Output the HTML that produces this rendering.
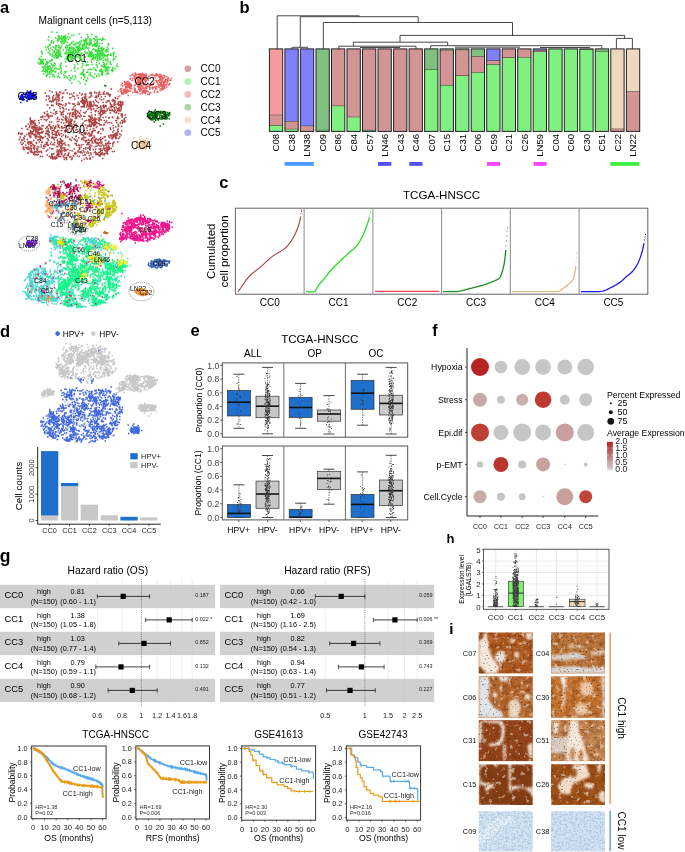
<!DOCTYPE html><html><head><meta charset="utf-8"><style>html,body{margin:0;padding:0;background:#fff;}svg{display:block;filter:blur(0.3px);}text{font-family:"Liberation Sans", sans-serif;}</style></head><body>
<svg width="685" height="852" viewBox="0 0 685 852" font-family='"Liberation Sans", sans-serif'>
<rect width="685" height="852" fill="#fff"/>
<path transform="scale(.5)" fill="none" stroke="#b04646" stroke-width="3" d="M221 178h3m-95 2h3m-2 0h3m-35 2h3m106 1h3m-107 1h3m5 0h3m4 0h3m67 0h3m7 0h3m-81 1h3m58 0h3m-95 1h3m34 0h3m4 0h3m10 0h3m9 0h3m17 0h3m0 0h3m4 0h3m1 0h3m1 0h3m6 0h3m4 0h3m-103 1h3m9 0h3m53 0h3m22 0h3m5 0h3m-1 0h3m-102 1h3m19 0h3m1 0h3m18 0h3m4 0h3m32 0h3m0 0h3m2 0h3m-48 1h3m26 0h3m0 0h3m13 0h3m0 0h3m-111 1h3m0 0h3m0 0h3m42 0h3m16 0h3m11 0h3m19 0h3m-2 0h3m-115 1h3m6 0h3m35 0h3m-2 0h3m-65 1h3m1 0h3m16 0h3m26 0h3m23 0h3m9 0h3m6 0h3m-102 1h3m21 0h3m28 0h3m45 0h3m11 0h3m6 0h3m-117 1h3m4 0h3m0 0h3m7 0h3m40 0h3m0 0h3m6 0h3m9 0h3m7 0h3m-106 1h3m15 0h3m21 0h3m34 0h3m9 0h3m0 0h3m34 0h3m-109 1h3m12 0h3m14 0h3m5 0h3m-62 1h3m2 0h3m-2 0h3m4 0h3m48 0h3m-1 0h3m57 0h3m1 0h3m-141 1h3m5 0h3m41 0h3m47 0h3m5 0h3m-100 1h3m2 0h3m-2 0h3m45 0h3m6 0h3m50 0h3m-137 1h3m10 0h3m0 0h3m-2 0h3m1 0h3m1 0h3m47 0h3m2 0h3m16 0h3m9 0h3m-82 1h3m36 0h3m-2 0h3m-1 0h3m-2 0h3m-2 0h3m45 0h3m5 0h3m2 0h3m-132 1h3m14 0h3m47 0h3m0 0h3m0 0h3m39 0h3m0 0h3m4 0h3m0 0h3m-132 1h3m0 0h3m1 0h3m52 0h3m17 0h3m2 0h3m4 0h3m18 0h3m22 0h3m-2 0h3m-140 1h3m7 0h3m48 0h3m0 0h3m-1 0h3m-2 0h3m-2 0h3m1 0h3m1 0h3m48 0h3m3 0h3m1 0h3m0 0h3m-1 0h3m-92 1h3m4 0h3m0 0h3m-1 0h3m-1 0h3m23 0h3m7 0h3m3 0h3m26 0h3m-1 0h3m-134 1h3m22 0h3m30 0h3m-2 0h3m5 0h3m-1 0h3m4 0h3m29 0h3m5 0h3m-2 0h3m4 0h3m-123 1h3m0 0h3m9 0h3m5 0h3m16 0h3m4 0h3m0 0h3m-2 0h3m3 0h3m2 0h3m-1 0h3m35 0h3m18 0h3m1 0h3m-130 1h3m-2 0h3m23 0h3m0 0h3m24 0h3m1 0h3m-1 0h3m-2 0h3m43 0h3m4 0h3m-2 0h3m-126 1h3m6 0h3m7 0h3m20 0h3m0 0h3m6 0h3m5 0h3m1 0h3m-2 0h3m38 0h3m7 0h3m4 0h3m4 0h3m-154 1h3m-2 0h3m5 0h3m19 0h3m40 0h3m2 0h3m4 0h3m-2 0h3m2 0h3m0 0h3m15 0h3m13 0h3m2 0h3m5 0h3m-2 0h3m1 0h3m-2 0h3m-1 0h3m-2 0h3m-145 1h3m0 0h3m8 0h3m30 0h3m22 0h3m2 0h3m-1 0h3m6 0h3m-2 0h3m16 0h3m25 0h3m-112 1h3m34 0h3m-2 0h3m6 0h3m3 0h3m6 0h3m-1 0h3m4 0h3m1 0h3m4 0h3m7 0h3m-106 1h3m40 0h3m0 0h3m0 0h3m10 0h3m1 0h3m20 0h3m-1 0h3m-1 0h3m9 0h3m-1 0h3m12 0h3m-2 0h3m-98 1h3m13 0h3m2 0h3m2 0h3m3 0h3m38 0h3m9 0h3m-111 1h3m51 0h3m16 0h3m0 0h3m4 0h3m12 0h3m3 0h3m7 0h3m1 0h3m-146 1h3m24 0h3m50 0h3m20 0h3m3 0h3m-91 1h3m58 0h3m10 0h3m20 0h3m14 0h3m0 0h3m-113 1h3m2 0h3m11 0h3m27 0h3m3 0h3m-2 0h3m1 0h3m13 0h3m8 0h3m12 0h3m2 0h3m-1 0h3m3 0h3m-100 1h3m2 0h3m22 0h3m46 0h3m12 0h3m-134 1h3m26 0h3m4 0h3m35 0h3m15 0h3m-1 0h3m14 0h3m-71 1h3m7 0h3m28 0h3m8 0h3m1 0h3m-1 0h3m2 0h3m2 0h3m0 0h3m-1 0h3m3 0h3m2 0h3m0 0h3m-114 1h3m19 0h3m2 0h3m33 0h3m8 0h3m2 0h3m-2 0h3m16 0h3m-2 0h3m8 0h3m0 0h3m-150 1h3m16 0h3m4 0h3m3 0h3m26 0h3m14 0h3m15 0h3m3 0h3m5 0h3m-1 0h3m-1 0h3m-1 0h3m-2 0h3m19 0h3m-125 1h3m36 0h3m2 0h3m70 0h3m-143 1h3m10 0h3m18 0h3m0 0h3m18 0h3m6 0h3m9 0h3m12 0h3m15 0h3m2 0h3m-2 0h3m24 0h3m-96 1h3m1 0h3m12 0h3m8 0h3m36 0h3m8 0h3m8 0h3m-145 1h3m14 0h3m4 0h3m19 0h3m9 0h3m1 0h3m4 0h3m36 0h3m0 0h3m3 0h3m28 0h3m-145 1h3m12 0h3m9 0h3m14 0h3m5 0h3m2 0h3m87 0h3m-1 0h3m-154 1h3m27 0h3m0 0h3m16 0h3m1 0h3m-2 0h3m51 0h3m37 0h3m-125 1h3m14 0h3m2 0h3m13 0h3m20 0h3m4 0h3m7 0h3m-2 0h3m46 0h3m-159 1h3m0 0h3m142 0h3m-160 1h3m6 0h3m-1 0h3m2 0h3m0 0h3m24 0h3m16 0h3m1 0h3m-2 0h3m-2 0h3m3 0h3m12 0h3m-1 0h3m18 0h3m41 0h3m-157 1h3m5 0h3m43 0h3m-2 0h3m-2 0h3m18 0h3m-1 0h3m29 0h3m-123 1h3m0 0h3m-2 0h3m38 0h3m3 0h3m3 0h3m10 0h3m5 0h3m19 0h3m-1 0h3m25 0h3m10 0h3m8 0h3m6 0h3m-162 1h3m27 0h3m34 0h3m-2 0h3m24 0h3m23 0h3m9 0h3m4 0h3m23 0h3m-194 1h3m34 0h3m30 0h3m0 0h3m14 0h3m30 0h3m-2 0h3m2 0h3m4 0h3m0 0h3m15 0h3m-68 1h3m79 0h3m0 0h3m8 0h3m-137 1h3m16 0h3m1 0h3m1 0h3m20 0h3m14 0h3m-2 0h3m1 0h3m2 0h3m54 0h3m-191 1h3m19 0h3m3 0h3m-2 0h3m2 0h3m21 0h3m2 0h3m4 0h3m8 0h3m33 0h3m0 0h3m5 0h3m-2 0h3m1 0h3m3 0h3m-77 1h3m16 0h3m34 0h3m6 0h3m4 0h3m2 0h3m43 0h3m-188 1h3m3 0h3m5 0h3m12 0h3m36 0h3m-2 0h3m37 0h3m1 0h3m6 0h3m-2 0h3m-1 0h3m17 0h3m20 0h3m-1 0h3m7 0h3m-2 0h3m-186 1h3m0 0h3m-2 0h3m66 0h3m0 0h3m1 0h3m25 0h3m6 0h3m-1 0h3m15 0h3m12 0h3m33 0h3m-189 1h3m1 0h3m44 0h3m0 0h3m18 0h3m1 0h3m4 0h3m30 0h3m5 0h3m-2 0h3m51 0h3m2 0h3m-193 1h3m36 0h3m1 0h3m30 0h3m2 0h3m4 0h3m27 0h3m0 0h3m5 0h3m56 0h3m-187 1h3m-1 0h3m53 0h3m7 0h3m2 0h3m-1 0h3m-2 0h3m40 0h3m1 0h3m0 0h3m-1 0h3m15 0h3m-2 0h3m5 0h3m11 0h3m4 0h3m-182 1h3m5 0h3m6 0h3m46 0h3m6 0h3m0 0h3m24 0h3m16 0h3m2 0h3m-2 0h3m-1 0h3m-2 0h3m18 0h3m5 0h3m14 0h3m1 0h3m-181 1h3m72 0h3m-2 0h3m38 0h3m10 0h3m-1 0h3m-145 1h3m2 0h3m5 0h3m-2 0h3m65 0h3m1 0h3m7 0h3m9 0h3m12 0h3m1 0h3m-2 0h3m-2 0h3m1 0h3m-129 1h3m32 0h3m-2 0h3m13 0h3m20 0h3m-2 0h3m-2 0h3m3 0h3m-1 0h3m32 0h3m-2 0h3m0 0h3m1 0h3m14 0h3m25 0h3m-124 1h3m19 0h3m10 0h3m17 0h3m26 0h3m0 0h3m2 0h3m-151 1h3m8 0h3m0 0h3m10 0h3m8 0h3m17 0h3m9 0h3m-1 0h3m1 0h3m27 0h3m8 0h3m0 0h3m7 0h3m34 0h3m-177 1h3m12 0h3m13 0h3m20 0h3m2 0h3m19 0h3m-2 0h3m6 0h3m7 0h3m5 0h3m10 0h3m0 0h3m2 0h3m2 0h3m47 0h3m-189 1h3m5 0h3m3 0h3m1 0h3m22 0h3m3 0h3m-2 0h3m19 0h3m12 0h3m38 0h3m0 0h3m9 0h3m39 0h3m4 0h3m-183 1h3m0 0h3m9 0h3m35 0h3m112 0h3m-176 1h3m3 0h3m0 0h3m-1 0h3m-1 0h3m0 0h3m2 0h3m11 0h3m5 0h3m-2 0h3m4 0h3m-1 0h3m4 0h3m8 0h3m12 0h3m-2 0h3m-1 0h3m2 0h3m37 0h3m-132 1h3m3 0h3m9 0h3m20 0h3m1 0h3m-2 0h3m-2 0h3m-2 0h3m9 0h3m0 0h3m44 0h3m44 0h3m3 0h3m-186 1h3m19 0h3m3 0h3m-2 0h3m3 0h3m10 0h3m2 0h3m10 0h3m26 0h3m45 0h3m-2 0h3m15 0h3m-154 1h3m15 0h3m1 0h3m1 0h3m1 0h3m14 0h3m38 0h3m-1 0h3m54 0h3m32 0h3m-184 1h3m9 0h3m4 0h3m-2 0h3m1 0h3m0 0h3m50 0h3m16 0h3m2 0h3m18 0h3m38 0h3m-154 1h3m-2 0h3m4 0h3m26 0h3m41 0h3m52 0h3m26 0h3m-178 1h3m4 0h3m25 0h3m-2 0h3m5 0h3m8 0h3m-1 0h3m2 0h3m-2 0h3m4 0h3m35 0h3m3 0h3m9 0h3m-1 0h3m-1 0h3m34 0h3m-155 1h3m14 0h3m13 0h3m4 0h3m11 0h3m10 0h3m98 0h3m-183 1h3m-1 0h3m-2 0h3m2 0h3m0 0h3m7 0h3m-1 0h3m6 0h3m10 0h3m3 0h3m18 0h3m21 0h3m23 0h3m9 0h3m36 0h3m-178 1h3m0 0h3m31 0h3m10 0h3m16 0h3m50 0h3m39 0h3m-191 1h3m23 0h3m5 0h3m1 0h3m-1 0h3m-2 0h3m0 0h3m-2 0h3m13 0h3m3 0h3m6 0h3m31 0h3m19 0h3m5 0h3m4 0h3m8 0h3m37 0h3m-181 1h3m-2 0h3m-1 0h3m-1 0h3m-1 0h3m11 0h3m-2 0h3m-1 0h3m0 0h3m6 0h3m21 0h3m39 0h3m10 0h3m21 0h3m33 0h3m-1 0h3m-196 1h3m0 0h3m12 0h3m-1 0h3m-1 0h3m9 0h3m13 0h3m10 0h3m15 0h3m76 0h3m27 0h3m-197 1h3m2 0h3m12 0h3m2 0h3m-2 0h3m-2 0h3m-2 0h3m-1 0h3m4 0h3m17 0h3m-1 0h3m11 0h3m-1 0h3m47 0h3m2 0h3m0 0h3m1 0h3m1 0h3m1 0h3m-2 0h3m43 0h3m0 0h3m4 0h3m-200 1h3m8 0h3m11 0h3m-1 0h3m-2 0h3m5 0h3m24 0h3m0 0h3m6 0h3m60 0h3m45 0h3m1 0h3m-2 0h3m-168 1h3m27 0h3m18 0h3m4 0h3m35 0h3m53 0h3m1 0h3m-2 0h3m4 0h3m7 0h3m-187 1h3m11 0h3m21 0h3m12 0h3m0 0h3m14 0h3m49 0h3m36 0h3m-2 0h3m3 0h3m0 0h3m-1 0h3m-188 1h3m7 0h3m-1 0h3m16 0h3m69 0h3m12 0h3m8 0h3m0 0h3m4 0h3m26 0h3m1 0h3m2 0h3m0 0h3m-183 1h3m9 0h3m6 0h3m-1 0h3m0 0h3m4 0h3m5 0h3m11 0h3m16 0h3m25 0h3m56 0h3m-173 1h3m17 0h3m7 0h3m-2 0h3m3 0h3m0 0h3m15 0h3m30 0h3m1 0h3m50 0h3m17 0h3m20 0h3m5 0h3m-202 1h3m4 0h3m11 0h3m20 0h3m-1 0h3m17 0h3m0 0h3m0 0h3m16 0h3m10 0h3m21 0h3m0 0h3m15 0h3m9 0h3m14 0h3m3 0h3m0 0h3m-159 1h3m7 0h3m19 0h3m-1 0h3m49 0h3m4 0h3m-2 0h3m17 0h3m34 0h3m8 0h3m-151 1h3m6 0h3m10 0h3m10 0h3m60 0h3m-2 0h3m18 0h3m23 0h3m-2 0h3m2 0h3m-192 1h3m28 0h3m-2 0h3m56 0h3m6 0h3m14 0h3m24 0h3m3 0h3m23 0h3m-189 1h3m13 0h3m39 0h3m22 0h3m16 0h3m20 0h3m11 0h3m11 0h3m6 0h3m-1 0h3m-162 1h3m-1 0h3m27 0h3m-1 0h3m28 0h3m3 0h3m33 0h3m1 0h3m10 0h3m6 0h3m-2 0h3m3 0h3m2 0h3m4 0h3m-2 0h3m-155 1h3m20 0h3m11 0h3m12 0h3m23 0h3m17 0h3m28 0h3m4 0h3m18 0h3m6 0h3m-2 0h3m-99 1h3m5 0h3m-1 0h3m42 0h3m-1 0h3m15 0h3m8 0h3m-155 1h3m4 0h3m59 0h3m0 0h3m0 0h3m26 0h3m28 0h3m2 0h3m25 0h3m-163 1h3m0 0h3m0 0h3m12 0h3m3 0h3m15 0h3m13 0h3m-1 0h3m48 0h3m54 0h3m4 0h3m-197 1h3m13 0h3m12 0h3m8 0h3m6 0h3m-1 0h3m12 0h3m7 0h3m-1 0h3m-2 0h3m53 0h3m9 0h3m-1 0h3m-1 0h3m2 0h3m2 0h3m9 0h3m7 0h3m-183 1h3m6 0h3m57 0h3m11 0h3m43 0h3m6 0h3m-2 0h3m9 0h3m2 0h3m-145 1h3m0 0h3m7 0h3m39 0h3m1 0h3m-2 0h3m-2 0h3m-2 0h3m-2 0h3m1 0h3m20 0h3m-1 0h3m37 0h3m0 0h3m4 0h3m6 0h3m-1 0h3m-1 0h3m-1 0h3m0 0h3m3 0h3m-136 1h3m4 0h3m3 0h3m15 0h3m-2 0h3m49 0h3m17 0h3m25 0h3m-185 1h3m-2 0h3m10 0h3m5 0h3m22 0h3m-2 0h3m-1 0h3m-1 0h3m6 0h3m10 0h3m32 0h3m11 0h3m4 0h3m0 0h3m33 0h3m-164 1h3m28 0h3m23 0h3m7 0h3m9 0h3m4 0h3m17 0h3m2 0h3m15 0h3m14 0h3m5 0h3m5 0h3m-155 1h3m2 0h3m0 0h3m15 0h3m5 0h3m-2 0h3m25 0h3m9 0h3m-2 0h3m13 0h3m2 0h3m49 0h3m4 0h3m-158 1h3m55 0h3m-2 0h3m59 0h3m7 0h3m-2 0h3m3 0h3m-1 0h3m2 0h3m15 0h3m-160 1h3m16 0h3m0 0h3m20 0h3m-1 0h3m4 0h3m54 0h3m8 0h3m-146 1h3m6 0h3m15 0h3m0 0h3m2 0h3m77 0h3m48 0h3m1 0h3m-174 1h3m2 0h3m0 0h3m101 0h3m55 0h3m-166 1h3m2 0h3m-2 0h3m-2 0h3m-2 0h3m2 0h3m-2 0h3m-1 0h3m27 0h3m19 0h3m0 0h3m0 0h3m-1 0h3m39 0h3m1 0h3m0 0h3m-1 0h3m24 0h3m1 0h3m-2 0h3m1 0h3m0 0h3m-176 1h3m-2 0h3m3 0h3m-2 0h3m5 0h3m21 0h3m-2 0h3m15 0h3m21 0h3m27 0h3m5 0h3m31 0h3m4 0h3m4 0h3m4 0h3m-178 1h3m6 0h3m-1 0h3m12 0h3m-1 0h3m25 0h3m16 0h3m23 0h3m20 0h3m17 0h3m4 0h3m5 0h3m-1 0h3m6 0h3m-172 1h3m5 0h3m9 0h3m58 0h3m3 0h3m20 0h3m18 0h3m4 0h3m25 0h3m-2 0h3m-1 0h3m-2 0h3m-159 1h3m30 0h3m16 0h3m1 0h3m7 0h3m0 0h3m46 0h3m18 0h3m9 0h3m-154 1h3m9 0h3m43 0h3m1 0h3m-2 0h3m4 0h3m5 0h3m23 0h3m33 0h3m-1 0h3m2 0h3m-1 0h3m1 0h3m-158 1h3m0 0h3m26 0h3m22 0h3m-2 0h3m-2 0h3m7 0h3m12 0h3m8 0h3m56 0h3m-157 1h3m6 0h3m-2 0h3m4 0h3m1 0h3m-2 0h3m31 0h3m1 0h3m0 0h3m36 0h3m10 0h3m12 0h3m7 0h3m9 0h3m9 0h3m1 0h3m-170 1h3m9 0h3m3 0h3m31 0h3m6 0h3m31 0h3m0 0h3m6 0h3m-2 0h3m18 0h3m-129 1h3m-1 0h3m6 0h3m5 0h3m35 0h3m26 0h3m8 0h3m24 0h3m-2 0h3m5 0h3m-1 0h3m2 0h3m6 0h3m-2 0h3m-162 1h3m-2 0h3m10 0h3m45 0h3m17 0h3m24 0h3m6 0h3m1 0h3m1 0h3m8 0h3m18 0h3m-109 1h3m5 0h3m5 0h3m4 0h3m16 0h3m0 0h3m38 0h3m-2 0h3m4 0h3m0 0h3m-2 0h3m1 0h3m-1 0h3m-147 1h3m33 0h3m0 0h3m13 0h3m25 0h3m48 0h3m11 0h3m-146 1h3m1 0h3m39 0h3m2 0h3m10 0h3m30 0h3m10 0h3m6 0h3m-2 0h3m0 0h3m-2 0h3m3 0h3m1 0h3m-1 0h3m-142 1h3m2 0h3m17 0h3m16 0h3m0 0h3m9 0h3m-2 0h3m38 0h3m25 0h3m-2 0h3m6 0h3m-108 1h3m28 0h3m-1 0h3m27 0h3m9 0h3m16 0h3m-96 1h3m9 0h3m27 0h3m-2 0h3m4 0h3m43 0h3m-123 1h3m1 0h3m11 0h3m16 0h3m-1 0h3m-1 0h3m2 0h3m11 0h3m-2 0h3m14 0h3m-60 1h3m4 0h3m-1 0h3m0 0h3m23 0h3m43 0h3m-87 1h3m-1 0h3m0 0h3m1 0h3m-1 0h3m13 0h3m2 0h3m-35 1h3m0 0h3m-2 0h3m-2 0h3m-2 0h3m-1 0h3m-2 0h3m0 0h3m15 0h3m10 0h3m25 0h3m5 0h3m-77 1h3m1 0h3m-1 0h3m17 0h3m44 0h3m23 0h3m-103 1h3m2 0h3m61 0h3m2 0h3m-2 0h3m-55 1h3m2 0h3m7 0h3m22 0h3m-8 2h3"/>
<path transform="scale(.5)" fill="none" stroke="#3ae03a" stroke-width="3" d="M102 64h3m7 1h3m21 3h3m18 0h3m13 1h3m6 0h3m-39 1h3m-20 1h3m10 0h3m-30 1h3m-1 0h3m1 0h3m2 1h3m46 0h3m11 0h3m0 0h3m-99 1h3m24 0h3m3 0h3m2 0h3m54 0h3m-78 1h3m5 0h3m-1 0h3m9 0h3m20 0h3m10 0h3m-67 1h3m4 0h3m-2 0h3m3 0h3m0 0h3m74 0h3m-89 1h3m0 0h3m0 0h3m2 0h3m-1 0h3m51 0h3m-74 1h3m1 0h3m1 0h3m2 0h3m40 0h3m-1 0h3m2 0h3m-2 0h3m6 0h3m3 0h3m3 0h3m-67 1h3m32 0h3m22 0h3m-2 0h3m5 0h3m0 0h3m-115 1h3m17 0h3m-2 0h3m4 0h3m1 0h3m-1 0h3m33 0h3m-2 0h3m3 0h3m6 0h3m6 0h3m10 0h3m-104 1h3m8 0h3m14 0h3m33 0h3m10 0h3m20 0h3m-82 1h3m-1 0h3m-2 0h3m1 0h3m28 0h3m2 0h3m0 0h3m-1 0h3m19 0h3m-82 1h3m3 0h3m2 0h3m-2 0h3m0 0h3m13 0h3m40 0h3m-90 1h3m2 0h3m11 0h3m34 0h3m1 0h3m4 0h3m-2 0h3m-2 0h3m-2 0h3m4 0h3m-1 0h3m-50 1h3m6 0h3m34 0h3m-2 0h3m9 0h3m-94 1h3m1 0h3m14 0h3m2 0h3m12 0h3m7 0h3m17 0h3m-2 0h3m1 0h3m0 0h3m-2 0h3m10 0h3m-47 1h3m2 0h3m1 0h3m5 0h3m18 0h3m-1 0h3m-2 0h3m4 0h3m2 0h3m9 0h3m-94 1h3m12 0h3m29 0h3m6 0h3m-85 1h3m44 0h3m0 0h3m12 0h3m-2 0h3m5 0h3m-1 0h3m0 0h3m0 0h3m4 0h3m-1 0h3m23 0h3m-86 1h3m3 0h3m6 0h3m-2 0h3m7 0h3m2 0h3m-1 0h3m-1 0h3m5 0h3m-2 0h3m5 0h3m0 0h3m2 0h3m21 0h3m-120 1h3m8 0h3m3 0h3m39 0h3m4 0h3m25 0h3m-85 1h3m-2 0h3m1 0h3m3 0h3m10 0h3m-2 0h3m13 0h3m9 0h3m2 0h3m12 0h3m1 0h3m-1 0h3m2 0h3m-1 0h3m-105 1h3m32 0h3m20 0h3m0 0h3m32 0h3m-104 1h3m12 0h3m3 0h3m28 0h3m18 0h3m5 0h3m39 0h3m-122 1h3m12 0h3m4 0h3m-1 0h3m-2 0h3m-2 0h3m10 0h3m2 0h3m11 0h3m0 0h3m0 0h3m11 0h3m28 0h3m-106 1h3m6 0h3m18 0h3m6 0h3m2 0h3m0 0h3m3 0h3m9 0h3m-1 0h3m0 0h3m3 0h3m16 0h3m-2 0h3m2 0h3m-64 1h3m2 0h3m11 0h3m1 0h3m0 0h3m5 0h3m22 0h3m4 0h3m15 0h3m-131 1h3m10 0h3m7 0h3m16 0h3m0 0h3m10 0h3m-1 0h3m-1 0h3m2 0h3m0 0h3m17 0h3m6 0h3m4 0h3m10 0h3m-127 1h3m17 0h3m21 0h3m7 0h3m1 0h3m2 0h3m5 0h3m19 0h3m1 0h3m13 0h3m5 0h3m-112 1h3m9 0h3m7 0h3m4 0h3m1 0h3m7 0h3m-1 0h3m-2 0h3m4 0h3m32 0h3m-2 0h3m-2 0h3m-1 0h3m7 0h3m-94 1h3m0 0h3m29 0h3m1 0h3m-1 0h3m1 0h3m14 0h3m12 0h3m3 0h3m2 0h3m-2 0h3m3 0h3m-2 0h3m-115 1h3m6 0h3m3 0h3m0 0h3m12 0h3m5 0h3m-2 0h3m47 0h3m-1 0h3m1 0h3m-1 0h3m-1 0h3m8 0h3m0 0h3m-136 1h3m53 0h3m-1 0h3m1 0h3m-2 0h3m-2 0h3m2 0h3m-2 0h3m2 0h3m22 0h3m5 0h3m-2 0h3m0 0h3m7 0h3m8 0h3m-134 1h3m27 0h3m3 0h3m15 0h3m6 0h3m6 0h3m10 0h3m8 0h3m-1 0h3m14 0h3m10 0h3m-119 1h3m7 0h3m0 0h3m1 0h3m-1 0h3m-2 0h3m16 0h3m-1 0h3m0 0h3m0 0h3m-2 0h3m-2 0h3m0 0h3m0 0h3m-1 0h3m-1 0h3m21 0h3m-2 0h3m12 0h3m1 0h3m2 0h3m-92 1h3m0 0h3m10 0h3m-2 0h3m-2 0h3m7 0h3m0 0h3m-2 0h3m-2 0h3m-2 0h3m11 0h3m5 0h3m0 0h3m2 0h3m-2 0h3m-2 0h3m-2 0h3m-1 0h3m14 0h3m-1 0h3m0 0h3m17 0h3m-1 0h3m-132 1h3m9 0h3m-1 0h3m13 0h3m5 0h3m4 0h3m2 0h3m20 0h3m3 0h3m-2 0h3m0 0h3m9 0h3m1 0h3m0 0h3m-1 0h3m-122 1h3m24 0h3m-1 0h3m1 0h3m1 0h3m9 0h3m5 0h3m2 0h3m6 0h3m2 0h3m0 0h3m29 0h3m7 0h3m13 0h3m-119 1h3m3 0h3m-1 0h3m1 0h3m16 0h3m-2 0h3m1 0h3m4 0h3m27 0h3m-1 0h3m-1 0h3m1 0h3m1 0h3m0 0h3m-1 0h3m-1 0h3m1 0h3m1 0h3m-1 0h3m-1 0h3m4 0h3m7 0h3m-129 1h3m-2 0h3m7 0h3m6 0h3m53 0h3m-2 0h3m-1 0h3m-2 0h3m3 0h3m4 0h3m-2 0h3m-2 0h3m3 0h3m5 0h3m2 0h3m3 0h3m-112 1h3m-2 0h3m-1 0h3m24 0h3m3 0h3m1 0h3m3 0h3m19 0h3m-2 0h3m2 0h3m-1 0h3m10 0h3m-1 0h3m-2 0h3m5 0h3m0 0h3m5 0h3m-119 1h3m1 0h3m-2 0h3m-2 0h3m-2 0h3m-2 0h3m-2 0h3m-2 0h3m0 0h3m13 0h3m-1 0h3m-1 0h3m11 0h3m4 0h3m-1 0h3m16 0h3m12 0h3m-2 0h3m4 0h3m-2 0h3m1 0h3m1 0h3m11 0h3m-148 1h3m19 0h3m6 0h3m6 0h3m21 0h3m3 0h3m21 0h3m1 0h3m0 0h3m5 0h3m6 0h3m11 0h3m14 0h3m-122 1h3m17 0h3m5 0h3m0 0h3m1 0h3m5 0h3m2 0h3m7 0h3m6 0h3m5 0h3m3 0h3m-2 0h3m-85 1h3m-2 0h3m-1 0h3m18 0h3m5 0h3m12 0h3m23 0h3m3 0h3m4 0h3m-1 0h3m4 0h3m-102 1h3m1 0h3m1 0h3m16 0h3m-1 0h3m21 0h3m24 0h3m36 0h3m-152 1h3m31 0h3m27 0h3m0 0h3m-1 0h3m9 0h3m28 0h3m2 0h3m6 0h3m-77 1h3m0 0h3m1 0h3m1 0h3m40 0h3m12 0h3m9 0h3m1 0h3m11 0h3m-154 1h3m0 0h3m2 0h3m1 0h3m10 0h3m27 0h3m25 0h3m-1 0h3m20 0h3m13 0h3m-120 1h3m16 0h3m75 0h3m9 0h3m-2 0h3m12 0h3m13 0h3m-147 1h3m57 0h3m7 0h3m42 0h3m6 0h3m4 0h3m-135 1h3m-2 0h3m-2 0h3m-1 0h3m11 0h3m0 0h3m31 0h3m0 0h3m21 0h3m-86 1h3m10 0h3m35 0h3m82 0h3m-138 1h3m-1 0h3m-1 0h3m65 0h3m14 0h3m2 0h3m5 0h3m34 0h3m-148 1h3m8 0h3m6 0h3m-1 0h3m93 0h3m10 0h3m-129 1h3m-1 0h3m-1 0h3m6 0h3m12 0h3m11 0h3m-42 1h3m79 0h3m30 0h3m7 0h3m2 0h3m4 0h3m-145 1h3m0 0h3m2 0h3m3 0h3m-2 0h3m-2 0h3m5 0h3m5 0h3m42 0h3m76 0h3m-146 1h3m27 0h3m49 0h3m8 0h3m21 0h3m1 0h3m7 0h3m-122 1h3m0 0h3m11 0h3m26 0h3m23 0h3m-2 0h3m13 0h3m-1 0h3m10 0h3m-89 1h3m41 0h3m4 0h3m34 0h3m-123 1h3m-2 0h3m2 0h3m1 0h3m6 0h3m91 0h3m-1 0h3m26 0h3m-140 1h3m33 0h3m74 0h3m-1 0h3m21 0h3m-154 1h3m0 0h3m3 0h3m9 0h3m12 0h3m26 0h3m42 0h3m9 0h3m-1 0h3m5 0h3m-126 1h3m0 0h3m1 0h3m60 0h3m42 0h3m-2 0h3m-2 0h3m-1 0h3m-1 0h3m2 0h3m3 0h3m-139 1h3m3 0h3m12 0h3m-2 0h3m6 0h3m64 0h3m22 0h3m-127 1h3m-2 0h3m2 0h3m6 0h3m16 0h3m23 0h3m4 0h3m53 0h3m0 0h3m-2 0h3m12 0h3m-143 1h3m6 0h3m-1 0h3m4 0h3m3 0h3m-1 0h3m-1 0h3m59 0h3m19 0h3m8 0h3m9 0h3m-142 1h3m8 0h3m67 0h3m6 0h3m1 0h3m0 0h3m4 0h3m19 0h3m-2 0h3m-122 1h3m5 0h3m95 0h3m0 0h3m2 0h3m1 0h3m8 0h3m0 0h3m-138 1h3m10 0h3m35 0h3m46 0h3m-2 0h3m19 0h3m0 0h3m-136 1h3m4 0h3m-2 0h3m10 0h3m-1 0h3m12 0h3m24 0h3m14 0h3m-82 1h3m-2 0h3m3 0h3m2 0h3m-2 0h3m8 0h3m15 0h3m1 0h3m63 0h3m-2 0h3m0 0h3m5 0h3m10 0h3m-136 1h3m4 0h3m-1 0h3m-1 0h3m-2 0h3m4 0h3m8 0h3m51 0h3m27 0h3m-43 1h3m5 0h3m27 0h3m-2 0h3m8 0h3m-123 1h3m32 0h3m30 0h3m15 0h3m-67 1h3m2 0h3m78 0h3m8 0h3m-130 1h3m8 0h3m-1 0h3m-2 0h3m56 0h3m4 0h3m19 0h3m5 0h3m3 0h3m11 0h3m-115 1h3m55 0h3m0 0h3m9 0h3m23 0h3m5 0h3m-122 1h3m-2 0h3m10 0h3m17 0h3m39 0h3m8 0h3m-91 1h3m43 0h3m40 0h3m9 0h3m8 0h3m-114 1h3m20 0h3m11 0h3m12 0h3m2 0h3m14 0h3m28 0h3m-96 1h3m76 0h3m6 0h3m-97 1h3m7 0h3m3 0h3m15 0h3m-17 1h3m6 0h3m20 0h3m15 0h3m15 0h3m-2 0h3m-51 1h3m0 0h3m16 0h3m-30 1h3m5 0h3m29 0h3m-30 2h3m16 0h3m-31 1h3m-2 1h3m28 0h3m-2 0h3m-2 1h3m-19 1h3m-17 3h3m14 1h3m7 1h3"/>
<path transform="scale(.5)" fill="none" stroke="#ec5e5e" stroke-width="3" d="M269 146h3m12 1h3m-23 1h3m3 0h3m3 0h3m0 0h3m0 0h3m6 0h3m17 0h3m-42 1h3m-2 0h3m-2 0h3m-2 0h3m-2 0h3m0 0h3m3 0h3m-1 0h3m13 0h3m8 0h3m1 0h3m-59 1h3m4 0h3m-2 0h3m10 0h3m0 0h3m2 0h3m6 0h3m-2 0h3m6 0h3m7 0h3m-42 1h3m3 0h3m-2 0h3m14 0h3m-1 0h3m3 0h3m5 0h3m2 0h3m-2 0h3m-71 1h3m4 0h3m8 0h3m0 0h3m-2 0h3m7 0h3m3 0h3m11 0h3m2 0h3m1 0h3m-2 0h3m-2 0h3m-57 1h3m5 0h3m1 0h3m3 0h3m0 0h3m36 0h3m1 0h3m-68 1h3m1 0h3m-2 0h3m-1 0h3m-2 0h3m-2 0h3m-2 0h3m-2 0h3m1 0h3m-1 0h3m9 0h3m17 0h3m-2 0h3m1 0h3m-2 0h3m3 0h3m-58 1h3m-2 0h3m-1 0h3m-2 0h3m0 0h3m1 0h3m-2 0h3m30 0h3m0 0h3m-1 0h3m-53 1h3m-2 0h3m-1 0h3m-2 0h3m1 0h3m21 0h3m1 0h3m14 0h3m6 0h3m-79 1h3m1 0h3m1 0h3m1 0h3m6 0h3m-2 0h3m-1 0h3m-1 0h3m1 0h3m-1 0h3m30 0h3m-2 0h3m13 0h3m-85 1h3m14 0h3m-2 0h3m-1 0h3m-2 0h3m-2 0h3m0 0h3m-2 0h3m1 0h3m2 0h3m22 0h3m1 0h3m8 0h3m-59 1h3m7 0h3m27 0h3m1 0h3m5 0h3m-1 0h3m-66 1h3m2 0h3m4 0h3m11 0h3m21 0h3m-1 0h3m13 0h3m-77 1h3m8 0h3m1 0h3m1 0h3m-2 0h3m2 0h3m-1 0h3m-2 0h3m15 0h3m-1 0h3m1 0h3m10 0h3m2 0h3m4 0h3m-74 1h3m2 0h3m-1 0h3m2 0h3m31 0h3m4 0h3m4 0h3m2 0h3m-90 1h3m-2 0h3m3 0h3m13 0h3m3 0h3m39 0h3m2 0h3m-2 0h3m2 0h3m-84 1h3m1 0h3m24 0h3m-1 0h3m6 0h3m19 0h3m3 0h3m4 0h3m-2 0h3m-2 0h3m-1 0h3m-2 0h3m1 0h3m-81 1h3m16 0h3m28 0h3m10 0h3m-1 0h3m-74 1h3m4 0h3m-2 0h3m11 0h3m1 0h3m0 0h3m1 0h3m-2 0h3m-2 0h3m26 0h3m3 0h3m3 0h3m-2 0h3m3 0h3m-93 1h3m3 0h3m1 0h3m0 0h3m-2 0h3m12 0h3m-1 0h3m-1 0h3m2 0h3m4 0h3m15 0h3m12 0h3m2 0h3m9 0h3m-92 1h3m1 0h3m-2 0h3m0 0h3m16 0h3m7 0h3m14 0h3m-54 1h3m1 0h3m1 0h3m12 0h3m2 0h3m13 0h3m2 0h3m11 0h3m0 0h3m1 0h3m-2 0h3m0 0h3m2 0h3m3 0h3m-99 1h3m4 0h3m2 0h3m-2 0h3m-1 0h3m0 0h3m-2 0h3m-2 0h3m5 0h3m3 0h3m0 0h3m4 0h3m1 0h3m8 0h3m14 0h3m-1 0h3m0 0h3m4 0h3m-2 0h3m-2 0h3m1 0h3m-82 1h3m-2 0h3m-2 0h3m0 0h3m3 0h3m29 0h3m0 0h3m21 0h3m-2 0h3m-86 1h3m6 0h3m2 0h3m-2 0h3m20 0h3m7 0h3m24 0h3m0 0h3m-1 0h3m-77 1h3m0 0h3m-1 0h3m0 0h3m-1 0h3m-2 0h3m10 0h3m0 0h3m-1 0h3m12 0h3m-2 0h3m-1 0h3m11 0h3m0 0h3m9 0h3m-76 1h3m-1 0h3m1 0h3m-2 0h3m12 0h3m0 0h3m3 0h3m3 0h3m14 0h3m0 0h3m11 0h3m1 0h3m1 0h3m-82 1h3m-1 0h3m18 0h3m-1 0h3m2 0h3m5 0h3m4 0h3m3 0h3m10 0h3m3 0h3m-2 0h3m-2 0h3m-78 1h3m5 0h3m6 0h3m16 0h3m-1 0h3m9 0h3m7 0h3m-73 1h3m-1 0h3m15 0h3m-1 0h3m15 0h3m1 0h3m4 0h3m-2 0h3m15 0h3m6 0h3m1 0h3m2 0h3m-72 1h3m7 0h3m4 0h3m19 0h3m3 0h3m3 0h3m-1 0h3m7 0h3m0 0h3m-89 1h3m4 0h3m-1 0h3m2 0h3m-2 0h3m20 0h3m-2 0h3m0 0h3m-37 1h3m0 0h3m-1 0h3m13 0h3m17 0h3m32 0h3m-84 1h3m4 0h3m2 0h3m12 0h3m14 0h3m2 0h3m25 0h3m-76 1h3m-1 0h3m-1 0h3m2 0h3m1 0h3m16 0h3m-1 0h3m1 0h3m5 0h3m13 0h3m-76 1h3m2 0h3m-2 0h3m11 0h3m-2 0h3m10 0h3m-2 0h3m-1 0h3m11 0h3m-2 0h3m-1 0h3m3 0h3m16 0h3m-69 1h3m-2 0h3m-2 0h3m-2 0h3m-1 0h3m12 0h3m-1 0h3m0 0h3m13 0h3m21 0h3m-74 1h3m1 0h3m0 0h3m12 0h3m6 0h3m7 0h3m0 0h3m1 0h3m7 0h3m4 0h3m-68 1h3m-2 0h3m-2 0h3m2 0h3m-1 0h3m20 0h3m12 0h3m6 0h3m-18 1h3m3 0h3m-50 1h3m-1 0h3m-2 0h3m31 0h3m12 1h3m0 0h3m-45 2h3m-20 1h3m-6 1h3"/>
<path transform="scale(.5)" fill="none" stroke="#1010f0" stroke-width="3" d="M53 182h3m4 0h3m-7 2h3m-1 0h3m-1 1h3m-17 1h3m2 0h3m2 0h3m-2 0h3m0 0h3m-13 1h3m-1 0h3m8 0h3m-1 0h3m-22 1h3m3 0h3m3 0h3m10 0h3m-32 1h3m1 0h3m0 0h3m-1 0h3m-1 0h3m1 0h3m0 0h3m-2 0h3m-1 0h3m2 0h3m-28 1h3m8 0h3m12 0h3m-15 1h3m4 0h3m-2 0h3m-2 0h3m-29 1h3m17 0h3m-2 0h3m-2 0h3m1 0h3m-30 1h3m-1 0h3m-1 0h3m-2 0h3m1 0h3m2 0h3m-2 0h3m-2 0h3m-2 0h3m-2 0h3m-1 0h3m1 0h3m-25 1h3m-2 0h3m0 0h3m-1 0h3m6 0h3m1 0h3m-2 0h3m-1 0h3m-1 0h3m-2 0h3m-2 0h3m0 0h3m-32 1h3m0 0h3m4 0h3m0 0h3m0 0h3m10 0h3m-33 1h3m2 0h3m4 0h3m-2 0h3m2 0h3m2 0h3m3 0h3m-2 0h3m-35 1h3m-2 0h3m-1 0h3m-2 0h3m-2 0h3m11 0h3m2 0h3m-1 0h3m-29 1h3m15 0h3m2 0h3m2 0h3m-27 1h3m-2 0h3m-2 0h3m0 0h3m7 0h3m-16 1h3m-1 0h3m3 2h3m-2 0h3m-16 3h3"/>
<path transform="scale(.5)" fill="none" stroke="#0a780a" stroke-width="3" d="M309 220h3m-15 2h3m7 1h3m-2 0h3m4 0h3m1 0h3m-1 0h3m1 0h3m-27 1h3m4 0h3m1 0h3m13 0h3m-30 1h3m2 0h3m0 0h3m3 0h3m2 0h3m2 0h3m-1 0h3m3 0h3m2 0h3m-42 1h3m-2 0h3m0 0h3m1 0h3m-2 0h3m-2 0h3m6 0h3m1 0h3m2 0h3m5 0h3m-45 1h3m2 0h3m3 0h3m-2 0h3m0 0h3m-2 0h3m-1 0h3m-1 0h3m4 0h3m2 0h3m0 0h3m4 0h3m-2 0h3m-2 0h3m-41 1h3m-1 0h3m-2 0h3m-2 0h3m-2 0h3m1 0h3m4 0h3m8 0h3m1 0h3m-35 1h3m-1 0h3m-1 0h3m3 0h3m0 0h3m-2 0h3m-2 0h3m12 0h3m2 0h3m2 0h3m-46 1h3m3 0h3m-2 0h3m3 0h3m6 0h3m-2 0h3m7 0h3m-2 0h3m2 0h3m0 0h3m-46 1h3m-1 0h3m0 0h3m0 0h3m-1 0h3m-2 0h3m-2 0h3m-2 0h3m-1 0h3m-2 0h3m8 0h3m-2 0h3m4 0h3m-2 0h3m-2 0h3m-33 1h3m0 0h3m-2 0h3m-2 0h3m-1 0h3m2 0h3m1 0h3m4 0h3m-1 0h3m0 0h3m4 0h3m-46 1h3m-2 0h3m8 0h3m-2 0h3m4 0h3m6 0h3m-2 0h3m-2 0h3m0 0h3m0 0h3m-1 0h3m-40 1h3m-1 0h3m4 0h3m-1 0h3m1 0h3m-2 0h3m-2 0h3m8 0h3m-1 0h3m-2 0h3m1 0h3m-36 1h3m-1 0h3m7 0h3m12 0h3m0 0h3m-2 0h3m-2 0h3m-1 0h3m-1 0h3m-39 1h3m0 0h3m2 0h3m2 0h3m9 0h3m-2 0h3m-1 0h3m2 0h3m0 0h3m-36 1h3m2 0h3m-1 0h3m1 0h3m1 0h3m-1 0h3m4 0h3m3 0h3m-31 1h3m-2 0h3m-2 0h3m-2 0h3m-2 0h3m10 0h3m-2 0h3m-1 0h3m-1 0h3m1 0h3m-2 0h3m0 0h3m2 0h3m-41 1h3m2 0h3m2 0h3m2 0h3m-15 1h3m-1 0h3m8 0h3m-8 1h3m-6 3h3m15 4h3m-9 4h3"/>
<path transform="scale(.5)" fill="none" stroke="#e2bf92" stroke-width="3" d="M280 273h3m-17 3h3m23 1h3m-18 1h3m0 3h3m2 0h3m1 0h3m-19 1h3m5 0h3m-1 0h3m-2 0h3m-1 0h3m4 0h3m-14 1h3m3 0h3m-11 1h3m-1 0h3m0 0h3m-2 0h3m-2 0h3m-2 0h3m-1 0h3m-18 1h3m-2 0h3m2 0h3m0 0h3m-2 0h3m0 0h3m1 0h3m-2 0h3m-23 1h3m0 0h3m-2 0h3m0 0h3m-2 0h3m-2 0h3m0 0h3m0 0h3m-2 0h3m-2 0h3m-19 1h3m-2 0h3m6 0h3m1 0h3m-16 1h3m9 0h3m2 0h3m-1 0h3m-26 1h3m1 0h3m-1 0h3m3 0h3m-14 1h3m-2 0h3m-2 0h3m-2 0h3m-2 0h3m5 0h3m-2 0h3m-1 0h3m-1 0h3m-2 0h3m0 0h3m-2 0h3m4 0h3m-30 1h3m3 0h3m4 0h3m1 0h3m-2 0h3m-1 0h3m-21 1h3m-1 0h3m-1 0h3m2 0h3m0 0h3m-2 0h3m0 0h3m-23 1h3m-2 0h3m-1 0h3m-2 0h3m1 0h3m5 0h3m-1 0h3m-15 1h3m-2 0h3m0 0h3m0 0h3m1 0h3m-2 0h3m-2 0h3m-19 1h3m-1 0h3m5 0h3m3 0h3m-15 1h3m-2 0h3m-2 0h3m0 0h3m-2 0h3m2 0h3m-14 1h3m-2 0h3m4 0h3m0 0h3m-1 0h3m-29 1h3"/>
<path transform="scale(.5)" fill="none" stroke="#0a780a" stroke-width="3" d="M208 171h3m-1 1h3"/>
<path transform="scale(.5)" fill="none" stroke="#28dc28" stroke-width="2" d="M95 226h2m22 30h2m18 38h2m64 16h2"/>
<text x="0.0" y="12.6" font-size="16.5" font-weight="bold">a</text>
<text x="38.6" y="24.0" font-size="10.2">Malignant cells (n=5,113)</text>
<text x="76.8" y="62.4" font-size="10" text-anchor="middle">CC1</text>
<text x="144.5" y="84.9" font-size="10" text-anchor="middle">CC2</text>
<text x="27.5" y="100.1" font-size="10" text-anchor="middle">CC5</text>
<text x="74.9" y="133.4" font-size="10" text-anchor="middle">CC0</text>
<text x="156.8" y="119.2" font-size="10" text-anchor="middle">CC3</text>
<text x="141.0" y="148.5" font-size="10" text-anchor="middle">CC4</text>
<circle cx="187.8" cy="68.8" r="3.3" fill="#d4a0a0"/>
<text x="200.5" y="72.4" font-size="10">CC0</text>
<circle cx="187.8" cy="81.6" r="3.3" fill="#aaf5aa"/>
<text x="200.5" y="85.2" font-size="10">CC1</text>
<circle cx="187.8" cy="94.4" r="3.3" fill="#f6b8b8"/>
<text x="200.5" y="98.0" font-size="10">CC2</text>
<circle cx="187.8" cy="107.2" r="3.3" fill="#a8d4a8"/>
<text x="200.5" y="110.8" font-size="10">CC3</text>
<circle cx="187.8" cy="120.0" r="3.3" fill="#f2e2cc"/>
<text x="200.5" y="123.6" font-size="10">CC4</text>
<circle cx="187.8" cy="132.8" r="3.3" fill="#b0b0fc"/>
<text x="200.5" y="136.4" font-size="10">CC5</text>
<path transform="scale(.5)" fill="none" stroke="#fcb27e" stroke-width="3" d="M171 366h3m-7 2h3m-54 2h3m47 0h3m-55 3h3m49 0h3m2 0h3m14 0h3m-78 1h3m-19 1h3m-2 0h3m-2 0h3m-2 0h3m13 0h3m-20 1h3m7 0h3m0 0h3m-16 1h3m6 0h3m71 0h3m-74 1h3m-2 0h3m1 0h3m-22 1h3m2 0h3m-7 1h3m8 0h3m-21 1h3m16 0h3m-19 1h3m-1 0h3m-6 1h3m-2 0h3m-2 0h3m1 0h3m-11 1h3m-1 0h3m-1 0h3m-2 0h3m-6 1h3m-2 0h3m-1 0h3m-2 0h3m-2 0h3m-7 1h3m0 0h3m-2 0h3m-11 1h3m1 0h3m0 0h3m-2 0h3m13 0h3m-22 1h3m-2 0h3m-4 1h3m0 0h3m33 0h3m27 1h3m-62 4h3m48 0h3m-51 1h3m-14 1h3m0 1h3m-4 1h3m96 0h3m-100 1h3m36 2h3m-50 1h3m41 0h3m43 2h3m-1 0h3m-29 1h3m-65 1h3m78 0h3m-2 0h3m-91 1h3m-1 0h3m3 0h3m1 0h3m75 0h3m0 0h3m-92 1h3m-2 0h3m0 0h3m2 0h3m73 0h3m-2 0h3m1 0h3m-6 1h3m3 0h3m-98 1h3m-7 1h3m-1 0h3m-2 0h3m0 0h3m-2 0h3m-2 0h3m0 0h3m-1 0h3m-1 0h3m-16 1h3m-2 0h3m-2 0h3m-1 0h3m-2 0h3m-2 0h3m-1 0h3m-1 0h3m1 0h3m71 0h3m-91 1h3m5 0h3m0 0h3m-1 0h3m-2 0h3m-15 1h3m0 0h3m-1 0h3m-2 0h3m-1 0h3m-2 0h3m-2 0h3m-2 0h3m-2 0h3m82 0h3m-97 1h3m-1 0h3m1 0h3m-2 0h3m1 0h3m-16 1h3m0 0h3m-1 0h3m-2 0h3m-1 0h3m-2 0h3m-2 0h3m-2 0h3m-2 0h3m-14 1h3m0 0h3m1 0h3m-10 1h3m39 0h3m-46 1h3m0 0h3m4 0h3m23 0h3m8 0h3m-48 1h3m-1 0h3m-2 0h3m32 0h3m1 0h3m0 0h3m-50 1h3m4 0h3m-7 1h3m0 0h3m-12 1h3m1 0h3m-2 0h3m-2 0h3m2 0h3m20 0h3m7 0h3m-46 1h3m2 0h3m-2 0h3m-13 1h3m7 0h3m-2 0h3m1 0h3m21 0h3m5 0h3m-39 1h3m0 0h3m22 0h3m-27 1h3m27 0h3m3 1h3m80 0h3m-133 1h3m35 0h3m3 0h3m-5 2h3m-42 1h3m3 0h3m27 0h3m3 0h3m-40 3h3m7 1h3m42 0h3m3 7h3m4 0h3m-7 1h3m1 1h3m-10 1h3m-1 0h3m-6 1h3m5 1h3m-7 1h3m-13 1h3m7 0h3m-21 4h3"/>
<path transform="scale(.5)" fill="none" stroke="#b3125a" stroke-width="3" d="M150 360h3m27 1h3m-59 2h3m43 0h3m5 0h3m-61 1h3m4 0h3m44 0h3m-3 1h3m1 0h3m0 0h3m-44 1h3m33 0h3m-5 1h3m0 0h3m-46 1h3m-1 0h3m33 0h3m0 0h3m-2 0h3m-49 1h3m7 0h3m29 0h3m4 0h3m-78 1h3m-2 0h3m-2 0h3m24 0h3m-1 0h3m-2 0h3m-1 0h3m10 0h3m21 0h3m-73 1h3m-1 0h3m19 0h3m-2 0h3m2 0h3m-2 0h3m-2 0h3m-2 0h3m34 0h3m2 0h3m-78 1h3m23 0h3m-1 0h3m-2 0h3m-2 0h3m12 0h3m21 0h3m-75 1h3m-1 0h3m-2 0h3m-1 0h3m10 0h3m9 0h3m0 0h3m-2 0h3m-1 0h3m10 0h3m24 0h3m-81 1h3m1 0h3m0 0h3m-2 0h3m22 0h3m-1 0h3m0 0h3m-1 0h3m2 0h3m38 0h3m-85 1h3m-2 0h3m-1 0h3m-2 0h3m-1 0h3m21 0h3m10 0h3m4 0h3m-51 1h3m-1 0h3m-2 0h3m19 0h3m25 0h3m-54 1h3m-2 0h3m-2 0h3m-1 0h3m2 0h3m-2 0h3m19 0h3m8 0h3m-1 0h3m-52 1h3m-1 0h3m30 0h3m4 0h3m-43 1h3m-2 0h3m33 0h3m-1 0h3m-1 0h3m1 0h3m-1 0h3m-47 1h3m26 0h3m5 0h3m5 1h3m-39 1h3m25 0h3m-36 1h3m-1 0h3m22 0h3m-2 0h3m1 0h3m0 0h3m4 0h3m58 0h3m-110 1h3m3 0h3m-2 0h3m18 0h3m-35 1h3m16 0h3m5 0h3m3 0h3m-33 1h3m5 0h3m0 0h3m3 0h3m11 0h3m-33 1h3m-2 0h3m0 0h3m0 0h3m18 0h3m3 0h3m2 0h3m-32 1h3m-2 0h3m5 0h3m12 0h3m-31 1h3m10 0h3m6 0h3m-2 0h3m-35 1h3m6 0h3m0 0h3m-2 0h3m-2 0h3m36 0h3m-63 1h3m11 0h3m34 0h3m3 0h3m9 0h3m52 0h3m-119 1h3m8 0h3m11 0h3m8 0h3m14 0h3m-49 1h3m3 0h3m0 0h3m14 0h3m18 0h3m-50 1h3m0 0h3m2 0h3m-1 0h3m14 0h3m-1 0h3m8 0h3m-2 0h3m1 0h3m-71 1h3m48 0h3m2 0h3m1 0h3m1 0h3m-1 0h3m0 0h3m-28 1h3m-1 0h3m1 0h3m9 0h3m4 0h3m-26 1h3m2 0h3m11 0h3m3 0h3m35 0h3m-67 1h3m15 0h3m-26 1h3m24 0h3m-2 0h3m-2 0h3m-68 1h3m19 0h3m9 0h3m12 0h3m9 0h3m-32 1h3m-23 1h3m12 0h3m-2 0h3m12 0h3m2 0h3m-21 1h3m24 0h3m6 0h3m7 0h3m-55 1h3m2 0h3m-2 0h3m-2 0h3m-13 1h3m1 0h3m2 0h3m-1 0h3m-26 1h3m12 0h3m-1 0h3m0 0h3m0 0h3m29 0h3m12 0h3m3 0h3m-66 1h3m-1 0h3m2 0h3m-2 0h3m-2 0h3m26 0h3m21 0h3m-68 1h3m-1 0h3m-2 0h3m-1 0h3m-2 0h3m3 0h3m0 0h3m-1 0h3m43 0h3m23 0h3m-87 1h3m1 0h3m0 0h3m30 0h3m14 0h3m-66 1h3m-2 0h3m2 0h3m61 0h3m-72 1h3m3 0h3m47 0h3m0 0h3m2 1h3m-6 1h3m1 0h3m-7 1h3m-2 0h3m12 0h3m-18 1h3m4 0h3m-14 1h3m-1 2h3m28 0h3m-36 2h3m-71 6h3m41 0h3m-54 8h3m42 1h3m-35 1h3m60 4h3m-5 1h3m2 0h3m-1 0h3m0 0h3m-10 2h3m-2 0h3m2 0h3m-45 1h3m39 0h3m-4 1h3m-2 0h3m-13 2h3m5 2h3m-31 5h3"/>
<path transform="scale(.5)" fill="none" stroke="#c9c91c" stroke-width="3" d="M167 362h3m-2 0h3m-1 0h3m-6 1h3m-2 0h3m-1 0h3m-2 0h3m1 0h3m-15 1h3m7 0h3m-13 1h3m8 0h3m-14 1h3m1 0h3m0 0h3m-5 1h3m9 1h3m5 0h3m-77 1h3m59 0h3m11 1h3m-27 2h3m30 1h3m1 0h3m-39 1h3m6 0h3m4 0h3m9 0h3m2 1h3m1 1h3m0 0h3m-12 1h3m-106 1h3m98 2h3m2 0h3m0 0h3m-2 0h3m0 0h3m0 0h3m-43 1h3m6 0h3m14 0h3m1 0h3m2 0h3m-10 1h3m12 0h3m-21 1h3m15 0h3m-21 1h3m-4 1h3m-2 0h3m2 0h3m0 0h3m1 0h3m-22 1h3m6 0h3m3 0h3m-2 0h3m-87 1h3m45 0h3m6 0h3m-12 1h3m35 0h3m1 0h3m-91 1h3m70 0h3m-78 1h3m77 0h3m0 0h3m6 0h3m-93 1h3m-2 0h3m-2 0h3m1 0h3m40 0h3m13 0h3m10 0h3m3 0h3m-1 0h3m3 0h3m1 0h3m-100 1h3m-2 0h3m-1 0h3m41 0h3m-1 0h3m6 0h3m40 0h3m-106 1h3m-1 0h3m35 0h3m5 0h3m-2 0h3m-1 0h3m14 0h3m-71 1h3m-2 0h3m5 0h3m26 0h3m-1 0h3m6 0h3m1 0h3m1 0h3m25 0h3m-47 1h3m-2 0h3m-2 0h3m3 0h3m0 0h3m1 0h3m27 0h3m-89 1h3m0 0h3m35 0h3m-2 0h3m5 0h3m-2 0h3m-2 0h3m0 0h3m5 0h3m10 0h3m2 0h3m-1 0h3m2 0h3m-89 1h3m-1 0h3m33 0h3m-2 0h3m3 0h3m-2 0h3m-51 1h3m3 0h3m31 0h3m-2 0h3m-2 0h3m7 0h3m24 0h3m-42 1h3m-2 0h3m45 0h3m-25 1h3m-2 0h3m7 0h3m8 0h3m-29 1h3m12 0h3m-2 0h3m-1 0h3m21 0h3m-1 0h3m-69 1h3m18 0h3m8 0h3m4 0h3m-2 0h3m21 0h3m-66 1h3m16 0h3m1 0h3m14 0h3m3 0h3m13 0h3m-42 1h3m9 0h3m1 0h3m23 0h3m-87 1h3m41 0h3m6 0h3m2 0h3m21 0h3m0 0h3m-2 0h3m-105 1h3m52 0h3m-1 0h3m1 0h3m6 0h3m-2 0h3m-2 0h3m10 0h3m2 0h3m-78 1h3m36 0h3m-1 0h3m7 0h3m0 0h3m-2 0h3m9 0h3m11 0h3m-73 1h3m1 0h3m23 0h3m11 0h3m1 0h3m22 0h3m0 0h3m-90 1h3m0 0h3m35 0h3m-2 0h3m0 0h3m1 0h3m3 0h3m-1 0h3m10 0h3m1 0h3m8 0h3m-1 0h3m-39 1h3m0 0h3m-2 0h3m-2 0h3m25 0h3m-2 0h3m-2 0h3m-87 1h3m2 0h3m17 0h3m23 0h3m0 0h3m12 0h3m-2 0h3m2 0h3m1 0h3m-1 0h3m-1 0h3m-86 1h3m17 0h3m30 0h3m-1 0h3m9 0h3m-1 0h3m-2 0h3m4 0h3m3 0h3m-83 1h3m61 0h3m-2 0h3m0 0h3m-2 0h3m-2 0h3m2 0h3m-1 0h3m3 0h3m-2 0h3m-123 1h3m95 0h3m1 0h3m1 0h3m0 0h3m-1 0h3m-2 0h3m-82 1h3m-2 0h3m-2 0h3m62 0h3m0 0h3m-1 0h3m-2 0h3m12 0h3m-93 1h3m48 0h3m14 0h3m-1 0h3m-2 0h3m-2 0h3m-1 0h3m0 0h3m2 0h3m-2 0h3m-25 1h3m9 0h3m6 0h3m0 0h3m-1 0h3m-118 1h3m80 0h3m-2 0h3m8 0h3m1 0h3m2 0h3m4 0h3m0 0h3m-70 1h3m24 0h3m3 0h3m8 0h3m4 0h3m-1 0h3m12 0h3m-2 0h3m-33 1h3m14 0h3m-1 0h3m3 0h3m-1 0h3m-2 0h3m-107 1h3m26 0h3m45 0h3m1 0h3m5 0h3m8 0h3m0 0h3m-2 0h3m-2 0h3m-38 1h3m20 0h3m6 0h3m-2 0h3m-34 1h3m12 0h3m-2 0h3m7 0h3m1 0h3m-97 1h3m36 0h3m23 0h3m1 0h3m-2 0h3m11 0h3m5 0h3m-1 0h3m-61 1h3m29 0h3m-2 0h3m7 0h3m-1 0h3m-2 0h3m1 0h3m-1 0h3m2 0h3m-73 1h3m34 0h3m-1 0h3m6 0h3m6 0h3m-2 0h3m-1 0h3m-61 1h3m-2 0h3m19 0h3m21 0h3m3 0h3m0 0h3m-1 0h3m-64 1h3m-1 0h3m42 0h3m8 0h3m-2 0h3m-2 0h3m-2 0h3m-1 0h3m-70 1h3m2 0h3m53 0h3m0 0h3m-2 0h3m-2 0h3m-2 0h3m-2 0h3m-2 0h3m-66 1h3m38 0h3m10 0h3m1 0h3m-2 0h3m-1 0h3m-2 0h3m-67 1h3m-2 0h3m-2 0h3m-1 0h3m1 0h3m34 0h3m9 0h3m-2 0h3m5 0h3m-62 1h3m20 0h3m10 0h3m15 0h3m-2 0h3m-63 1h3m51 0h3m-100 1h3m70 0h3m20 0h3m0 0h3m-2 0h3m-1 0h3m-2 0h3m-31 1h3m-1 0h3m4 0h3m13 0h3m-52 1h3m15 0h3m1 0h3m4 0h3m-39 1h3m9 0h3m13 0h3m-2 0h3m-2 0h3m0 0h3m-43 1h3m-1 0h3m34 0h3m13 1h3m-74 1h3m14 0h3m0 0h3m22 0h3m2 0h3m-2 0h3m19 0h3m-60 1h3m27 0h3m-30 1h3m30 0h3m-2 0h3m1 0h3m5 0h3m-55 1h3m-1 0h3m-2 0h3m-2 0h3m17 0h3m9 0h3m5 0h3m-45 1h3m34 0h3m7 0h3m-53 1h3m-1 0h3m-1 0h3m1 0h3m31 0h3m-42 1h3m1 0h3m26 0h3m2 0h3m-2 0h3m-2 0h3m-43 1h3m-2 0h3m-1 0h3m29 0h3m-46 1h3m6 0h3m1 0h3m19 0h3m0 0h3m4 0h3m-43 1h3m19 0h3m12 0h3m0 0h3m-13 1h3m0 0h3m10 0h3m-39 1h3m-1 0h3m19 0h3m2 0h3m-42 1h3m19 0h3m13 0h3m-29 1h3m21 0h3m-2 0h3m-7 1h3m-10 2h3"/>
<path transform="scale(.5)" fill="none" stroke="#6c84a4" stroke-width="3" d="M127 367h3m17 5h3m64 21h3m-21 2h3m-86 1h3m35 0h3m16 3h3m-59 1h3m1 0h3m23 0h3m-3 1h3m-28 1h3m12 0h3m9 0h3m-2 0h3m-1 0h3m34 0h3m-77 1h3m31 0h3m0 0h3m-20 1h3m12 0h3m-2 0h3m-2 0h3m3 0h3m-29 1h3m-2 0h3m-14 1h3m-1 0h3m-2 0h3m12 0h3m8 0h3m-35 1h3m10 0h3m-2 0h3m-2 0h3m9 0h3m0 0h3m-2 0h3m-1 0h3m-36 1h3m11 0h3m-2 0h3m-1 0h3m-2 0h3m-1 0h3m7 0h3m4 0h3m-34 1h3m-1 0h3m4 0h3m8 0h3m3 0h3m1 0h3m-44 1h3m1 0h3m6 0h3m0 0h3m-2 0h3m-2 0h3m-2 0h3m0 0h3m11 0h3m-24 1h3m21 0h3m-35 1h3m9 0h3m2 0h3m-18 2h3m-1 0h3m9 0h3m77 4h3m-75 2h3m-34 1h3m65 1h3m-57 3h3m-2 2h3m-9 1h3m-2 0h3m-1 0h3m68 2h3m-77 2h3m7 0h3m-11 1h3m24 0h3m-32 1h3m-5 1h3m1 0h3m-1 1h3m-8 1h3m1 0h3m0 0h3m78 0h3m-93 1h3m-5 1h3m3 0h3m2 0h3m-14 2h3m3 0h3m4 0h3m17 0h3m-37 1h3m1 0h3m-2 0h3m23 7h3m1 0h3m-2 0h3m-2 0h3m-6 1h3m-2 0h3m-5 1h3m0 0h3m-5 1h3m-2 0h3m-2 0h3m-1 0h3m-12 1h3m3 0h3m-2 0h3m-4 2h3m-2 0h3m-2 0h3m-7 1h3m11 0h3"/>
<path transform="scale(.5)" fill="none" stroke="#ee1c8a" stroke-width="3" d="M168 365h3m14 2h3m-32 3h3m-42 10h3m22 1h3m-19 7h3m-20 1h3m83 16h3m-4 2h3m-55 3h3m31 1h3m-63 2h3m56 1h3m40 3h3m-63 1h3m56 0h3m-115 4h3m6 0h3m50 1h3m-54 2h3m76 9h3m-50 1h3m11 0h3m14 7h3m-55 3h3"/>
<path transform="scale(.5)" fill="none" stroke="#f08c28" stroke-width="3" d="M126 362h3m31 0h3m-60 10h3m35 3h3m31 2h3m-70 4h3m32 4h3m-41 1h3m105 7h3m-124 10h3m-1 3h3m106 2h3m-66 5h3m41 0h3m-90 4h3m40 0h3m-52 4h3m45 2h3m-42 4h3m-8 5h3m24 2h3m58 9h3"/>
<path transform="scale(.5)" fill="none" stroke="#30c8e0" stroke-width="3" d="M152 362h3m-33 7h3m16 4h3m47 2h3m-83 7h3m65 11h3m-89 3h3m91 5h3m18 1h3m-109 4h3m15 3h3m18 0h3m2 0h3m-32 1h3m-6 1h3m-7 1h3m-1 0h3m34 0h3m-49 1h3m6 0h3m-7 1h3m0 0h3m-1 0h3m-5 1h3m-2 0h3m-5 1h3m-2 0h3m-1 0h3m-5 1h3m-2 1h3m1 5h3m16 2h3m-37 3h3m31 0h3m9 4h3m-5 1h3m21 1h3m37 0h3m-32 4h3m-36 5h3m-18 2h3m11 1h3m17 0h3m-24 3h3m-4 4h3m18 5h3"/>
<path transform="scale(.5)" fill="none" stroke="#ee1c8a" stroke-width="3" d="M194 363h3m-2 0h3m0 1h3m-9 2h3m2 1h3m-6 1h3m0 0h3m-2 1h3m-2 0h3m-2 0h3m3 1h3m-13 1h3m3 0h3m-2 0h3m-2 0h3m-2 0h3m-15 1h3m-2 0h3m0 0h3m-11 1h3m-4 1h3m1 0h3m-5 1h3m1 1h3m0 1h3"/>
<path transform="scale(.5)" fill="none" stroke="#f0168c" stroke-width="3" d="M242 427h3m35 3h3m2 0h3m-3 1h3m-8 1h3m5 1h3m-15 2h3m0 0h3m-2 0h3m-28 1h3m14 0h3m-2 0h3m-2 0h3m3 0h3m-1 0h3m3 0h3m-21 1h3m-2 0h3m0 0h3m-1 0h3m4 0h3m-2 0h3m-1 0h3m0 0h3m2 0h3m-1 0h3m-2 0h3m-38 1h3m3 0h3m2 0h3m-2 0h3m-2 0h3m-1 0h3m0 0h3m6 0h3m7 0h3m-43 1h3m1 0h3m7 0h3m3 0h3m-2 0h3m-2 0h3m-2 0h3m-2 0h3m1 0h3m-1 0h3m-37 1h3m-2 0h3m-1 0h3m5 0h3m0 0h3m-1 0h3m2 0h3m-2 0h3m0 0h3m1 0h3m7 0h3m1 0h3m0 0h3m4 0h3m-56 1h3m4 0h3m4 0h3m1 0h3m6 0h3m-2 0h3m-2 0h3m-1 0h3m2 0h3m10 0h3m0 0h3m-58 1h3m-2 0h3m0 0h3m1 0h3m-2 0h3m2 0h3m0 0h3m0 0h3m3 0h3m7 0h3m-1 0h3m-1 0h3m5 0h3m6 0h3m0 0h3m18 0h3m-82 1h3m4 0h3m1 0h3m-1 0h3m10 0h3m4 0h3m2 0h3m-1 0h3m-2 0h3m-2 0h3m1 0h3m7 0h3m0 0h3m22 0h3m-87 1h3m0 0h3m-2 0h3m-2 0h3m9 0h3m-2 0h3m9 0h3m-1 0h3m5 0h3m0 0h3m12 0h3m-2 0h3m-68 1h3m-1 0h3m7 0h3m4 0h3m3 0h3m14 0h3m4 0h3m4 0h3m14 0h3m-2 0h3m-1 0h3m-1 0h3m9 0h3m1 0h3m-100 1h3m10 0h3m-1 0h3m0 0h3m-2 0h3m-1 0h3m-2 0h3m7 0h3m-1 0h3m-2 0h3m3 0h3m3 0h3m10 0h3m8 0h3m3 0h3m-1 0h3m-1 0h3m-2 0h3m-2 0h3m-81 1h3m-1 0h3m7 0h3m0 0h3m14 0h3m5 0h3m1 0h3m7 0h3m-1 0h3m-1 0h3m11 0h3m-2 0h3m-2 0h3m1 0h3m-2 0h3m1 0h3m-87 1h3m2 0h3m-2 0h3m0 0h3m3 0h3m-2 0h3m-1 0h3m20 0h3m12 0h3m19 0h3m0 0h3m-2 0h3m1 0h3m-88 1h3m0 0h3m6 0h3m-1 0h3m-2 0h3m-2 0h3m0 0h3m3 0h3m-1 0h3m1 0h3m0 0h3m-1 0h3m8 0h3m1 0h3m4 0h3m1 0h3m6 0h3m0 0h3m-1 0h3m-2 0h3m-2 0h3m-2 0h3m-1 0h3m1 0h3m-2 0h3m-87 1h3m8 0h3m-2 0h3m-1 0h3m2 0h3m0 0h3m5 0h3m12 0h3m3 0h3m1 0h3m2 0h3m5 0h3m3 0h3m-2 0h3m2 0h3m-1 0h3m-1 0h3m-2 0h3m-96 1h3m-2 0h3m22 0h3m0 0h3m-2 0h3m18 0h3m17 0h3m4 0h3m-2 0h3m-2 0h3m-1 0h3m-2 0h3m-2 0h3m-2 0h3m-2 0h3m-2 0h3m-1 0h3m-2 0h3m0 0h3m-84 1h3m1 0h3m2 0h3m-1 0h3m0 0h3m17 0h3m-1 0h3m11 0h3m3 0h3m-1 0h3m-2 0h3m12 0h3m-2 0h3m2 0h3m-2 0h3m-86 1h3m0 0h3m0 0h3m0 0h3m-1 0h3m-1 0h3m30 0h3m-1 0h3m2 0h3m-1 0h3m-2 0h3m2 0h3m7 0h3m0 0h3m-2 0h3m-1 0h3m-1 0h3m-1 0h3m-95 1h3m-2 0h3m-2 0h3m0 0h3m0 0h3m1 0h3m2 0h3m-1 0h3m-2 0h3m0 0h3m6 0h3m18 0h3m7 0h3m2 0h3m1 0h3m1 0h3m-1 0h3m-1 0h3m0 0h3m-1 0h3m-1 0h3m-1 0h3m8 0h3m-100 1h3m13 0h3m1 0h3m-1 0h3m-1 0h3m4 0h3m17 0h3m1 0h3m2 0h3m-2 0h3m-1 0h3m-1 0h3m-1 0h3m-1 0h3m-2 0h3m4 0h3m-1 0h3m-2 0h3m8 0h3m-87 1h3m-1 0h3m-2 0h3m-2 0h3m-1 0h3m-2 0h3m2 0h3m4 0h3m26 0h3m-1 0h3m-2 0h3m1 0h3m-1 0h3m11 0h3m3 0h3m-2 0h3m0 0h3m-2 0h3m-2 0h3m-1 0h3m-90 1h3m2 0h3m0 0h3m3 0h3m5 0h3m-1 0h3m1 0h3m0 0h3m3 0h3m14 0h3m-1 0h3m5 0h3m7 0h3m5 0h3m0 0h3m-1 0h3m-93 1h3m1 0h3m-2 0h3m-2 0h3m1 0h3m-2 0h3m-1 0h3m11 0h3m6 0h3m7 0h3m-2 0h3m0 0h3m18 0h3m10 0h3m-2 0h3m1 0h3m-98 1h3m10 0h3m0 0h3m28 0h3m17 0h3m4 0h3m5 0h3m8 0h3m-93 1h3m3 0h3m6 0h3m-1 0h3m14 0h3m14 0h3m1 0h3m7 0h3m9 0h3m-2 0h3m-1 0h3m-2 0h3m1 0h3m-87 1h3m0 0h3m-1 0h3m1 0h3m2 0h3m19 0h3m22 0h3m-2 0h3m-1 0h3m-2 0h3m-2 0h3m18 0h3m-84 1h3m2 0h3m-2 0h3m0 0h3m12 0h3m1 0h3m3 0h3m10 0h3m-2 0h3m3 0h3m0 0h3m-1 0h3m4 0h3m2 0h3m-2 0h3m-2 0h3m7 0h3m-94 1h3m2 0h3m1 0h3m5 0h3m6 0h3m17 0h3m3 0h3m-1 0h3m-1 0h3m-2 0h3m0 0h3m-1 0h3m2 0h3m-1 0h3m11 0h3m0 0h3m-74 1h3m6 0h3m9 0h3m2 0h3m0 0h3m6 0h3m3 0h3m-2 0h3m-1 0h3m1 0h3m-2 0h3m-2 0h3m-2 0h3m0 0h3m0 0h3m0 0h3m5 0h3m-93 1h3m9 0h3m2 0h3m5 0h3m12 0h3m21 0h3m1 0h3m0 0h3m1 0h3m-1 0h3m-1 0h3m6 0h3m-80 1h3m-2 0h3m7 0h3m7 0h3m9 0h3m-1 0h3m1 0h3m-1 0h3m3 0h3m10 0h3m2 0h3m5 0h3m-82 1h3m5 0h3m6 0h3m2 0h3m-2 0h3m-2 0h3m10 0h3m6 0h3m7 0h3m-2 0h3m-2 0h3m0 0h3m-2 0h3m-2 0h3m12 0h3m-88 1h3m-1 0h3m1 0h3m5 0h3m0 0h3m0 0h3m22 0h3m0 0h3m0 0h3m1 0h3m-1 0h3m-2 0h3m-1 0h3m-1 0h3m0 0h3m-1 0h3m-2 0h3m-65 1h3m0 0h3m14 0h3m0 0h3m12 0h3m2 0h3m12 0h3m-1 0h3m0 0h3m-2 0h3m-2 0h3m5 0h3m1 0h3m1 0h3m-84 1h3m-1 0h3m2 0h3m8 0h3m-1 0h3m5 0h3m0 0h3m-1 0h3m7 0h3m0 0h3m-1 0h3m2 0h3m-2 0h3m5 0h3m-1 0h3m-2 0h3m5 0h3m-80 1h3m9 0h3m4 0h3m11 0h3m5 0h3m0 0h3m20 0h3m-69 1h3m0 0h3m3 0h3m0 0h3m6 0h3m-2 0h3m1 0h3m-2 0h3m-2 0h3m-1 0h3m-2 0h3m3 0h3m1 0h3m-1 0h3m5 0h3m2 0h3m18 0h3m-79 1h3m7 0h3m5 0h3m-2 0h3m4 0h3m-2 0h3m-1 0h3m-1 0h3m3 0h3m8 0h3m-2 0h3m6 0h3m6 0h3m-2 0h3m-71 1h3m0 0h3m1 0h3m-2 0h3m-1 0h3m2 0h3m6 0h3m-1 0h3m-1 0h3m1 0h3m3 0h3m1 0h3m2 0h3m8 0h3m6 0h3m-2 0h3m2 0h3m-77 1h3m-2 0h3m0 0h3m-2 0h3m1 0h3m6 0h3m3 0h3m-1 0h3m7 0h3m22 0h3m10 0h3m-80 1h3m2 0h3m3 0h3m2 0h3m8 0h3m3 0h3m-2 0h3m-1 0h3m0 0h3m-2 0h3m8 0h3m-2 0h3m-1 0h3m-2 0h3m1 0h3m5 0h3m-69 1h3m6 0h3m8 0h3m0 0h3m-1 0h3m-2 0h3m1 0h3m-2 0h3m0 0h3m-2 0h3m3 0h3m2 0h3m12 0h3m-1 0h3m-65 1h3m0 0h3m-2 0h3m-2 0h3m3 0h3m10 0h3m-1 0h3m-1 0h3m-2 0h3m-1 0h3m1 0h3m1 0h3m-2 0h3m23 0h3m-1 0h3m-73 1h3m5 0h3m2 0h3m9 0h3m-2 0h3m2 0h3m0 0h3m-2 0h3m3 0h3m1 0h3m-2 0h3m7 0h3m0 0h3m-32 1h3m-1 0h3m5 0h3m1 0h3m13 0h3m-59 1h3m22 0h3m-2 0h3m2 0h3m3 0h3m-1 0h3m1 0h3m3 0h3m-18 1h3m4 0h3m0 0h3m5 0h3m-57 1h3m50 0h3m-27 3h3"/>
<path transform="scale(.5)" fill="none" stroke="#3a66b8" stroke-width="3" d="M317 518h3m-8 1h3m-1 0h3m1 0h3m-13 1h3m-1 0h3m7 0h3m2 0h3m0 0h3m-22 1h3m0 0h3m-2 0h3m-1 0h3m2 0h3m-2 0h3m2 0h3m0 0h3m-2 0h3m-32 1h3m-2 0h3m1 0h3m-2 0h3m-1 0h3m1 0h3m0 0h3m-1 0h3m-1 0h3m3 0h3m0 0h3m-2 0h3m0 0h3m-2 0h3m1 0h3m-34 1h3m1 0h3m-1 0h3m-2 0h3m-2 0h3m-2 0h3m-1 0h3m0 0h3m0 0h3m-1 0h3m0 0h3m-1 0h3m1 0h3m-37 1h3m1 0h3m-2 0h3m-2 0h3m1 0h3m10 0h3m8 0h3m-37 1h3m4 0h3m3 0h3m5 0h3m-2 0h3m-2 0h3m9 0h3m-43 1h3m3 0h3m1 0h3m6 0h3m-1 0h3m2 0h3m12 0h3m-40 1h3m2 0h3m-2 0h3m4 0h3m10 0h3m-1 0h3m-28 1h3m0 0h3m4 0h3m-1 0h3m0 0h3m0 0h3m-2 0h3m7 0h3m-2 0h3m-41 1h3m5 0h3m9 0h3m5 0h3m5 0h3m-38 1h3m2 0h3m1 0h3m0 0h3m0 0h3m0 0h3m6 0h3m1 0h3m0 0h3m-2 0h3m-1 0h3m-40 1h3m1 0h3m-2 0h3m2 0h3m1 0h3m5 0h3m-1 0h3m-2 0h3m8 0h3m-37 1h3m6 0h3m5 0h3m4 0h3m5 0h3m-1 0h3m-33 1h3m-1 0h3m-1 0h3m0 0h3m3 0h3m-1 0h3m1 0h3m-1 0h3m-25 1h3m-1 0h3m-2 0h3m7 0h3m5 0h3m-23 1h3m4 0h3m-2 0h3m6 0h3m-1 0h3m-12 1h3m-2 0h3"/>
<path transform="scale(.5)" fill="none" stroke="#c8641e" stroke-width="3" d="M208 463h3m-5 2h3m-2 0h3m0 0h3m-5 1h3m0 0h3m-2 0h3m-2 0h3m-2 0h3m-7 1h3m-1 0h3"/>
<path transform="scale(.5)" fill="none" stroke="#6a1cd0" stroke-width="3" d="M63 480h3m-4 1h3m5 0h3m-17 1h3m-1 0h3m5 0h3m-1 0h3m-2 0h3m-19 1h3m15 0h3m-19 1h3m-1 0h3m1 0h3m8 0h3m-21 1h3m-1 0h3m1 0h3m-1 0h3m0 0h3m4 0h3m-23 1h3m0 0h3m1 0h3m2 0h3m1 0h3m-2 0h3m-2 0h3m-2 0h3m-2 0h3m-19 1h3m11 0h3m-16 1h3m2 0h3m5 0h3m-19 1h3m-1 0h3m-2 0h3m-2 0h3m2 0h3m-14 1h3m0 0h3m-2 0h3m4 0h3m1 0h3m-2 0h3m-2 0h3m-22 1h3m-2 0h3m0 0h3m2 0h3m-2 0h3m-2 1h3m-1 0h3m0 0h3m-13 1h3m-1 1h3"/>
<path transform="scale(.5)" fill="none" stroke="#f08a20" stroke-width="3" d="M278 577h3m1 1h3m-1 0h3m-13 1h3m-2 0h3m0 0h3m0 0h3m-12 1h3m-1 0h3m-1 0h3m2 0h3m-2 0h3m-2 0h3m-1 0h3m-2 0h3m-1 0h3m-21 1h3m-2 0h3m-1 0h3m1 0h3m4 0h3m4 0h3m-22 1h3m2 0h3m-6 1h3m-2 0h3m12 0h3m-1 0h3m-26 1h3m-1 0h3m-2 0h3m16 0h3m-23 1h3m3 0h3m-2 0h3m-1 0h3m0 0h3m3 0h3m0 0h3m-1 0h3m-2 0h3m-15 1h3m-1 0h3m7 0h3m-25 1h3m-2 0h3m2 0h3m0 0h3m-1 0h3m0 0h3m-15 1h3m0 0h3m-2 0h3m6 0h3m-2 0h3m-1 0h3m-2 0h3m-18 1h3m2 0h3m0 0h3m-2 0h3m-1 0h3m-11 1h3m-1 0h3m2 0h3m-2 0h3m-1 0h3m-11 1h3m-1 0h3m-2 0h3"/>
<path transform="scale(.5)" fill="none" stroke="#4a7a6a" stroke-width="3" d="M152 453h3m4 0h3m-6 1h3m3 0h3m-20 1h3m15 0h3m-2 0h3m-1 0h3m-5 1h3m-22 1h3m-8 1h3m16 0h3m8 0h3m-26 1h3m-2 0h3m11 0h3m-21 1h3m6 0h3m1 0h3m-1 0h3m-9 1h3m0 0h3m1 0h3m6 0h3m-15 1h3m-2 0h3m5 0h3m-18 1h3m3 0h3m4 0h3m2 0h3m-29 1h3m13 0h3m-17 1h3m2 0h3m-2 0h3m7 0h3m-15 2h3"/>
<path transform="scale(.5)" fill="none" stroke="#4cd8d0" stroke-width="3" d="M100 470h3m5 3h3m-1 0h3m0 0h3m-9 1h3m-2 0h3m3 0h3m-19 1h3m0 0h3m-2 0h3m-1 0h3m-1 0h3m-2 0h3m1 0h3m-16 1h3m0 0h3m-2 0h3m-1 0h3m-1 0h3m-2 0h3m72 0h3m3 0h3m-92 1h3m-2 0h3m-2 0h3m1 0h3m11 0h3m49 0h3m2 0h3m12 0h3m-94 1h3m1 0h3m0 0h3m71 0h3m1 0h3m-88 1h3m-2 0h3m-2 0h3m-2 0h3m0 0h3m-2 0h3m-2 0h3m-1 0h3m63 0h3m-1 0h3m-1 0h3m4 0h3m-92 1h3m-1 0h3m-1 0h3m5 0h3m-2 0h3m9 0h3m44 0h3m6 0h3m-2 0h3m4 0h3m-88 1h3m0 0h3m-2 0h3m-2 0h3m1 0h3m65 0h3m1 0h3m-2 0h3m-89 1h3m1 0h3m-2 0h3m-1 0h3m1 0h3m64 0h3m1 0h3m-2 0h3m-1 0h3m-82 1h3m0 0h3m-1 0h3m0 0h3m-2 0h3m64 0h3m-1 0h3m-2 0h3m-2 0h3m-1 0h3m1 0h3m-94 1h3m1 0h3m1 0h3m-1 0h3m-2 0h3m65 0h3m1 0h3m-1 0h3m-2 0h3m9 0h3m-96 1h3m-2 0h3m-1 0h3m-1 0h3m-1 0h3m-1 0h3m63 0h3m1 0h3m0 0h3m-2 0h3m-2 0h3m-2 0h3m-1 0h3m15 0h3m-1 0h3m-110 1h3m-2 0h3m-2 0h3m-2 0h3m-2 0h3m0 0h3m-1 0h3m4 0h3m33 0h3m19 0h3m2 0h3m-2 0h3m-2 0h3m-2 0h3m-2 0h3m-1 0h3m2 0h3m12 0h3m1 0h3m1 0h3m-117 1h3m-1 0h3m2 0h3m1 0h3m56 0h3m-2 0h3m12 0h3m18 0h3m0 0h3m-113 1h3m-2 0h3m13 0h3m63 0h3m-2 0h3m-2 0h3m-1 0h3m16 0h3m0 0h3m-2 0h3m-1 0h3m-109 1h3m-1 0h3m4 0h3m1 0h3m-2 0h3m47 0h3m6 0h3m1 0h3m-2 0h3m17 0h3m2 0h3m-109 1h3m8 0h3m5 0h3m57 0h3m3 0h3m-1 0h3m1 0h3m-1 0h3m12 0h3m1 0h3m-104 1h3m3 0h3m53 0h3m3 0h3m-2 0h3m21 0h3m-2 0h3m-2 0h3m2 0h3m2 0h3m-113 1h3m2 0h3m0 0h3m1 0h3m56 0h3m-1 0h3m-1 0h3m3 0h3m-81 1h3m78 0h3m12 0h3m-2 0h3m-108 1h3m68 0h3m-1 0h3m1 0h3m0 0h3m-2 0h3m8 0h3m10 0h3m0 0h3m-109 1h3m1 0h3m3 0h3m68 0h3m0 0h3m22 0h3m-2 0h3m-37 1h3m2 0h3m21 0h3m-116 1h3m6 0h3m6 0h3m2 0h3m58 0h3m4 0h3m12 0h3m4 0h3m-28 1h3m4 0h3m-91 1h3m23 0h3m46 0h3m-1 0h3m0 0h3m22 0h3m-16 1h3m16 5h3m-32 1h3m0 0h3m30 0h3m6 0h3m-55 1h3m8 0h3m13 0h3m30 1h3m-37 2h3m-110 2h3m86 0h3m7 0h3m-84 1h3m82 0h3m-15 1h3m-9 1h3m2 0h3m-2 0h3m2 0h3m4 0h3m3 0h3m-33 1h3m1 0h3m3 0h3m1 0h3m0 0h3m0 0h3m-22 1h3m8 0h3m11 0h3m-27 1h3m15 0h3m4 0h3m-2 0h3m-22 1h3m1 0h3m-1 0h3m4 0h3m-2 0h3m1 0h3m-2 0h3m11 0h3m16 0h3m-146 1h3m92 0h3m4 0h3m3 0h3m-1 0h3m22 0h3m-48 1h3m-1 0h3m11 0h3m4 0h3m31 0h3m-64 1h3m5 0h3m1 0h3m0 0h3m1 0h3m2 0h3m-2 0h3m-106 1h3m15 0h3m60 0h3m-1 0h3m-1 0h3m10 0h3m37 0h3m-140 1h3m78 0h3m13 0h3m4 0h3m-72 1h3m45 0h3m-1 0h3m12 1h3m-25 1h3m19 0h3m-2 0h3m-123 1h3m96 0h3m19 0h3m-97 3h3m32 0h3m9 0h3m-17 1h3m-31 1h3m36 0h3m82 0h3m-101 1h3m-2 0h3m5 0h3m-9 1h3m-72 1h3m41 0h3m19 0h3m0 0h3m36 0h3m-2 0h3m-1 0h3m-125 1h3m0 0h3m-2 0h3m7 0h3m2 0h3m33 0h3m39 0h3m-99 1h3m0 0h3m6 0h3m-1 0h3m-1 0h3m-2 0h3m50 0h3m10 0h3m-68 1h3m30 0h3m7 0h3m8 0h3m4 0h3m0 0h3m29 0h3m4 0h3m-123 1h3m-2 0h3m12 0h3m8 0h3m6 0h3m8 0h3m22 0h3m38 0h3m10 0h3m-135 1h3m-2 0h3m-2 0h3m3 0h3m-1 0h3m8 0h3m-1 0h3m22 0h3m2 0h3m1 0h3m20 0h3m-1 0h3m0 0h3m6 0h3m23 0h3m-125 1h3m4 0h3m11 0h3m30 0h3m1 0h3m19 0h3m-1 0h3m-1 0h3m-91 1h3m19 0h3m1 0h3m-2 0h3m-2 0h3m-1 0h3m18 0h3m5 0h3m1 0h3m16 0h3m1 0h3m-1 0h3m-2 0h3m39 0h3m-2 0h3m-132 1h3m9 0h3m4 0h3m1 0h3m1 0h3m6 0h3m8 0h3m6 0h3m18 0h3m2 0h3m2 0h3m38 0h3m-114 1h3m3 0h3m0 0h3m21 0h3m2 0h3m24 0h3m2 0h3m-93 1h3m1 0h3m3 0h3m9 0h3m3 0h3m22 0h3m28 0h3m5 0h3m-2 0h3m-99 1h3m0 0h3m14 0h3m3 0h3m-1 0h3m3 0h3m21 0h3m-62 1h3m-1 0h3m32 0h3m5 0h3m2 0h3m14 0h3m19 0h3m1 0h3m-95 1h3m-1 0h3m-2 0h3m-2 0h3m2 0h3m-2 0h3m-1 0h3m2 0h3m7 0h3m13 0h3m-1 0h3m15 0h3m21 0h3m-86 1h3m6 0h3m12 0h3m5 0h3m-39 1h3m20 0h3m6 0h3m51 0h3m55 0h3m-145 1h3m4 0h3m1 0h3m3 0h3m19 0h3m15 0h3m-64 1h3m-1 0h3m-1 0h3m33 0h3m2 0h3m4 0h3m-26 1h3m6 0h3m9 0h3m-55 1h3m1 0h3m6 0h3m10 0h3m2 0h3m5 0h3m3 0h3m-1 0h3m-1 0h3m8 0h3m-59 1h3m1 0h3m18 0h3m-2 0h3m10 0h3m1 0h3m0 0h3m90 0h3m31 0h3m-2 0h3m-175 1h3m5 0h3m0 0h3m29 0h3m122 0h3m-2 0h3m-2 0h3m-2 0h3m-2 0h3m-171 1h3m-2 0h3m2 0h3m3 0h3m2 0h3m-1 0h3m1 0h3m19 0h3m9 0h3m1 0h3m9 0h3m56 0h3m32 0h3m-2 0h3m-2 0h3m-185 1h3m51 0h3m27 0h3m91 0h3m-1 0h3m-2 0h3m-1 0h3m-177 1h3m7 0h3m10 0h3m9 0h3m5 0h3m28 0h3m-1 0h3m90 0h3m0 0h3m-186 1h3m7 0h3m-2 0h3m1 0h3m32 0h3m25 0h3m4 0h3m-2 0h3m0 0h3m-2 0h3m-1 0h3m52 0h3m-1 0h3m29 0h3m-172 1h3m26 0h3m4 0h3m-2 0h3m5 0h3m7 0h3m0 0h3m14 0h3m1 0h3m49 0h3m0 0h3m2 0h3m28 0h3m-171 1h3m-1 0h3m19 0h3m-1 0h3m1 0h3m1 0h3m9 0h3m26 0h3m53 0h3m-1 0h3m0 0h3m-142 1h3m-2 0h3m-1 0h3m3 0h3m9 0h3m8 0h3m0 0h3m5 0h3m-2 0h3m0 0h3m27 0h3m-1 0h3m-81 1h3m-2 0h3m-2 0h3m16 0h3m9 0h3m1 0h3m0 0h3m-1 0h3m-2 0h3m31 0h3m-80 1h3m-2 0h3m0 0h3m2 0h3m1 0h3m0 0h3m12 0h3m3 0h3m-2 0h3m34 0h3m-80 1h3m-1 0h3m1 0h3m36 0h3m12 0h3m43 0h3m-114 1h3m4 0h3m0 0h3m25 0h3m-1 0h3m2 0h3m-14 1h3m6 0h3m-1 0h3m-40 1h3m-2 0h3m0 0h3m5 0h3m31 0h3m6 0h3m75 0h3m-140 1h3m0 0h3m-2 0h3m-1 0h3m3 0h3m9 0h3m7 0h3m-41 1h3m5 0h3m-2 0h3m0 0h3m16 0h3m-1 0h3m5 0h3m-45 1h3m1 0h3m4 0h3m5 0h3m-2 0h3m5 0h3m2 0h3m62 0h3m-101 1h3m8 0h3m-1 0h3m-2 0h3m6 0h3m14 0h3m1 0h3m-1 0h3m31 0h3m-58 1h3m3 0h3m-37 1h3m9 0h3m-2 0h3m1 0h3m2 0h3m11 0h3m12 0h3m-42 1h3m-1 0h3m4 0h3m4 0h3m2 0h3m-1 0h3m-2 0h3m3 0h3m-1 0h3m13 0h3m6 0h3m20 0h3m-89 1h3m4 0h3m13 0h3m-2 0h3m0 0h3m9 0h3m43 0h3m-80 1h3m1 0h3m1 0h3m2 0h3m3 0h3m-2 0h3m1 0h3m-28 1h3m9 0h3m-2 0h3m2 0h3m-2 0h3m-2 0h3m-2 0h3m-2 0h3m6 0h3m49 0h3m-94 1h3m-2 0h3m1 0h3m16 0h3m-1 0h3m-1 0h3m0 0h3m3 0h3m60 0h3m-99 1h3m6 0h3m-1 0h3m8 0h3m-1 0h3m-1 0h3m-2 0h3m14 0h3m-47 1h3m9 0h3m3 0h3m-1 0h3m-2 0h3m-2 0h3m0 0h3m-1 0h3m52 0h3m-94 1h3m1 0h3m12 0h3m5 0h3m-1 0h3m-2 0h3m-2 0h3m-1 0h3m-2 0h3m-2 0h3m-2 0h3m-2 0h3m10 0h3m1 0h3m28 0h3m7 0h3m-98 1h3m1 0h3m3 0h3m0 0h3m12 0h3m-2 0h3m4 0h3m-1 0h3m-2 0h3m0 0h3m16 0h3m7 0h3m4 0h3m11 0h3m-95 1h3m4 0h3m21 0h3m4 0h3m2 0h3m2 0h3m22 0h3m-2 0h3m3 0h3m4 0h3m-89 1h3m8 0h3m6 0h3m5 0h3m0 0h3m-1 0h3m-2 0h3m2 0h3m-2 0h3m8 0h3m29 0h3m9 0h3m-97 1h3m2 0h3m19 0h3m-2 0h3m-1 0h3m-2 0h3m4 0h3m7 0h3m17 0h3m-2 0h3m2 0h3m-76 1h3m26 0h3m36 0h3m8 0h3m8 0h3m-90 1h3m24 0h3m-1 0h3m2 0h3m2 0h3m2 0h3m2 0h3m13 0h3m0 0h3m-74 1h3m-1 0h3m1 0h3m-2 0h3m4 0h3m3 0h3m1 0h3m2 0h3m9 0h3m5 0h3m9 0h3m6 0h3m-69 1h3m18 0h3m-1 0h3m2 0h3m0 0h3m-1 0h3m-2 0h3m0 0h3m1 0h3m0 0h3m-2 0h3m18 0h3m12 0h3m-86 1h3m5 0h3m1 0h3m3 0h3m7 0h3m-2 0h3m0 0h3m-2 0h3m4 0h3m5 0h3m1 0h3m11 0h3m45 0h3m-117 1h3m1 0h3m17 0h3m0 0h3m4 0h3m3 0h3m8 0h3m8 0h3m-64 1h3m-1 0h3m15 0h3m16 0h3m4 0h3m-1 0h3m-1 0h3m-2 0h3m-2 0h3m1 0h3m-58 1h3m16 0h3m1 0h3m-2 0h3m0 0h3m-2 0h3m-2 0h3m0 0h3m0 0h3m0 0h3m0 0h3m0 0h3m1 0h3m-2 0h3m-1 0h3m1 0h3m-1 0h3m26 0h3m42 0h3m-134 1h3m-2 0h3m9 0h3m6 0h3m10 0h3m-1 0h3m1 0h3m-2 0h3m0 0h3m-2 0h3m0 0h3m1 0h3m2 0h3m29 0h3m0 0h3m15 0h3m6 0h3m10 0h3m-142 1h3m-1 0h3m7 0h3m9 0h3m9 0h3m-2 0h3m12 0h3m0 0h3m-2 0h3m104 0h3m-156 1h3m2 0h3m2 0h3m2 0h3m-2 0h3m2 0h3m0 0h3m3 0h3m8 0h3m0 0h3m0 0h3m1 0h3m-1 0h3m26 0h3m-2 0h3m23 0h3m9 0h3m-107 1h3m1 0h3m4 0h3m0 0h3m11 0h3m-2 0h3m-1 0h3m-2 0h3m-1 0h3m21 0h3m1 0h3m4 0h3m27 0h3m6 0h3m-115 1h3m6 0h3m5 0h3m6 0h3m4 0h3m3 0h3m6 0h3m14 0h3m-64 1h3m22 0h3m-1 0h3m-1 0h3m-2 0h3m42 0h3m31 0h3m9 0h3m-122 1h3m-2 0h3m9 0h3m15 0h3m26 0h3m3 0h3m36 0h3m-73 1h3m71 0h3m-109 1h3m0 0h3m-1 0h3m46 0h3m9 0h3m34 0h3m6 0h3m-106 1h3m9 0h3m35 0h3m2 1h3m-42 1h3m31 0h3m6 0h3m36 0h3m-55 1h3m-2 0h3m-47 1h3m43 0h3m-2 0h3m-2 0h3m14 0h3m-30 1h3m0 0h3m1 0h3m-2 0h3m-6 1h3m19 0h3m0 0h3m-30 1h3m-1 0h3m1 0h3m-1 0h3m14 0h3m0 0h3m1 0h3m-9 1h3m-1 0h3m-1 0h3m2 0h3m-17 1h3m1 0h3"/>
<path transform="scale(.5)" fill="none" stroke="#18f58c" stroke-width="3" d="M201 472h3m-96 1h3m14 2h3m-9 1h3m43 0h3m-1 0h3m4 0h3m-71 1h3m14 0h3m4 0h3m6 1h3m-2 0h3m-1 0h3m61 0h3m-103 1h3m26 0h3m1 0h3m0 0h3m22 0h3m-1 0h3m-48 1h3m1 0h3m6 0h3m0 0h3m3 0h3m13 0h3m0 0h3m2 0h3m25 0h3m1 0h3m-2 0h3m-90 1h3m21 0h3m2 0h3m42 0h3m-86 1h3m3 0h3m5 0h3m4 0h3m-2 0h3m4 0h3m0 0h3m17 0h3m22 0h3m4 0h3m9 0h3m-83 1h3m6 0h3m1 0h3m-2 0h3m0 0h3m-2 0h3m14 0h3m8 0h3m1 0h3m28 0h3m0 0h3m-2 0h3m-82 1h3m1 0h3m32 0h3m29 0h3m-91 1h3m11 0h3m-2 0h3m3 0h3m9 0h3m-23 1h3m2 0h3m2 0h3m-1 0h3m2 0h3m54 0h3m6 0h3m0 0h3m-91 1h3m19 0h3m49 0h3m9 0h3m3 0h3m-92 1h3m-2 0h3m-1 0h3m38 0h3m23 0h3m2 0h3m0 0h3m-76 1h3m-1 0h3m23 0h3m39 0h3m9 0h3m-106 1h3m13 0h3m-1 0h3m8 0h3m6 0h3m3 0h3m6 0h3m5 0h3m-41 1h3m28 0h3m6 0h3m31 0h3m-74 1h3m-1 0h3m2 0h3m28 0h3m27 0h3m-75 1h3m5 0h3m1 0h3m5 0h3m22 0h3m0 0h3m14 0h3m-76 1h3m19 0h3m19 0h3m0 0h3m-1 0h3m-2 0h3m0 0h3m16 0h3m6 0h3m-79 1h3m-2 0h3m-2 0h3m5 0h3m-1 0h3m2 0h3m21 0h3m3 0h3m-2 0h3m2 0h3m-66 1h3m8 0h3m-1 0h3m1 0h3m-2 0h3m-2 0h3m-1 0h3m-1 0h3m25 0h3m-1 0h3m-2 0h3m-2 0h3m3 0h3m-55 1h3m1 0h3m-2 0h3m1 0h3m-2 0h3m-2 0h3m-2 0h3m-2 0h3m10 0h3m17 0h3m-2 0h3m-1 0h3m-54 1h3m2 0h3m-2 0h3m1 0h3m2 0h3m-1 0h3m21 0h3m-1 0h3m0 0h3m-1 0h3m1 0h3m41 0h3m-98 1h3m0 0h3m-1 0h3m11 0h3m1 0h3m16 0h3m0 0h3m-1 0h3m-2 0h3m-2 0h3m22 0h3m17 0h3m5 0h3m-94 1h3m38 0h3m-56 1h3m7 0h3m16 0h3m16 0h3m-2 0h3m47 0h3m-98 1h3m6 0h3m-2 0h3m-1 0h3m0 0h3m14 0h3m3 0h3m1 0h3m-1 0h3m-59 1h3m4 0h3m10 0h3m2 0h3m-2 0h3m2 0h3m-21 1h3m5 0h3m32 0h3m-2 0h3m-77 1h3m34 0h3m-1 0h3m6 0h3m3 0h3m10 0h3m5 0h3m60 0h3m-123 1h3m10 0h3m-2 0h3m8 0h3m10 0h3m3 0h3m6 0h3m0 0h3m-52 1h3m0 0h3m29 0h3m-26 1h3m-1 0h3m1 0h3m17 0h3m0 0h3m-35 1h3m-2 0h3m-38 1h3m28 0h3m-2 0h3m1 0h3m1 0h3m8 0h3m44 0h3m-68 1h3m-2 0h3m1 0h3m-2 0h3m-1 0h3m0 0h3m3 0h3m22 0h3m10 0h3m-57 1h3m-1 0h3m-2 0h3m1 0h3m12 0h3m11 0h3m0 0h3m0 0h3m-58 1h3m14 0h3m-2 0h3m1 0h3m0 0h3m-1 0h3m18 0h3m-53 1h3m4 0h3m3 0h3m1 0h3m0 0h3m30 0h3m-61 1h3m23 0h3m-2 0h3m-2 0h3m-1 0h3m-2 0h3m4 0h3m32 0h3m19 0h3m-95 1h3m3 0h3m1 0h3m-1 0h3m5 0h3m3 0h3m-2 0h3m-1 0h3m15 0h3m-43 1h3m22 0h3m13 0h3m22 0h3m13 0h3m44 0h3m-121 1h3m3 0h3m-1 0h3m-1 0h3m1 0h3m-2 0h3m27 0h3m11 0h3m-59 1h3m-2 0h3m-2 0h3m2 0h3m-2 0h3m-2 0h3m3 0h3m21 0h3m5 0h3m-47 1h3m0 0h3m-2 0h3m3 0h3m6 0h3m2 0h3m19 0h3m3 0h3m-70 1h3m10 0h3m-1 0h3m-2 0h3m-1 0h3m-1 0h3m0 0h3m1 0h3m7 0h3m44 0h3m-2 0h3m9 0h3m7 0h3m-139 1h3m22 0h3m8 0h3m1 0h3m-1 0h3m0 0h3m5 0h3m7 0h3m3 0h3m2 0h3m11 0h3m0 0h3m3 0h3m11 0h3m3 0h3m9 0h3m8 0h3m-101 1h3m-2 0h3m21 0h3m-2 0h3m-1 0h3m17 0h3m22 0h3m-91 1h3m0 0h3m5 0h3m-2 0h3m-2 0h3m23 0h3m-1 0h3m1 0h3m-1 0h3m-2 0h3m6 0h3m2 0h3m23 0h3m37 0h3m-149 1h3m15 0h3m-1 0h3m3 0h3m-1 0h3m50 0h3m13 0h3m17 0h3m8 0h3m-148 1h3m22 0h3m6 0h3m0 0h3m5 0h3m-1 0h3m-2 0h3m3 0h3m27 0h3m36 0h3m3 0h3m2 0h3m4 0h3m11 0h3m-115 1h3m2 0h3m-1 0h3m25 0h3m10 0h3m0 0h3m5 0h3m23 0h3m-2 0h3m-1 0h3m2 0h3m3 0h3m4 0h3m-1 0h3m-132 1h3m21 0h3m5 0h3m2 0h3m7 0h3m1 0h3m22 0h3m18 0h3m3 0h3m-2 0h3m17 0h3m9 0h3m-133 1h3m18 0h3m-1 0h3m2 0h3m12 0h3m-1 0h3m7 0h3m19 0h3m1 0h3m12 0h3m18 0h3m-1 0h3m-2 0h3m0 0h3m3 0h3m-2 0h3m-119 1h3m8 0h3m14 0h3m6 0h3m0 0h3m-2 0h3m-2 0h3m2 0h3m27 0h3m0 0h3m-2 0h3m-1 0h3m-1 0h3m-1 0h3m-1 0h3m-1 0h3m3 0h3m6 0h3m1 0h3m-1 0h3m-83 1h3m0 0h3m41 0h3m0 0h3m8 0h3m6 0h3m-2 0h3m4 0h3m-1 0h3m-1 0h3m-1 0h3m-2 0h3m1 0h3m3 0h3m-106 1h3m26 0h3m26 0h3m1 0h3m-2 0h3m-2 0h3m-2 0h3m-2 0h3m-2 0h3m0 0h3m0 0h3m5 0h3m-2 0h3m-2 0h3m1 0h3m-1 0h3m1 0h3m-119 1h3m0 0h3m4 0h3m15 0h3m2 0h3m0 0h3m-2 0h3m6 0h3m2 0h3m3 0h3m17 0h3m-1 0h3m3 0h3m2 0h3m-2 0h3m10 0h3m-1 0h3m3 0h3m4 0h3m-108 1h3m13 0h3m1 0h3m0 0h3m-1 0h3m2 0h3m2 0h3m24 0h3m2 0h3m2 0h3m-2 0h3m-2 0h3m-1 0h3m0 0h3m-2 0h3m2 0h3m-2 0h3m2 0h3m0 0h3m-1 0h3m-1 0h3m1 0h3m-2 0h3m-139 1h3m18 0h3m8 0h3m12 0h3m5 0h3m21 0h3m22 0h3m-2 0h3m0 0h3m-1 0h3m-1 0h3m-1 0h3m3 0h3m6 0h3m0 0h3m-121 1h3m-1 0h3m12 0h3m9 0h3m-2 0h3m4 0h3m-2 0h3m-1 0h3m6 0h3m-2 0h3m4 0h3m5 0h3m20 0h3m5 0h3m0 0h3m4 0h3m-2 0h3m1 0h3m-2 0h3m-1 0h3m-172 1h3m61 0h3m-2 0h3m1 0h3m0 0h3m0 0h3m-2 0h3m11 0h3m5 0h3m3 0h3m2 0h3m5 0h3m-1 0h3m15 0h3m-2 0h3m-1 0h3m2 0h3m-1 0h3m12 0h3m0 0h3m-1 0h3m-1 0h3m-113 1h3m2 0h3m-2 0h3m7 0h3m8 0h3m13 0h3m-1 0h3m0 0h3m6 0h3m5 0h3m13 0h3m-1 0h3m3 0h3m-2 0h3m1 0h3m-2 0h3m-2 0h3m3 0h3m-1 0h3m-2 0h3m-2 0h3m-2 0h3m-1 0h3m-175 1h3m57 0h3m13 0h3m2 0h3m-2 0h3m8 0h3m17 0h3m-2 0h3m4 0h3m11 0h3m7 0h3m-2 0h3m-2 0h3m-1 0h3m4 0h3m8 0h3m-2 0h3m0 0h3m-2 0h3m-103 1h3m4 0h3m-1 0h3m3 0h3m3 0h3m4 0h3m1 0h3m1 0h3m-2 0h3m8 0h3m1 0h3m8 0h3m7 0h3m11 0h3m-1 0h3m4 0h3m-2 0h3m-1 0h3m1 0h3m-111 1h3m13 0h3m0 0h3m-2 0h3m4 0h3m4 0h3m-2 0h3m1 0h3m9 0h3m0 0h3m-2 0h3m32 0h3m4 0h3m1 0h3m0 0h3m0 0h3m-1 0h3m2 0h3m-129 1h3m18 0h3m-1 0h3m14 0h3m0 0h3m-1 0h3m-1 0h3m10 0h3m4 0h3m2 0h3m10 0h3m-2 0h3m-2 0h3m5 0h3m0 0h3m0 0h3m-1 0h3m-1 0h3m4 0h3m0 0h3m-2 0h3m0 0h3m-104 1h3m1 0h3m-2 0h3m-1 0h3m2 0h3m-1 0h3m-1 0h3m2 0h3m9 0h3m10 0h3m-2 0h3m-2 0h3m-1 0h3m9 0h3m19 0h3m6 0h3m6 0h3m-128 1h3m16 0h3m4 0h3m4 0h3m-2 0h3m-2 0h3m-2 0h3m-1 0h3m-2 0h3m-2 0h3m0 0h3m-2 0h3m7 0h3m11 0h3m13 0h3m6 0h3m-1 0h3m2 0h3m2 0h3m4 0h3m5 0h3m-106 1h3m7 0h3m-2 0h3m16 0h3m3 0h3m0 0h3m17 0h3m8 0h3m3 0h3m-1 0h3m14 0h3m-2 0h3m-1 0h3m7 0h3m-111 1h3m10 0h3m1 0h3m-1 0h3m2 0h3m25 0h3m9 0h3m6 0h3m4 0h3m-2 0h3m7 0h3m-2 0h3m3 0h3m-95 1h3m-2 0h3m-1 0h3m4 0h3m1 0h3m1 0h3m0 0h3m3 0h3m-2 0h3m-1 0h3m7 0h3m2 0h3m16 0h3m1 0h3m-2 0h3m-2 0h3m-1 0h3m1 0h3m-2 0h3m6 0h3m-159 1h3m57 0h3m2 0h3m3 0h3m7 0h3m1 0h3m-2 0h3m-2 0h3m-2 0h3m0 0h3m-1 0h3m17 0h3m12 0h3m5 0h3m0 0h3m2 0h3m-83 1h3m4 0h3m3 0h3m3 0h3m-1 0h3m0 0h3m25 0h3m4 0h3m7 0h3m6 0h3m1 0h3m-1 0h3m2 0h3m-2 0h3m-103 1h3m10 0h3m7 0h3m-1 0h3m-1 0h3m-1 0h3m-1 0h3m-2 0h3m4 0h3m6 0h3m3 0h3m5 0h3m13 0h3m6 0h3m-2 0h3m7 0h3m-153 1h3m65 0h3m9 0h3m1 0h3m1 0h3m-2 0h3m25 0h3m8 0h3m22 0h3m-137 1h3m41 0h3m-2 0h3m-1 0h3m1 0h3m-2 0h3m-1 0h3m-2 0h3m-1 0h3m3 0h3m-2 0h3m1 0h3m2 0h3m4 0h3m20 0h3m0 0h3m24 0h3m12 0h3m-165 1h3m57 0h3m4 0h3m-2 0h3m2 0h3m1 0h3m-1 0h3m-2 0h3m0 0h3m-2 0h3m3 0h3m19 0h3m0 0h3m-2 0h3m-2 0h3m14 0h3m18 0h3m-116 1h3m15 0h3m1 0h3m2 0h3m-2 0h3m-1 0h3m2 0h3m-1 0h3m-2 0h3m17 0h3m3 0h3m16 0h3m4 0h3m3 0h3m-2 0h3m-1 0h3m-1 0h3m9 0h3m11 0h3m-155 1h3m16 0h3m16 0h3m2 0h3m8 0h3m2 0h3m-2 0h3m9 0h3m28 0h3m10 0h3m0 0h3m0 0h3m-111 1h3m36 0h3m2 0h3m0 0h3m-1 0h3m-1 0h3m53 0h3m-1 0h3m-108 1h3m23 0h3m0 0h3m9 0h3m30 0h3m8 0h3m14 0h3m1 0h3m-106 1h3m-1 0h3m-2 0h3m13 0h3m-1 0h3m1 0h3m-2 0h3m-1 0h3m-2 0h3m0 0h3m-2 0h3m-1 0h3m-2 0h3m-2 0h3m-2 0h3m4 0h3m34 0h3m4 0h3m2 0h3m-1 0h3m2 0h3m0 0h3m0 0h3m-99 1h3m3 0h3m1 0h3m-2 0h3m-1 0h3m2 0h3m2 0h3m-1 0h3m7 0h3m0 0h3m0 0h3m12 0h3m2 0h3m17 0h3m-1 0h3m2 0h3m3 0h3m-100 1h3m1 0h3m2 0h3m7 0h3m44 0h3m21 0h3m0 0h3m3 0h3m4 0h3m-109 1h3m-2 0h3m6 0h3m1 0h3m0 0h3m0 0h3m1 0h3m4 0h3m-1 0h3m23 0h3m-2 0h3m-1 0h3m-2 0h3m-1 0h3m7 0h3m13 0h3m18 0h3m-112 1h3m-1 0h3m4 0h3m5 0h3m3 0h3m-1 0h3m16 0h3m9 0h3m-59 1h3m7 0h3m-2 0h3m-2 0h3m-2 0h3m3 0h3m0 0h3m-2 0h3m3 0h3m-2 0h3m1 0h3m18 0h3m1 0h3m24 0h3m-2 0h3m1 0h3m-2 0h3m-101 1h3m-1 0h3m-1 0h3m-1 0h3m5 0h3m-2 0h3m-1 0h3m-2 0h3m6 0h3m-1 0h3m62 0h3m6 0h3m6 0h3m-1 0h3m-108 1h3m-2 0h3m-2 0h3m2 0h3m7 0h3m-2 0h3m0 0h3m-1 0h3m5 0h3m-1 0h3m0 0h3m16 0h3m-1 0h3m19 0h3m6 0h3m-107 1h3m6 0h3m4 0h3m-2 0h3m4 0h3m12 0h3m-2 0h3m-2 0h3m18 0h3m3 0h3m0 0h3m-2 0h3m-2 0h3m-1 0h3m0 0h3m-75 1h3m1 0h3m-2 0h3m-2 0h3m-2 0h3m-2 0h3m6 0h3m-1 0h3m31 0h3m3 0h3m2 0h3m1 0h3m-1 0h3m-1 0h3m11 0h3m5 0h3m-2 0h3m4 0h3m-108 1h3m4 0h3m-2 0h3m-2 0h3m-1 0h3m-2 0h3m-2 0h3m-1 0h3m-2 0h3m-1 0h3m17 0h3m27 0h3m-2 0h3m1 0h3m9 0h3m10 0h3m0 0h3m0 0h3m-1 0h3m-1 0h3m3 0h3m-106 1h3m0 0h3m-2 0h3m-2 0h3m1 0h3m2 0h3m6 0h3m6 0h3m22 0h3m5 0h3m22 0h3m0 0h3m3 0h3m-114 1h3m3 0h3m2 0h3m1 0h3m-2 0h3m-2 0h3m-2 0h3m12 0h3m0 0h3m28 0h3m28 0h3m-2 0h3m13 0h3m-116 1h3m2 0h3m0 0h3m-2 0h3m-1 0h3m-2 0h3m14 0h3m32 0h3m-2 0h3m16 0h3m11 0h3m-2 0h3m4 0h3m-2 0h3m-2 0h3m0 0h3m-117 1h3m1 0h3m-2 0h3m0 0h3m-2 0h3m-2 0h3m-2 0h3m-2 0h3m0 0h3m-2 0h3m0 0h3m-1 0h3m3 0h3m-1 0h3m-2 0h3m8 0h3m48 0h3m-1 0h3m3 0h3m0 0h3m2 0h3m9 0h3m-1 0h3m-120 1h3m-2 0h3m-2 0h3m-2 0h3m-2 0h3m0 0h3m-2 0h3m-2 0h3m-2 0h3m46 0h3m1 0h3m2 0h3m1 0h3m12 0h3m5 0h3m6 0h3m4 0h3m-119 1h3m-1 0h3m-2 0h3m-1 0h3m-2 0h3m-1 0h3m-1 0h3m2 0h3m-2 0h3m-1 0h3m5 0h3m4 0h3m3 0h3m28 0h3m3 0h3m13 0h3m5 0h3m5 0h3m-2 0h3m-2 0h3m-106 1h3m1 0h3m-2 0h3m-2 0h3m-2 0h3m-1 0h3m15 0h3m25 0h3m-1 0h3m3 0h3m25 0h3m0 0h3m1 0h3m-2 0h3m0 0h3m-2 0h3m-111 1h3m-1 0h3m-1 0h3m-1 0h3m0 0h3m3 0h3m34 0h3m9 0h3m8 0h3m3 0h3m4 0h3m1 0h3m6 0h3m9 0h3m-119 1h3m-1 0h3m-2 0h3m-2 0h3m56 0h3m0 0h3m1 0h3m-1 0h3m6 0h3m5 0h3m11 0h3m7 0h3m-106 1h3m26 0h3m0 0h3m7 0h3m-2 0h3m-2 0h3m5 0h3m-2 0h3m5 0h3m1 0h3m-1 0h3m9 0h3m11 0h3m7 0h3m-108 1h3m2 0h3m1 0h3m-2 0h3m0 0h3m5 0h3m22 0h3m2 0h3m1 0h3m1 0h3m20 0h3m2 0h3m9 0h3m-2 0h3m-114 1h3m-1 0h3m-2 0h3m0 0h3m-2 0h3m0 0h3m2 0h3m2 0h3m6 0h3m25 0h3m2 0h3m3 0h3m-2 0h3m4 0h3m12 0h3m17 0h3m-1 0h3m-116 1h3m-2 0h3m16 0h3m28 0h3m-1 0h3m19 0h3m7 0h3m4 0h3m23 0h3m-121 1h3m8 0h3m5 0h3m35 0h3m4 0h3m12 0h3m-2 0h3m2 0h3m9 0h3m4 0h3m8 0h3m-184 1h3m64 0h3m5 0h3m37 0h3m0 0h3m-1 0h3m1 0h3m6 0h3m10 0h3m7 0h3m-1 0h3m20 0h3m-113 1h3m1 0h3m15 0h3m0 0h3m23 0h3m2 0h3m5 0h3m5 0h3m0 0h3m2 0h3m0 0h3m-2 0h3m-1 0h3m-2 0h3m-87 1h3m2 0h3m1 0h3m-1 0h3m31 0h3m0 0h3m-2 0h3m1 0h3m-1 0h3m28 0h3m7 0h3m-98 1h3m5 0h3m-2 0h3m-2 0h3m9 0h3m-2 0h3m18 0h3m-2 0h3m-1 0h3m-1 0h3m3 0h3m3 0h3m-2 0h3m-1 0h3m3 0h3m0 0h3m3 0h3m0 0h3m-1 0h3m26 0h3m-1 0h3m-127 1h3m11 0h3m-2 0h3m-1 0h3m12 0h3m21 0h3m0 0h3m-2 0h3m15 0h3m4 0h3m29 0h3m-109 1h3m4 0h3m-2 0h3m-2 0h3m-1 0h3m2 0h3m21 0h3m0 0h3m0 0h3m0 0h3m0 0h3m1 0h3m9 0h3m36 0h3m-105 1h3m32 0h3m-1 0h3m-2 0h3m3 0h3m-2 0h3m-2 0h3m17 0h3m-2 0h3m0 0h3m-2 0h3m-2 0h3m1 0h3m1 0h3m-2 0h3m-1 0h3m-1 0h3m15 0h3m-158 1h3m46 0h3m1 0h3m5 0h3m8 0h3m15 0h3m3 0h3m-2 0h3m-2 0h3m1 0h3m16 0h3m-1 0h3m8 0h3m-2 0h3m-2 0h3m10 0h3m-97 1h3m-1 0h3m-2 0h3m3 0h3m2 0h3m8 0h3m2 0h3m7 0h3m2 0h3m1 0h3m30 0h3m-70 1h3m14 0h3m6 0h3m8 0h3m2 0h3m5 0h3m0 0h3m7 0h3m0 0h3m-100 1h3m15 0h3m25 0h3m1 0h3m7 0h3m9 0h3m5 0h3m10 0h3m-1 0h3m10 0h3m0 0h3m-98 1h3m4 0h3m27 0h3m14 0h3m-2 0h3m23 0h3m2 0h3m-87 1h3m1 0h3m-2 0h3m28 0h3m0 0h3m6 0h3m20 0h3m1 0h3m0 0h3m0 0h3m-2 0h3m-75 1h3m39 0h3m3 0h3m30 0h3m-109 1h3m8 0h3m2 0h3m3 0h3m4 0h3m13 0h3m1 0h3m16 0h3m0 0h3m0 0h3m19 0h3m-88 1h3m-2 0h3m11 0h3m4 0h3m4 0h3m-2 0h3m14 0h3m33 0h3m-71 1h3m37 0h3m-1 0h3m-2 0h3m0 0h3m19 0h3m-78 1h3m3 0h3m43 0h3m0 0h3m1 0h3m-1 0h3m1 0h3m5 0h3m-82 1h3m0 0h3m1 0h3m4 0h3m14 0h3m20 0h3m1 0h3m-1 0h3m4 0h3m-75 1h3m-1 0h3m4 0h3m8 0h3m17 0h3m6 0h3m7 0h3m0 0h3m-2 0h3m10 0h3m1 0h3m-73 1h3m45 0h3m0 0h3m0 0h3m1 0h3m4 0h3m-74 1h3m-2 0h3m0 0h3m-2 0h3m-2 0h3m44 0h3m0 0h3m-2 0h3m7 0h3m0 0h3m-1 0h3m-1 0h3m-80 1h3m0 0h3m-2 0h3m0 0h3m-1 0h3m13 0h3m32 0h3m2 0h3m-1 0h3m-1 0h3m1 0h3m4 0h3m0 0h3m-90 1h3m2 0h3m-1 0h3m52 0h3m0 0h3m0 0h3m-2 0h3m6 0h3m0 0h3m-80 1h3m0 0h3m3 0h3m5 0h3m4 0h3m-1 0h3m2 0h3m17 0h3m5 0h3m5 0h3m-2 0h3m-87 1h3m34 0h3m3 0h3m28 0h3m-1 0h3m1 0h3m-2 0h3m1 0h3m-1 0h3m-2 0h3m-76 1h3m1 0h3m-2 0h3m-2 0h3m-1 0h3m15 0h3m-1 0h3m-1 0h3m31 0h3m0 0h3m-2 0h3m-71 1h3m-2 0h3m-1 0h3m3 0h3m0 0h3m5 0h3m4 0h3m-2 0h3m-1 0h3m30 0h3m1 0h3m-63 1h3m-2 0h3m0 0h3m1 0h3m0 0h3m6 0h3m0 0h3m22 0h3m3 0h3m1 0h3m-53 1h3m10 0h3m27 0h3m-53 1h3m15 0h3m-2 0h3m1 0h3m-7 2h3"/>
<path transform="scale(.5)" fill="none" stroke="#f4f014" stroke-width="3" d="M122 477h3m-4 1h3m-3 2h3m-6 1h3m-2 0h3m-2 0h3m-5 1h3m0 0h3m-10 1h3m-1 0h3m0 0h3m-1 0h3m-6 1h3m-1 0h3m2 0h3m-13 1h3m2 0h3m-1 0h3m-10 1h3m-1 0h3m-1 0h3m1 0h3m-23 1h3m14 0h3m-2 0h3m0 0h3m84 0h3m-97 1h3m90 0h3m-90 1h3m86 0h3m2 0h3m-2 0h3m8 0h3m-52 1h3m1 1h3m19 0h3m1 0h3m7 1h3m1 0h3m-2 0h3m-17 1h3m-1 0h3m11 0h3m-1 0h3m-2 0h3m-15 1h3m5 0h3m-1 0h3m-2 0h3m-25 1h3m5 0h3m10 0h3m-2 0h3m-22 1h3m-1 0h3m13 0h3m0 0h3m-25 1h3m0 0h3m0 0h3m7 0h3m2 0h3m-1 0h3m-22 1h3m10 1h3m-49 1h3m3 0h3m32 1h3m-38 5h3m32 0h3m-30 2h3m-6 1h3m-12 1h3m5 0h3m-7 1h3m56 0h3m-65 1h3m-2 1h3m-10 1h3m0 0h3m-1 0h3m57 0h3m-66 1h3m0 0h3m1 0h3m-2 0h3m-2 0h3m3 0h3m0 0h3m-15 1h3m-2 0h3m-1 0h3m2 0h3m2 0h3m-26 1h3m3 0h3m3 0h3m13 0h3m-7 1h3m39 1h3m-60 1h3m-1 0h3m3 0h3m11 0h3m27 0h3m-42 1h3m48 0h3m-64 1h3m10 0h3m-2 0h3m27 0h3m-54 1h3m3 0h3m53 0h3m-1 0h3m-61 1h3m5 0h3m2 0h3m1 0h3m31 0h3m-1 0h3m0 0h3m-1 0h3m0 0h3m-1 0h3m-70 1h3m15 0h3m39 0h3m-3 1h3m3 0h3m2 0h3m-20 1h3m1 0h3m-42 1h3m36 0h3m6 0h3m-14 1h3m0 1h3m-46 1h3m-10 1h3m42 0h3m-46 1h3m-26 3h3m-14 7h3m8 3h3m-8 1h3m-6 2h3m-1 0h3m-2 1h3m2 0h3m-8 1h3m2 0h3m-11 2h3m6 0h3m-14 2h3m3 0h3m-9 1h3m11 6h3"/>
<path transform="scale(.5)" fill="none" stroke="#ee1c8a" stroke-width="3" d="M195 478h3m-72 1h3m-30 3h3m45 0h3m-22 2h3m-1 5h3m56 3h3m-45 14h3m26 18h3m-89 2h3m78 1h3m-54 2h3m-44 3h3m118 0h3m-124 2h3m149 1h3m-167 4h3m48 3h3m7 5h3m-56 1h3m10 0h3m-1 0h3m-19 1h3m-5 6h3m30 1h3m-39 1h3m116 9h3m-131 6h3m30 1h3m11 2h3m-32 2h3m-10 3h3m15 0h3m-7 2h3m-2 1h3m-31 1h3m76 0h3m-52 2h3m22 1h3m22 4h3m43 0h3m-104 1h3m9 0h3m43 0h3m-13 2h3m69 0h3m-91 1h3m-43 1h3m84 0h3m-16 1h3m-15 2h3m-64 2h3m54 4h3m-16 2h3m67 0h3m-42 2h3m-13 1h3"/>
<path transform="scale(.5)" fill="none" stroke="#f08c28" stroke-width="3" d="M125 484h3m-9 7h3m2 1h3m64 16h3m5 7h3m-19 3h3m10 6h3m-92 20h3m-56 33h3m21 0h3m-19 5h3m28 10h3m-15 2h3m12 0h3m-3 1h3m2 0h3m0 0h3m-12 1h3m-4 2h3m-4 1h3m-1 1h3m-11 1h3m6 2h3"/>
<ellipse cx="29" cy="243.5" rx="10.5" ry="7.5" fill="none" stroke="#333" stroke-width="0.6" stroke-dasharray="1,1"/>
<ellipse cx="141.5" cy="291.5" rx="12.5" ry="9.3" fill="none" stroke="#333" stroke-width="0.6" stroke-dasharray="1,1"/>
<ellipse cx="78" cy="229" rx="10" ry="6.2" fill="none" stroke="#333" stroke-width="0.6" stroke-dasharray="1,1"/>
<ellipse cx="97.8" cy="255.4" rx="11.8" ry="7.9" fill="none" stroke="#333" stroke-width="0.6" stroke-dasharray="1,1"/>
<text x="55.0" y="205.8" font-size="6.8" text-anchor="middle" fill="#111">C21</text>
<text x="75.0" y="200.6" font-size="6.8" text-anchor="middle" fill="#111">C04</text>
<text x="86.0" y="204.3" font-size="6.8" text-anchor="middle" fill="#111">C51</text>
<text x="71.0" y="209.9" font-size="6.8" text-anchor="middle" fill="#111">C30</text>
<text x="85.5" y="211.7" font-size="6.8" text-anchor="middle" fill="#111">C07</text>
<text x="98.0" y="214.2" font-size="6.8" text-anchor="middle" fill="#111">C60</text>
<text x="67.0" y="216.5" font-size="6.8" text-anchor="middle" fill="#111">C06</text>
<text x="79.5" y="220.4" font-size="6.8" text-anchor="middle" fill="#111">C31</text>
<text x="94.0" y="221.0" font-size="6.8" text-anchor="middle" fill="#111">C26</text>
<text x="57.0" y="227.2" font-size="6.8" text-anchor="middle" fill="#111">C15</text>
<text x="75.5" y="227.9" font-size="6.8" text-anchor="middle" fill="#111">LN59</text>
<text x="80.0" y="231.6" font-size="6.8" text-anchor="middle" fill="#111">C59</text>
<text x="32.0" y="240.5" font-size="6.8" text-anchor="middle" fill="#111">C38</text>
<text x="27.0" y="247.5" font-size="6.8" text-anchor="middle" fill="#111">LN38</text>
<text x="145.0" y="232.0" font-size="6.8" text-anchor="middle" fill="#111">C08</text>
<text x="78.5" y="251.5" font-size="6.8" text-anchor="middle" fill="#111">C56</text>
<text x="94.0" y="256.0" font-size="6.8" text-anchor="middle" fill="#111">C46</text>
<text x="102.0" y="261.5" font-size="6.8" text-anchor="middle" fill="#111">LN46</text>
<text x="159.0" y="266.0" font-size="6.8" text-anchor="middle" fill="#111">C09</text>
<text x="40.3" y="283.0" font-size="6.8" text-anchor="middle" fill="#111">C84</text>
<text x="47.0" y="292.5" font-size="6.8" text-anchor="middle" fill="#111">C57</text>
<text x="81.5" y="283.0" font-size="6.8" text-anchor="middle" fill="#111">C43</text>
<text x="138.0" y="291.0" font-size="6.8" text-anchor="middle" fill="#111">LN22</text>
<text x="146.0" y="295.0" font-size="6.8" text-anchor="middle" fill="#111">C22</text>
<text x="239.4" y="12.6" font-size="16.5" font-weight="bold">b</text>
<rect x="269.4" y="48.9" width="13.3" height="66.4" fill="#f59a9a"/>
<line x1="269.4" y1="115.3" x2="282.7" y2="115.3" stroke="#222" stroke-width="0.9"/>
<rect x="269.4" y="115.3" width="13.3" height="10.5" fill="#d39494"/>
<line x1="269.4" y1="125.8" x2="282.7" y2="125.8" stroke="#222" stroke-width="0.9"/>
<rect x="269.4" y="125.8" width="13.3" height="5.6" fill="#80f080"/>
<rect x="269.4" y="48.9" width="13.3" height="82.5" fill="none" stroke="#222" stroke-width="1"/>
<text x="279.4" y="133.8" font-size="9.6" text-anchor="end" transform="rotate(-90 279.4 133.8)">C08</text>
<rect x="284.9" y="48.9" width="13.3" height="72.6" fill="#8080ff"/>
<line x1="284.9" y1="121.5" x2="298.2" y2="121.5" stroke="#222" stroke-width="0.9"/>
<rect x="284.9" y="121.5" width="13.3" height="7.9" fill="#d39494"/>
<line x1="284.9" y1="129.4" x2="298.2" y2="129.4" stroke="#222" stroke-width="0.9"/>
<rect x="284.9" y="129.4" width="13.3" height="2.0" fill="#80f080"/>
<rect x="284.9" y="48.9" width="13.3" height="82.5" fill="none" stroke="#222" stroke-width="1"/>
<text x="295.0" y="133.8" font-size="9.6" text-anchor="end" transform="rotate(-90 295.0 133.8)">C38</text>
<rect x="300.4" y="48.9" width="13.3" height="77.3" fill="#8080ff"/>
<line x1="300.4" y1="126.2" x2="313.7" y2="126.2" stroke="#222" stroke-width="0.9"/>
<rect x="300.4" y="126.2" width="13.3" height="5.2" fill="#d39494"/>
<rect x="300.4" y="48.9" width="13.3" height="82.5" fill="none" stroke="#222" stroke-width="1"/>
<text x="310.5" y="133.8" font-size="9.6" text-anchor="end" transform="rotate(-90 310.5 133.8)">LN38</text>
<rect x="316.0" y="48.9" width="13.3" height="81.5" fill="#80c080"/>
<line x1="316.0" y1="130.4" x2="329.3" y2="130.4" stroke="#222" stroke-width="0.9"/>
<rect x="316.0" y="130.4" width="13.3" height="1.0" fill="#80f080"/>
<rect x="316.0" y="48.9" width="13.3" height="82.5" fill="none" stroke="#222" stroke-width="1"/>
<text x="326.0" y="133.8" font-size="9.6" text-anchor="end" transform="rotate(-90 326.0 133.8)">C09</text>
<rect x="331.5" y="48.9" width="13.3" height="57.3" fill="#d39494"/>
<line x1="331.5" y1="106.2" x2="344.8" y2="106.2" stroke="#222" stroke-width="0.9"/>
<rect x="331.5" y="106.2" width="13.3" height="25.2" fill="#80f080"/>
<rect x="331.5" y="48.9" width="13.3" height="82.5" fill="none" stroke="#222" stroke-width="1"/>
<text x="341.5" y="133.8" font-size="9.6" text-anchor="end" transform="rotate(-90 341.5 133.8)">C86</text>
<rect x="347.0" y="48.9" width="13.3" height="68.4" fill="#d39494"/>
<line x1="347.0" y1="117.3" x2="360.3" y2="117.3" stroke="#222" stroke-width="0.9"/>
<rect x="347.0" y="117.3" width="13.3" height="14.1" fill="#80f080"/>
<rect x="347.0" y="48.9" width="13.3" height="82.5" fill="none" stroke="#222" stroke-width="1"/>
<text x="357.0" y="133.8" font-size="9.6" text-anchor="end" transform="rotate(-90 357.0 133.8)">C84</text>
<rect x="362.5" y="48.9" width="13.3" height="81.5" fill="#d39494"/>
<line x1="362.5" y1="130.4" x2="375.8" y2="130.4" stroke="#222" stroke-width="0.9"/>
<rect x="362.5" y="130.4" width="13.3" height="1.0" fill="#80c080"/>
<rect x="362.5" y="48.9" width="13.3" height="82.5" fill="none" stroke="#222" stroke-width="1"/>
<text x="372.6" y="133.8" font-size="9.6" text-anchor="end" transform="rotate(-90 372.6 133.8)">C57</text>
<rect x="378.0" y="48.9" width="13.3" height="82.5" fill="#d39494"/>
<rect x="378.0" y="48.9" width="13.3" height="82.5" fill="none" stroke="#222" stroke-width="1"/>
<text x="388.1" y="133.8" font-size="9.6" text-anchor="end" transform="rotate(-90 388.1 133.8)">LN46</text>
<rect x="393.6" y="48.9" width="13.3" height="82.5" fill="#d39494"/>
<rect x="393.6" y="48.9" width="13.3" height="82.5" fill="none" stroke="#222" stroke-width="1"/>
<text x="403.6" y="133.8" font-size="9.6" text-anchor="end" transform="rotate(-90 403.6 133.8)">C43</text>
<rect x="409.1" y="48.9" width="13.3" height="82.5" fill="#d39494"/>
<rect x="409.1" y="48.9" width="13.3" height="82.5" fill="none" stroke="#222" stroke-width="1"/>
<text x="419.1" y="133.8" font-size="9.6" text-anchor="end" transform="rotate(-90 419.1 133.8)">C46</text>
<rect x="424.6" y="48.9" width="13.3" height="21.1" fill="#80c080"/>
<line x1="424.6" y1="70.0" x2="437.9" y2="70.0" stroke="#222" stroke-width="0.9"/>
<rect x="424.6" y="70.0" width="13.3" height="61.4" fill="#80f080"/>
<rect x="424.6" y="48.9" width="13.3" height="82.5" fill="none" stroke="#222" stroke-width="1"/>
<text x="434.6" y="133.8" font-size="9.6" text-anchor="end" transform="rotate(-90 434.6 133.8)">C07</text>
<rect x="440.1" y="48.9" width="13.3" height="1.5" fill="#80c080"/>
<line x1="440.1" y1="50.4" x2="453.4" y2="50.4" stroke="#222" stroke-width="0.9"/>
<rect x="440.1" y="50.4" width="13.3" height="35.1" fill="#d39494"/>
<line x1="440.1" y1="85.5" x2="453.4" y2="85.5" stroke="#222" stroke-width="0.9"/>
<rect x="440.1" y="85.5" width="13.3" height="45.9" fill="#80f080"/>
<rect x="440.1" y="48.9" width="13.3" height="82.5" fill="none" stroke="#222" stroke-width="1"/>
<text x="450.2" y="133.8" font-size="9.6" text-anchor="end" transform="rotate(-90 450.2 133.8)">C15</text>
<rect x="455.6" y="48.9" width="13.3" height="1.3" fill="#80c080"/>
<line x1="455.6" y1="50.2" x2="468.9" y2="50.2" stroke="#222" stroke-width="0.9"/>
<rect x="455.6" y="50.2" width="13.3" height="25.8" fill="#d39494"/>
<line x1="455.6" y1="76.0" x2="468.9" y2="76.0" stroke="#222" stroke-width="0.9"/>
<rect x="455.6" y="76.0" width="13.3" height="55.4" fill="#80f080"/>
<rect x="455.6" y="48.9" width="13.3" height="82.5" fill="none" stroke="#222" stroke-width="1"/>
<text x="465.7" y="133.8" font-size="9.6" text-anchor="end" transform="rotate(-90 465.7 133.8)">C31</text>
<rect x="471.2" y="48.9" width="13.3" height="7.8" fill="#80c080"/>
<line x1="471.2" y1="56.7" x2="484.5" y2="56.7" stroke="#222" stroke-width="0.9"/>
<rect x="471.2" y="56.7" width="13.3" height="15.9" fill="#d39494"/>
<line x1="471.2" y1="72.6" x2="484.5" y2="72.6" stroke="#222" stroke-width="0.9"/>
<rect x="471.2" y="72.6" width="13.3" height="58.8" fill="#80f080"/>
<rect x="471.2" y="48.9" width="13.3" height="82.5" fill="none" stroke="#222" stroke-width="1"/>
<text x="481.2" y="133.8" font-size="9.6" text-anchor="end" transform="rotate(-90 481.2 133.8)">C06</text>
<rect x="486.7" y="48.9" width="13.3" height="12.0" fill="#8080ff"/>
<line x1="486.7" y1="60.9" x2="500.0" y2="60.9" stroke="#222" stroke-width="0.9"/>
<rect x="486.7" y="60.9" width="13.3" height="3.8" fill="#d39494"/>
<line x1="486.7" y1="64.7" x2="500.0" y2="64.7" stroke="#222" stroke-width="0.9"/>
<rect x="486.7" y="64.7" width="13.3" height="66.7" fill="#80f080"/>
<rect x="486.7" y="48.9" width="13.3" height="82.5" fill="none" stroke="#222" stroke-width="1"/>
<text x="496.7" y="133.8" font-size="9.6" text-anchor="end" transform="rotate(-90 496.7 133.8)">C59</text>
<rect x="502.2" y="48.9" width="13.3" height="9.1" fill="#d39494"/>
<line x1="502.2" y1="58.0" x2="515.5" y2="58.0" stroke="#222" stroke-width="0.9"/>
<rect x="502.2" y="58.0" width="13.3" height="73.4" fill="#80f080"/>
<rect x="502.2" y="48.9" width="13.3" height="82.5" fill="none" stroke="#222" stroke-width="1"/>
<text x="512.2" y="133.8" font-size="9.6" text-anchor="end" transform="rotate(-90 512.2 133.8)">C21</text>
<rect x="517.7" y="48.9" width="13.3" height="8.6" fill="#d39494"/>
<line x1="517.7" y1="57.5" x2="531.0" y2="57.5" stroke="#222" stroke-width="0.9"/>
<rect x="517.7" y="57.5" width="13.3" height="73.9" fill="#80f080"/>
<rect x="517.7" y="48.9" width="13.3" height="82.5" fill="none" stroke="#222" stroke-width="1"/>
<text x="527.8" y="133.8" font-size="9.6" text-anchor="end" transform="rotate(-90 527.8 133.8)">C26</text>
<rect x="533.2" y="48.9" width="13.3" height="1.6" fill="#8080ff"/>
<line x1="533.2" y1="50.5" x2="546.5" y2="50.5" stroke="#222" stroke-width="0.9"/>
<rect x="533.2" y="50.5" width="13.3" height="1.6" fill="#d39494"/>
<line x1="533.2" y1="52.1" x2="546.5" y2="52.1" stroke="#222" stroke-width="0.9"/>
<rect x="533.2" y="52.1" width="13.3" height="79.3" fill="#80f080"/>
<rect x="533.2" y="48.9" width="13.3" height="82.5" fill="none" stroke="#222" stroke-width="1"/>
<text x="543.3" y="133.8" font-size="9.6" text-anchor="end" transform="rotate(-90 543.3 133.8)">LN59</text>
<rect x="548.8" y="48.9" width="13.3" height="82.5" fill="#80f080"/>
<rect x="548.8" y="48.9" width="13.3" height="82.5" fill="none" stroke="#222" stroke-width="1"/>
<text x="558.8" y="133.8" font-size="9.6" text-anchor="end" transform="rotate(-90 558.8 133.8)">C04</text>
<rect x="564.3" y="48.9" width="13.3" height="82.5" fill="#80f080"/>
<rect x="564.3" y="48.9" width="13.3" height="82.5" fill="none" stroke="#222" stroke-width="1"/>
<text x="574.3" y="133.8" font-size="9.6" text-anchor="end" transform="rotate(-90 574.3 133.8)">C60</text>
<rect x="579.8" y="48.9" width="13.3" height="1.1" fill="#80c080"/>
<line x1="579.8" y1="50.0" x2="593.1" y2="50.0" stroke="#222" stroke-width="0.9"/>
<rect x="579.8" y="50.0" width="13.3" height="81.4" fill="#80f080"/>
<rect x="579.8" y="48.9" width="13.3" height="82.5" fill="none" stroke="#222" stroke-width="1"/>
<text x="589.8" y="133.8" font-size="9.6" text-anchor="end" transform="rotate(-90 589.8 133.8)">C30</text>
<rect x="595.3" y="48.9" width="13.3" height="2.8" fill="#80c080"/>
<line x1="595.3" y1="51.7" x2="608.6" y2="51.7" stroke="#222" stroke-width="0.9"/>
<rect x="595.3" y="51.7" width="13.3" height="79.7" fill="#80f080"/>
<rect x="595.3" y="48.9" width="13.3" height="82.5" fill="none" stroke="#222" stroke-width="1"/>
<text x="605.4" y="133.8" font-size="9.6" text-anchor="end" transform="rotate(-90 605.4 133.8)">C51</text>
<rect x="610.8" y="48.9" width="13.3" height="80.3" fill="#eed8bc"/>
<line x1="610.8" y1="129.2" x2="624.1" y2="129.2" stroke="#222" stroke-width="0.9"/>
<rect x="610.8" y="129.2" width="13.3" height="2.2" fill="#d39494"/>
<rect x="610.8" y="48.9" width="13.3" height="82.5" fill="none" stroke="#222" stroke-width="1"/>
<text x="620.9" y="133.8" font-size="9.6" text-anchor="end" transform="rotate(-90 620.9 133.8)">C22</text>
<rect x="626.4" y="48.9" width="13.3" height="43.0" fill="#eed8bc"/>
<line x1="626.4" y1="91.9" x2="639.7" y2="91.9" stroke="#222" stroke-width="0.9"/>
<rect x="626.4" y="91.9" width="13.3" height="39.5" fill="#d39494"/>
<rect x="626.4" y="48.9" width="13.3" height="82.5" fill="none" stroke="#222" stroke-width="1"/>
<text x="636.4" y="133.8" font-size="9.6" text-anchor="end" transform="rotate(-90 636.4 133.8)">LN22</text>
<rect x="284.5" y="162.0" width="29.3" height="3.8" fill="#4c9aff"/>
<rect x="378.0" y="162.0" width="13.3" height="3.8" fill="#5050ff"/>
<rect x="409.3" y="162.0" width="13.1" height="3.8" fill="#5050ff"/>
<rect x="487.0" y="162.0" width="13.0" height="3.8" fill="#ff40ff"/>
<rect x="533.7" y="162.0" width="12.8" height="3.8" fill="#ff40ff"/>
<rect x="610.3" y="162.0" width="29.2" height="3.8" fill="#40f040"/>
<line x1="277.2" y1="15.8" x2="359.3" y2="15.8" stroke="#333" stroke-width="0.9"/>
<line x1="277.2" y1="15.8" x2="277.2" y2="48.9" stroke="#333" stroke-width="0.9"/>
<line x1="359.3" y1="15.8" x2="359.3" y2="16.7" stroke="#333" stroke-width="0.9"/>
<line x1="300.3" y1="16.7" x2="418.2" y2="16.7" stroke="#333" stroke-width="0.9"/>
<line x1="300.3" y1="16.7" x2="300.3" y2="47.3" stroke="#333" stroke-width="0.9"/>
<line x1="292.0" y1="47.3" x2="307.5" y2="47.3" stroke="#333" stroke-width="0.9"/>
<line x1="292.0" y1="47.3" x2="292.0" y2="48.9" stroke="#333" stroke-width="0.9"/>
<line x1="307.5" y1="47.3" x2="307.5" y2="48.9" stroke="#333" stroke-width="0.9"/>
<line x1="418.2" y1="16.7" x2="418.2" y2="22.5" stroke="#333" stroke-width="0.9"/>
<line x1="323.3" y1="22.5" x2="512.5" y2="22.5" stroke="#333" stroke-width="0.9"/>
<line x1="323.3" y1="22.5" x2="323.3" y2="48.9" stroke="#333" stroke-width="0.9"/>
<line x1="512.5" y1="22.5" x2="512.5" y2="35.4" stroke="#333" stroke-width="0.9"/>
<line x1="400.0" y1="35.4" x2="624.6" y2="35.4" stroke="#333" stroke-width="0.9"/>
<line x1="624.6" y1="35.4" x2="624.6" y2="38.4" stroke="#333" stroke-width="0.9"/>
<line x1="616.4" y1="38.4" x2="632.4" y2="38.4" stroke="#333" stroke-width="0.9"/>
<line x1="616.4" y1="38.4" x2="616.4" y2="48.9" stroke="#333" stroke-width="0.9"/>
<line x1="632.4" y1="38.4" x2="632.4" y2="48.9" stroke="#333" stroke-width="0.9"/>
<line x1="400.0" y1="35.4" x2="400.0" y2="42.2" stroke="#333" stroke-width="0.9"/>
<line x1="353.4" y1="42.2" x2="447.7" y2="42.2" stroke="#333" stroke-width="0.9"/>
<line x1="353.4" y1="42.2" x2="353.4" y2="46.2" stroke="#333" stroke-width="0.9"/>
<line x1="338.8" y1="46.2" x2="416.0" y2="46.2" stroke="#333" stroke-width="0.9"/>
<line x1="447.7" y1="42.2" x2="447.7" y2="45.7" stroke="#333" stroke-width="0.9"/>
<line x1="430.7" y1="45.7" x2="601.8" y2="45.7" stroke="#333" stroke-width="0.9"/>
<line x1="338.8" y1="46.2" x2="338.8" y2="48.9" stroke="#333" stroke-width="0.9"/>
<line x1="416.0" y1="46.2" x2="416.0" y2="48.9" stroke="#333" stroke-width="0.9"/>
<line x1="430.7" y1="45.7" x2="430.7" y2="48.9" stroke="#333" stroke-width="0.9"/>
<line x1="601.8" y1="45.7" x2="601.8" y2="48.9" stroke="#333" stroke-width="0.9"/>
<line x1="360.0" y1="47.5" x2="400.0" y2="47.5" stroke="#333" stroke-width="0.9"/>
<line x1="455.0" y1="47.2" x2="520.0" y2="47.2" stroke="#333" stroke-width="0.9"/>
<line x1="540.0" y1="47.5" x2="590.0" y2="47.5" stroke="#333" stroke-width="0.9"/>
<text x="219.2" y="188.4" font-size="16.5" font-weight="bold">c</text>
<text x="441.6" y="198.9" font-size="11.6" text-anchor="middle">TCGA-HNSCC</text>
<rect x="235.4" y="208.2" width="412.4" height="86.0" fill="none" stroke="#666" stroke-width="1"/>
<line x1="304.1" y1="208.2" x2="304.1" y2="294.2" stroke="#888" stroke-width="1"/>
<line x1="372.9" y1="208.2" x2="372.9" y2="294.2" stroke="#888" stroke-width="1"/>
<line x1="441.6" y1="208.2" x2="441.6" y2="294.2" stroke="#888" stroke-width="1"/>
<line x1="510.3" y1="208.2" x2="510.3" y2="294.2" stroke="#888" stroke-width="1"/>
<line x1="579.1" y1="208.2" x2="579.1" y2="294.2" stroke="#888" stroke-width="1"/>
<text x="269.8" y="306.3" font-size="10" text-anchor="middle">CC0</text>
<text x="338.5" y="306.3" font-size="10" text-anchor="middle">CC1</text>
<text x="407.2" y="306.3" font-size="10" text-anchor="middle">CC2</text>
<text x="476.0" y="306.3" font-size="10" text-anchor="middle">CC3</text>
<text x="544.7" y="306.3" font-size="10" text-anchor="middle">CC4</text>
<text x="613.4" y="306.3" font-size="10" text-anchor="middle">CC5</text>
<text x="215.5" y="251.3" font-size="11.5" text-anchor="middle" transform="rotate(-90 215.5 251.3)">Cumulated</text>
<text x="228.3" y="251.4" font-size="11.5" text-anchor="middle" transform="rotate(-90 228.3 251.4)">cell proportion</text>
<path d="M237.8 291.8 L238.0 291.5 L238.3 291.2 L238.6 290.8 L238.9 290.4 L239.4 289.8 L239.9 289.2 L240.4 288.4 L241.1 287.5 L241.9 286.4 L242.7 285.2 L243.6 283.8 L244.6 282.3 L245.7 280.7 L246.9 279.2 L248.1 277.7 L249.3 276.3 L250.6 275.0 L252.1 273.7 L253.7 272.4 L255.3 271.1 L256.9 269.8 L258.5 268.6 L260.0 267.3 L261.5 266.1 L262.9 264.9 L264.2 263.6 L265.6 262.4 L266.9 261.2 L268.1 260.0 L269.3 258.9 L270.5 257.9 L271.7 256.9 L272.8 256.1 L273.9 255.3 L275.0 254.6 L276.0 254.0 L277.1 253.4 L278.0 252.8 L279.0 252.3 L279.9 251.7 L280.8 251.1 L281.6 250.6 L282.4 250.1 L283.1 249.7 L283.9 249.2 L284.6 248.6 L285.3 248.0 L286.1 247.3 L286.9 246.5 L287.7 245.6 L288.5 244.6 L289.3 243.6 L290.1 242.6 L290.8 241.6 L291.5 240.5 L292.2 239.5 L292.8 238.5 L293.4 237.5 L293.9 236.5 L294.4 235.4 L294.9 234.4 L295.4 233.4 L295.9 232.3 L296.3 231.3 L296.7 230.3 L297.2 229.2 L297.6 228.2 L298.0 227.1 L298.3 226.1 L298.7 225.0 L299.0 224.0 L299.3 223.1 L299.6 222.2 L299.8 221.2 L300.0 220.2 L300.2 219.3 L300.4 218.4 L300.6 217.6 L300.7 217.0 L300.8 216.5" fill="none" stroke="#a83c3c" stroke-width="1.1" stroke-linejoin="round"/>
<path transform="scale(.5)" fill="none" stroke="#a83c3c" stroke-width="2" d="M602 420h2m-2 3h2m-3 4h2"/>
<path d="M306.0 291.6 L306.7 291.6 L307.6 291.7 L308.8 291.8 L310.0 291.9 L311.3 291.9 L312.5 291.9 L313.6 291.8 L314.5 291.5 L315.2 291.1 L315.7 290.5 L316.1 289.9 L316.4 289.1 L316.8 288.4 L317.1 287.6 L317.5 286.8 L318.0 286.0 L318.6 285.3 L319.1 284.6 L319.7 283.9 L320.4 283.1 L321.1 282.3 L321.8 281.5 L322.6 280.6 L323.5 279.5 L324.5 278.3 L325.6 276.9 L326.8 275.5 L328.0 273.9 L329.2 272.4 L330.5 270.9 L331.8 269.4 L333.0 268.0 L334.2 266.7 L335.5 265.4 L336.8 264.2 L338.0 262.9 L339.3 261.8 L340.5 260.6 L341.7 259.5 L342.8 258.5 L343.8 257.5 L344.8 256.7 L345.7 255.9 L346.6 255.1 L347.4 254.3 L348.3 253.6 L349.1 252.8 L350.0 252.0 L350.9 251.2 L351.8 250.4 L352.8 249.7 L353.7 248.9 L354.6 248.1 L355.5 247.2 L356.4 246.3 L357.2 245.3 L358.0 244.2 L358.8 243.0 L359.6 241.7 L360.3 240.4 L361.0 239.0 L361.7 237.6 L362.4 236.3 L363.0 235.0 L363.6 233.7 L364.2 232.4 L364.7 231.1 L365.2 229.9 L365.7 228.6 L366.1 227.4 L366.6 226.2 L367.0 225.0 L367.4 223.8 L367.8 222.7 L368.2 221.5 L368.5 220.4 L368.8 219.3 L369.1 218.4 L369.3 217.6 L369.5 217.0" fill="none" stroke="#22dd22" stroke-width="1.3" stroke-linejoin="round"/>
<path transform="scale(.5)" fill="none" stroke="#22dd22" stroke-width="2" d="M740 424h2m-3 4h2"/>
<path d="M375.0 291.4 L439.3 291.4" fill="none" stroke="#e84848" stroke-width="1.3" stroke-linejoin="round"/>
<path d="M443.0 291.6 L444.2 291.6 L445.7 291.6 L447.5 291.7 L449.6 291.7 L451.7 291.7 L453.8 291.6 L455.9 291.6 L457.7 291.4 L459.3 291.2 L460.9 290.9 L462.4 290.6 L463.8 290.2 L465.3 289.8 L466.8 289.4 L468.3 288.9 L470.0 288.5 L471.8 288.1 L473.6 287.6 L475.5 287.1 L477.5 286.6 L479.4 286.1 L481.3 285.6 L483.2 285.1 L485.0 284.5 L486.8 283.9 L488.6 283.2 L490.4 282.6 L492.1 281.9 L493.8 281.2 L495.3 280.5 L496.7 279.8 L497.8 279.2 L498.7 278.6 L499.3 278.2 L499.7 277.7 L500.0 277.3 L500.3 276.8 L500.5 276.3 L500.7 275.7 L501.0 275.0 L501.4 274.2 L501.7 273.3 L502.0 272.3 L502.4 271.3 L502.7 270.2 L503.0 269.2 L503.2 268.1 L503.5 267.0 L503.7 265.9 L504.0 264.8 L504.2 263.7 L504.4 262.5 L504.5 261.3 L504.7 260.2 L504.9 259.1 L505.0 258.0 L505.1 256.9 L505.3 255.7 L505.4 254.6 L505.5 253.4 L505.6 252.4 L505.7 251.4 L505.7 250.6 L505.8 250.0" fill="none" stroke="#1a901a" stroke-width="1.3" stroke-linejoin="round"/>
<path transform="scale(.5)" fill="none" stroke="#1a901a" stroke-width="2" d="M1014 456h2m-3 6h2m-2 10h2m-3 10h2m-3 10h2"/>
<path d="M512.0 291.6 L515.6 291.6 L520.7 291.6 L526.8 291.7 L533.4 291.7 L540.1 291.7 L546.3 291.7 L551.6 291.6 L555.6 291.5 L558.2 291.3 L559.8 291.1 L560.7 290.9 L561.0 290.6 L561.1 290.3 L561.2 289.9 L561.4 289.5 L562.0 289.0 L563.0 288.4 L564.0 287.7 L565.1 286.9 L566.2 286.1 L567.3 285.3 L568.3 284.4 L569.2 283.7 L570.0 283.0 L570.6 282.4 L571.2 281.9 L571.7 281.5 L572.0 281.1 L572.4 280.6 L572.7 280.2 L573.0 279.6 L573.3 279.0 L573.6 278.3 L573.9 277.4 L574.1 276.6 L574.3 275.6 L574.5 274.7 L574.7 273.8 L574.8 272.8 L575.0 272.0 L575.1 271.2 L575.3 270.3 L575.4 269.4 L575.5 268.6 L575.6 267.8 L575.7 267.1 L575.7 266.5 L575.8 266.0" fill="none" stroke="#deb887" stroke-width="1.3" stroke-linejoin="round"/>
<path transform="scale(.5)" fill="none" stroke="#deb887" stroke-width="2" d="M1152 506h2m-2 10h2m-3 8h2"/>
<path d="M581.0 291.6 L582.6 291.6 L584.8 291.6 L587.4 291.7 L590.2 291.7 L593.1 291.7 L596.0 291.7 L598.5 291.6 L600.6 291.4 L602.3 291.1 L603.7 290.8 L604.9 290.5 L605.9 290.0 L606.9 289.6 L607.9 289.1 L608.9 288.6 L610.0 288.0 L611.2 287.4 L612.5 286.8 L613.8 286.1 L615.1 285.3 L616.4 284.6 L617.6 283.8 L618.7 283.1 L619.8 282.4 L620.7 281.7 L621.6 281.0 L622.4 280.4 L623.1 279.7 L623.8 279.0 L624.5 278.4 L625.2 277.7 L626.0 277.0 L626.8 276.3 L627.7 275.6 L628.5 275.0 L629.4 274.3 L630.3 273.6 L631.1 272.8 L631.9 272.0 L632.7 271.2 L633.4 270.3 L634.2 269.4 L634.8 268.4 L635.5 267.4 L636.2 266.4 L636.8 265.3 L637.4 264.2 L638.0 263.0 L638.6 261.7 L639.1 260.4 L639.7 259.0 L640.2 257.6 L640.7 256.1 L641.2 254.7 L641.6 253.3 L642.0 252.0 L642.4 250.7 L642.7 249.4 L643.0 248.1 L643.2 246.8 L643.5 245.6 L643.7 244.6 L643.9 243.7 L644.0 243.0" fill="none" stroke="#1a1af0" stroke-width="1.3" stroke-linejoin="round"/>
<path transform="scale(.5)" fill="none" stroke="#1a1af0" stroke-width="2" d="M1290 469h2m-3 5h2m-3 6h2"/>
<text x="0.0" y="337.2" font-size="16.5" font-weight="bold">d</text>
<circle cx="57.6" cy="333.6" r="2.3" fill="#4169e1"/>
<text x="62.8" y="336.6" font-size="8.3">HPV+</text>
<circle cx="93.3" cy="333.6" r="2.3" fill="#cccccc"/>
<text x="99.3" y="336.6" font-size="8.3">HPV-</text>
<path transform="scale(.5)" fill="none" stroke="#c8c8c8" stroke-width="3" d="M131 687h3m5 1h3m31 1h3m-20 1h3m32 0h3m-30 1h3m17 0h3m-36 1h3m7 0h3m-23 1h3m-2 0h3m0 0h3m1 0h3m34 0h3m8 0h3m0 0h3m-77 1h3m18 0h3m49 0h3m-60 1h3m3 0h3m-2 0h3m-1 0h3m1 0h3m0 0h3m14 0h3m7 0h3m-51 1h3m2 0h3m-2 0h3m2 0h3m-1 0h3m0 0h3m38 0h3m11 0h3m-71 1h3m0 0h3m-1 0h3m-2 0h3m2 0h3m30 0h3m2 0h3m3 0h3m6 0h3m-57 1h3m2 0h3m24 0h3m-2 0h3m2 0h3m9 0h3m-1 0h3m3 0h3m0 0h3m-89 1h3m11 0h3m-2 0h3m-2 0h3m3 0h3m0 0h3m-2 0h3m25 0h3m-2 0h3m1 0h3m4 0h3m4 0h3m0 0h3m4 0h3m-80 1h3m14 0h3m-2 0h3m0 0h3m21 0h3m0 0h3m0 0h3m4 0h3m15 0h3m-70 1h3m2 0h3m-1 0h3m-1 0h3m-1 0h3m-2 0h3m8 0h3m18 0h3m13 0h3m-73 1h3m1 0h3m7 0h3m26 0h3m0 0h3m2 0h3m-2 0h3m-2 0h3m2 0h3m-1 0h3m-60 1h3m14 0h3m1 0h3m4 0h3m5 0h3m12 0h3m3 0h3m-2 0h3m6 0h3m-73 1h3m13 0h3m12 0h3m10 0h3m3 0h3m2 0h3m0 0h3m5 0h3m-1 0h3m0 0h3m0 0h3m1 0h3m6 0h3m-73 1h3m9 0h3m5 0h3m1 0h3m9 0h3m4 0h3m4 0h3m-73 1h3m28 0h3m2 0h3m-1 0h3m10 0h3m-1 0h3m1 0h3m-1 0h3m-1 0h3m-1 0h3m2 0h3m-1 0h3m-1 0h3m15 0h3m-91 1h3m9 0h3m10 0h3m8 0h3m-2 0h3m5 0h3m0 0h3m6 0h3m-2 0h3m3 0h3m22 0h3m-84 1h3m-2 0h3m-2 0h3m0 0h3m1 0h3m7 0h3m-2 0h3m9 0h3m2 0h3m1 0h3m1 0h3m8 0h3m0 0h3m-2 0h3m0 0h3m-2 0h3m-1 0h3m-81 1h3m24 0h3m15 0h3m-1 0h3m8 0h3m13 0h3m-1 0h3m-82 1h3m8 0h3m0 0h3m-1 0h3m2 0h3m-2 0h3m-2 0h3m10 0h3m0 0h3m13 0h3m35 0h3m-93 1h3m1 0h3m4 0h3m2 0h3m8 0h3m-1 0h3m2 0h3m1 0h3m-1 0h3m1 0h3m-1 0h3m-1 0h3m4 0h3m-1 0h3m-1 0h3m0 0h3m16 0h3m-1 0h3m-51 1h3m0 0h3m8 0h3m0 0h3m-2 0h3m-1 0h3m3 0h3m6 0h3m3 0h3m-2 0h3m0 0h3m2 0h3m10 0h3m-100 1h3m7 0h3m5 0h3m11 0h3m6 0h3m0 0h3m-1 0h3m-1 0h3m0 0h3m-1 0h3m11 0h3m5 0h3m3 0h3m7 0h3m-98 1h3m13 0h3m0 0h3m10 0h3m-1 0h3m-2 0h3m3 0h3m-2 0h3m-1 0h3m1 0h3m-1 0h3m2 0h3m16 0h3m0 0h3m-2 0h3m-1 0h3m3 0h3m-2 0h3m2 0h3m-86 1h3m6 0h3m-1 0h3m3 0h3m15 0h3m-2 0h3m0 0h3m-2 0h3m0 0h3m10 0h3m8 0h3m6 0h3m-2 0h3m1 0h3m-2 0h3m-101 1h3m10 0h3m3 0h3m2 0h3m-1 0h3m9 0h3m3 0h3m-2 0h3m0 0h3m2 0h3m26 0h3m-1 0h3m0 0h3m-2 0h3m-2 0h3m-1 0h3m5 0h3m-1 0h3m-80 1h3m15 0h3m-1 0h3m0 0h3m-2 0h3m-2 0h3m0 0h3m2 0h3m14 0h3m-1 0h3m4 0h3m-1 0h3m1 0h3m1 0h3m3 0h3m-1 0h3m-103 1h3m6 0h3m7 0h3m1 0h3m-2 0h3m1 0h3m8 0h3m-1 0h3m-1 0h3m-1 0h3m-2 0h3m2 0h3m-1 0h3m-1 0h3m7 0h3m5 0h3m-2 0h3m-2 0h3m7 0h3m0 0h3m1 0h3m-78 1h3m3 0h3m-2 0h3m-1 0h3m7 0h3m-2 0h3m-2 0h3m4 0h3m-2 0h3m-2 0h3m-2 0h3m-2 0h3m-2 0h3m2 0h3m2 0h3m4 0h3m-1 0h3m0 0h3m-2 0h3m-2 0h3m-2 0h3m-1 0h3m9 0h3m-1 0h3m-1 0h3m13 0h3m-2 0h3m-102 1h3m7 0h3m10 0h3m3 0h3m-2 0h3m6 0h3m5 0h3m-1 0h3m5 0h3m1 0h3m0 0h3m6 0h3m-2 0h3m-1 0h3m1 0h3m-1 0h3m-96 1h3m18 0h3m-2 0h3m1 0h3m-1 0h3m-2 0h3m5 0h3m0 0h3m-2 0h3m-1 0h3m2 0h3m-2 0h3m2 0h3m15 0h3m0 0h3m3 0h3m0 0h3m5 0h3m1 0h3m6 0h3m0 0h3m-99 1h3m-2 0h3m0 0h3m2 0h3m-2 0h3m3 0h3m13 0h3m23 0h3m-2 0h3m-1 0h3m-2 0h3m1 0h3m2 0h3m-2 0h3m-2 0h3m-1 0h3m-1 0h3m-2 0h3m1 0h3m-1 0h3m0 0h3m-1 0h3m0 0h3m-90 1h3m0 0h3m-2 0h3m-2 0h3m-2 0h3m-2 0h3m17 0h3m1 0h3m0 0h3m2 0h3m-1 0h3m11 0h3m-2 0h3m1 0h3m-1 0h3m6 0h3m-1 0h3m-2 0h3m-2 0h3m-2 0h3m1 0h3m-1 0h3m3 0h3m1 0h3m-113 1h3m20 0h3m-2 0h3m-2 0h3m0 0h3m9 0h3m-1 0h3m-1 0h3m1 0h3m2 0h3m4 0h3m12 0h3m-1 0h3m2 0h3m1 0h3m-2 0h3m0 0h3m3 0h3m0 0h3m-2 0h3m-87 1h3m3 0h3m-1 0h3m3 0h3m5 0h3m3 0h3m-1 0h3m0 0h3m3 0h3m1 0h3m4 0h3m-2 0h3m1 0h3m-1 0h3m4 0h3m1 0h3m-2 0h3m25 0h3m-93 1h3m-1 0h3m13 0h3m3 0h3m8 0h3m17 0h3m2 0h3m2 0h3m-1 0h3m2 0h3m-102 1h3m20 0h3m1 0h3m0 0h3m11 0h3m-1 0h3m0 0h3m1 0h3m6 0h3m-1 0h3m18 0h3m-2 0h3m7 0h3m15 0h3m-91 1h3m11 0h3m0 0h3m-1 0h3m0 0h3m-2 0h3m0 0h3m27 0h3m5 0h3m12 0h3m8 0h3m-118 1h3m-1 0h3m1 0h3m0 0h3m7 0h3m20 0h3m18 0h3m-2 0h3m15 0h3m7 0h3m-1 0h3m4 0h3m8 0h3m-110 1h3m11 0h3m26 0h3m28 0h3m6 0h3m-2 0h3m-1 0h3m6 0h3m0 0h3m-104 1h3m-2 0h3m-2 0h3m9 0h3m-1 0h3m23 0h3m-1 0h3m7 0h3m5 0h3m30 0h3m-99 1h3m1 0h3m3 0h3m26 0h3m62 0h3m-106 1h3m-2 0h3m-1 0h3m-2 0h3m4 0h3m41 0h3m9 0h3m2 0h3m3 0h3m25 0h3m-113 1h3m2 0h3m-2 0h3m7 0h3m5 0h3m9 0h3m50 0h3m7 0h3m-99 1h3m0 0h3m4 0h3m52 0h3m22 0h3m5 0h3m6 0h3m-111 1h3m-1 0h3m1 0h3m2 0h3m-2 0h3m3 0h3m3 0h3m31 0h3m38 0h3m0 0h3m13 0h3m-112 1h3m7 0h3m-1 0h3m8 0h3m19 0h3m15 0h3m-1 0h3m3 0h3m5 0h3m11 0h3m4 0h3m-80 1h3m-2 0h3m30 0h3m18 0h3m8 0h3m-93 1h3m-2 0h3m0 0h3m1 0h3m3 0h3m46 0h3m20 0h3m-2 0h3m-2 0h3m1 0h3m15 0h3m-2 0h3m-118 1h3m6 0h3m16 0h3m5 0h3m10 0h3m32 0h3m9 0h3m-2 0h3m1 0h3m-101 1h3m1 0h3m0 0h3m4 0h3m40 0h3m30 0h3m-2 0h3m-2 0h3m-2 0h3m-2 0h3m-1 0h3m-98 1h3m0 0h3m-1 0h3m1 0h3m4 0h3m5 0h3m67 0h3m2 0h3m2 0h3m-108 1h3m-2 0h3m1 0h3m4 0h3m3 0h3m1 0h3m1 0h3m17 0h3m2 0h3m16 0h3m3 0h3m15 0h3m-2 0h3m-2 0h3m-2 0h3m9 0h3m-113 1h3m0 0h3m3 0h3m-1 0h3m-2 0h3m1 0h3m2 0h3m0 0h3m44 0h3m14 0h3m5 0h3m7 0h3m-103 1h3m-1 0h3m1 0h3m46 0h3m4 0h3m3 0h3m2 0h3m5 0h3m-1 0h3m0 0h3m0 0h3m-2 0h3m5 0h3m-1 0h3m-106 1h3m7 0h3m27 0h3m33 0h3m-2 0h3m14 0h3m0 0h3m-105 1h3m3 0h3m7 0h3m-1 0h3m8 0h3m2 0h3m13 0h3m10 0h3m22 0h3m16 0h3m-107 1h3m-2 0h3m-2 0h3m0 0h3m0 0h3m-2 0h3m-2 0h3m-2 0h3m-2 0h3m3 0h3m4 0h3m6 0h3m30 0h3m16 0h3m-1 0h3m3 0h3m-80 1h3m39 0h3m3 0h3m20 0h3m-2 0h3m5 0h3m-94 1h3m17 0h3m3 0h3m22 0h3m11 0h3m65 0h3m8 0h3m-143 1h3m10 0h3m35 0h3m13 0h3m8 0h3m5 0h3m0 0h3m33 0h3m9 0h3m-1 0h3m-153 1h3m6 0h3m0 0h3m41 0h3m-1 0h3m0 0h3m6 0h3m11 0h3m2 0h3m3 0h3m43 0h3m-2 0h3m-2 0h3m-2 0h3m-2 0h3m0 0h3m1 0h3m-1 0h3m-1 0h3m13 0h3m-1 0h3m0 0h3m-175 1h3m-2 0h3m5 0h3m-1 0h3m12 0h3m29 0h3m5 0h3m15 0h3m42 0h3m3 0h3m7 0h3m-1 0h3m-1 0h3m0 0h3m4 0h3m-1 0h3m-2 0h3m-2 0h3m0 0h3m5 0h3m-2 0h3m-179 1h3m-2 0h3m25 0h3m3 0h3m20 0h3m7 0h3m6 0h3m1 0h3m44 0h3m11 0h3m-1 0h3m-2 0h3m1 0h3m1 0h3m1 0h3m9 0h3m-1 0h3m1 0h3m-2 0h3m0 0h3m-2 0h3m-172 1h3m5 0h3m19 0h3m1 0h3m22 0h3m4 0h3m53 0h3m-1 0h3m3 0h3m1 0h3m3 0h3m14 0h3m10 0h3m0 0h3m-181 1h3m5 0h3m15 0h3m99 0h3m0 0h3m-2 0h3m-2 0h3m-2 0h3m-2 0h3m-2 0h3m-2 0h3m-2 0h3m-2 0h3m-2 0h3m-1 0h3m-2 0h3m4 0h3m13 0h3m0 0h3m-2 0h3m2 0h3m-163 1h3m4 0h3m8 0h3m3 0h3m5 0h3m3 0h3m11 0h3m63 0h3m-2 0h3m-2 0h3m-2 0h3m3 0h3m13 0h3m-1 0h3m4 0h3m0 0h3m-2 0h3m-1 0h3m-54 1h3m0 0h3m3 0h3m0 0h3m-1 0h3m0 0h3m0 0h3m0 0h3m-1 0h3m23 0h3m4 0h3m-61 1h3m3 0h3m5 0h3m-1 0h3m-2 0h3m-2 0h3m-2 0h3m-2 0h3m0 0h3m1 0h3m16 0h3m0 0h3m-2 0h3m4 0h3m3 0h3m-137 1h3m81 0h3m-1 0h3m4 0h3m20 0h3m0 0h3m3 0h3m-1 0h3m-51 1h3m1 0h3m0 0h3m-1 0h3m-2 0h3m1 0h3m3 0h3m7 0h3m-2 0h3m1 0h3m0 0h3m-2 0h3m3 0h3m4 0h3m-1 0h3m-62 1h3m5 0h3m-1 0h3m1 0h3m-2 0h3m-2 0h3m2 0h3m-2 0h3m15 0h3m2 0h3m3 0h3m0 0h3m-138 1h3m66 0h3m-2 0h3m2 0h3m8 0h3m2 0h3m0 0h3m26 0h3m1 0h3m-2 0h3m0 0h3m-61 1h3m14 0h3m2 0h3m4 0h3m9 0h3m1 0h3m2 0h3m3 0h3m-2 0h3m-1 0h3m1 0h3m-68 1h3m2 0h3m-1 0h3m10 0h3m0 0h3m1 0h3m19 0h3m1 0h3m-2 0h3m-2 0h3m0 0h3m-2 0h3m-131 1h3m61 0h3m2 0h3m-1 0h3m0 0h3m-2 0h3m8 0h3m-1 0h3m-2 0h3m1 0h3m-1 0h3m1 0h3m10 0h3m9 0h3m0 0h3m2 0h3m1 0h3m-71 1h3m1 0h3m0 0h3m11 0h3m0 0h3m2 0h3m10 0h3m12 0h3m-65 1h3m5 0h3m-2 0h3m-1 0h3m0 0h3m-2 0h3m2 0h3m3 0h3m-1 0h3m2 0h3m0 0h3m3 0h3m0 0h3m8 0h3m-1 0h3m-2 0h3m-1 0h3m0 0h3m-1 0h3m-2 0h3m-2 0h3m2 0h3m-71 1h3m3 0h3m-2 0h3m-2 0h3m3 0h3m21 0h3m-1 0h3m-2 0h3m8 0h3m2 0h3m-1 0h3m-2 0h3m3 0h3m-72 1h3m3 0h3m1 0h3m-2 0h3m-2 0h3m-2 0h3m13 0h3m4 0h3m18 0h3m-1 0h3m-1 0h3m-2 0h3m-61 1h3m0 0h3m-2 0h3m0 0h3m-2 0h3m7 0h3m0 0h3m-2 0h3m9 0h3m-2 0h3m-2 0h3m8 0h3m-1 0h3m5 0h3m0 0h3m0 0h3m-63 1h3m-2 0h3m-2 0h3m-1 0h3m-2 0h3m8 0h3m-2 0h3m-1 0h3m1 0h3m1 0h3m-1 0h3m2 0h3m1 0h3m0 0h3m-1 0h3m2 0h3m2 0h3m-2 0h3m-60 1h3m4 0h3m3 0h3m10 0h3m-1 0h3m-2 0h3m7 0h3m4 0h3m-56 1h3m-2 0h3m11 0h3m-1 0h3m7 0h3m0 0h3m0 0h3m2 0h3m-2 0h3m2 0h3m1 0h3m2 0h3m-1 0h3m2 0h3m0 0h3m1 0h3m-71 1h3m3 0h3m3 0h3m8 0h3m3 0h3m22 0h3m6 0h3m0 0h3m-63 1h3m-1 0h3m-1 0h3m9 0h3m7 0h3m2 0h3m24 0h3m-65 1h3m1 0h3m-2 0h3m2 0h3m8 0h3m8 0h3m-1 0h3m1 0h3m18 0h3m-205 1h3m2 0h3m130 0h3m1 0h3m-2 0h3m0 0h3m-1 0h3m-1 0h3m1 0h3m-1 0h3m5 0h3m-1 0h3m2 0h3m-2 0h3m0 0h3m-1 0h3m1 0h3m0 0h3m6 0h3m-194 1h3m-2 0h3m142 0h3m-2 0h3m-2 0h3m-1 0h3m-2 0h3m7 0h3m-2 0h3m0 0h3m8 0h3m-2 0h3m15 0h3m-2 0h3m-196 1h3m89 0h3m43 0h3m-1 0h3m-2 0h3m0 0h3m8 0h3m4 0h3m-2 0h3m4 0h3m-1 0h3m-1 0h3m-2 0h3m4 0h3m3 0h3m-202 1h3m1 0h3m-2 0h3m-1 0h3m-2 0h3m-2 0h3m-1 0h3m47 0h3m57 0h3m25 0h3m-2 0h3m3 0h3m26 0h3m4 0h3m-195 1h3m0 0h3m-1 0h3m5 0h3m-1 0h3m1 0h3m99 0h3m27 0h3m-2 0h3m22 0h3m0 0h3m2 0h3m-191 1h3m0 0h3m-1 0h3m-1 0h3m-2 0h3m1 0h3m-1 0h3m-2 0h3m-2 0h3m1 0h3m129 0h3m37 0h3m-1 0h3m-196 1h3m5 0h3m5 0h3m0 0h3m83 0h3m25 0h3m-139 1h3m-2 0h3m9 0h3m0 0h3m-2 0h3m-1 0h3m-2 0h3m129 0h3m9 0h3m-167 1h3m-2 0h3m-1 0h3m-2 0h3m-1 0h3m1 0h3m-2 0h3m-2 0h3m-2 0h3m-2 0h3m-2 0h3m-1 0h3m-2 0h3m59 0h3m66 0h3m-151 1h3m-2 0h3m-1 0h3m-1 0h3m4 0h3m0 0h3m-2 0h3m-2 0h3m-2 0h3m-2 0h3m-2 0h3m-1 0h3m29 0h3m-55 1h3m-2 0h3m2 0h3m-2 0h3m-2 0h3m-1 0h3m-2 0h3m1 0h3m2 0h3m-27 1h3m-2 0h3m-1 0h3m9 0h3m0 0h3m-1 0h3m1 0h3m72 0h3m44 0h3m-149 1h3m1 0h3m6 0h3m1 0h3m1 0h3m27 0h3m-51 1h3m-2 0h3m-2 0h3m-1 0h3m4 0h3m81 0h3m-96 1h3m-2 0h3m55 0h3m68 0h3m3 0h3m-133 1h3m-2 0h3m32 0h3m10 0h3m35 0h3m-53 1h3m66 0h3m-118 1h3m90 0h3m-1 0h3m31 0h3m22 0h3m-84 1h3m25 1h3m32 0h3m-50 1h3m12 0h3m40 0h3m-86 1h3m33 0h3m3 0h3m3 0h3m-66 1h3m5 0h3m42 0h3m5 0h3m38 0h3m1 0h3m-99 1h3m30 1h3m1 0h3m37 0h3m13 0h3m-3 1h3m-111 1h3m57 0h3m-1 0h3m-7 1h3m28 0h3m11 0h3m-43 1h3m21 0h3m-83 1h3m66 0h3m12 0h3m66 0h3m-92 1h3m5 0h3m9 0h3m9 0h3m0 0h3m-4 1h3m43 0h3m5 0h3m6 0h3m-2 0h3m-130 1h3m109 0h3m2 0h3m-2 0h3m-1 0h3m0 0h3m0 0h3m1 0h3m0 0h3m-126 1h3m98 0h3m-2 0h3m-1 0h3m-1 0h3m-1 0h3m2 0h3m1 0h3m-2 0h3m0 0h3m-2 0h3m1 0h3m1 0h3m-180 1h3m28 0h3m1 0h3m31 0h3m71 0h3m1 0h3m-1 0h3m-1 0h3m-1 0h3m-2 0h3m-2 0h3m-1 0h3m-2 0h3m1 0h3m-1 0h3m0 0h3m-1 0h3m3 0h3m-2 0h3m-174 1h3m140 0h3m-2 0h3m-2 0h3m-2 0h3m1 0h3m-1 0h3m0 0h3m7 0h3m-2 0h3m-27 1h3m-1 0h3m-2 0h3m1 0h3m0 0h3m-2 0h3m7 0h3m-1 0h3m-2 0h3m-1 0h3m2 0h3m-156 1h3m1 0h3m9 0h3m27 0h3m70 0h3m0 0h3m-1 0h3m-1 0h3m-2 0h3m-1 0h3m-2 0h3m4 0h3m4 0h3m-2 0h3m-2 0h3m1 0h3m-1 0h3m-188 1h3m38 0h3m18 0h3m89 0h3m0 0h3m-2 0h3m-2 0h3m-2 0h3m-2 0h3m-1 0h3m-2 0h3m-1 0h3m0 0h3m1 0h3m-1 0h3m-2 0h3m0 0h3m-2 0h3m0 0h3m-2 0h3m-36 1h3m-2 0h3m-2 0h3m4 0h3m-2 0h3m0 0h3m-1 0h3m4 0h3m-2 0h3m-2 0h3m-1 0h3m-1 0h3m-1 0h3m-141 1h3m42 0h3m7 0h3m53 0h3m2 0h3m2 0h3m-2 0h3m6 0h3m-2 0h3m-2 0h3m-2 0h3m-2 0h3m-2 0h3m-2 0h3m-168 1h3m48 0h3m-2 0h3m9 0h3m72 0h3m-1 0h3m1 0h3m0 0h3m-2 0h3m6 0h3m-2 0h3m1 0h3m1 0h3m-31 1h3m-1 0h3m-2 0h3m0 0h3m-1 0h3m0 0h3m0 0h3m-2 0h3m3 0h3m1 0h3m-151 1h3m35 0h3m-2 0h3m-1 0h3m83 0h3m-2 0h3m-2 0h3m-2 0h3m3 0h3m1 0h3m-2 0h3m-2 0h3m-1 0h3m0 0h3m0 0h3m1 0h3m-117 1h3m7 0h3m32 0h3m37 0h3m-1 0h3m-1 0h3m0 0h3m2 0h3m-144 1h3m134 0h3m-188 2h3m49 0h3m32 0h3m4 0h3m-2 1h3m85 0h3m-77 1h3m6 0h3m-68 1h3m141 0h3m-143 1h3m-3 2h3m24 0h3m5 0h3m-66 1h3m160 0h3m-202 1h3m1 0h3m8 0h3m13 0h3m-30 1h3m46 0h3m9 0h3m59 0h3m-95 1h3m-22 1h3m1 0h3m38 0h3m1 0h3m30 0h3m-89 1h3m119 1h3m-94 1h3m30 1h3m-77 1h3m10 1h3m-19 2h3m0 0h3m90 0h3m10 0h3m-105 1h3m71 1h3m-81 1h3m66 0h3m50 0h3m0 0h3m0 0h3m-1 0h3m-149 1h3m12 0h3m12 0h3m39 0h3m54 0h3m-116 1h3m116 0h3m4 0h3m-5 1h3m-54 1h3m17 0h3m4 1h3m-116 1h3m70 0h3m5 0h3m-84 1h3m71 0h3m50 0h3m-70 1h3m48 0h3m5 0h3m-124 2h3m48 0h3m6 0h3m61 0h3m-67 2h3m66 0h3m-131 1h3m8 0h3m24 0h3m5 0h3m14 0h3m27 0h3m-47 1h3m-12 1h3m-28 1h3m1 1h3m2 0h3m2 0h3m71 0h3m-104 1h3m1 0h3m53 0h3m67 0h3m-69 1h3m56 0h3m-126 1h3m-2 0h3m18 0h3m19 0h3m49 0h3m12 0h3m-112 1h3m3 0h3m91 0h3m26 0h3m-121 1h3m39 0h3m14 0h3m43 0h3m-65 1h3m-3 1h3m77 0h3m-118 1h3m33 0h3m24 0h3m21 0h3m-103 1h3m11 0h3m65 0h3m-46 1h3m9 0h3m53 1h3m-54 1h3m44 0h3m-70 1h3m70 0h3m-34 1h3m-60 1h3m29 0h3m-21 1h3m3 0h3m-6 1h3m-2 0h3m13 0h3m-21 1h3m14 2h3"/>
<path transform="scale(.5)" fill="none" stroke="#4169e1" stroke-width="3" d="M196 701h3m-59 55h3m12 2h3m1 0h3m23 0h3m-27 1h3m1 1h3m-10 1h3m22 0h3m-27 1h3m20 0h3m-1 0h3m-26 3h3m18 1h3m36 8h3m-73 2h3m-2 0h3m-27 2h3m79 0h3m-82 1h3m4 0h3m2 0h3m50 0h3m-55 1h3m17 0h3m37 0h3m-86 1h3m23 0h3m-1 0h3m2 0h3m16 0h3m12 0h3m0 0h3m2 0h3m0 0h3m0 0h3m10 0h3m-1 0h3m-81 1h3m0 0h3m13 0h3m0 0h3m26 0h3m18 0h3m-37 1h3m1 0h3m-1 0h3m17 0h3m-1 0h3m1 0h3m3 0h3m0 0h3m-1 0h3m-89 1h3m1 0h3m-1 0h3m-1 0h3m24 0h3m5 0h3m21 0h3m14 0h3m-95 1h3m11 0h3m-2 0h3m26 0h3m9 0h3m13 0h3m-78 1h3m15 0h3m21 0h3m24 0h3m7 0h3m7 0h3m4 0h3m-90 1h3m5 0h3m4 0h3m30 0h3m-1 0h3m5 0h3m5 0h3m5 0h3m-81 1h3m10 0h3m14 0h3m-2 0h3m9 0h3m3 0h3m8 0h3m6 0h3m-1 0h3m25 0h3m-98 1h3m1 0h3m-2 0h3m2 0h3m2 0h3m32 0h3m46 0h3m-108 1h3m37 0h3m35 0h3m3 0h3m-91 1h3m10 0h3m-2 0h3m-1 0h3m-1 0h3m-2 0h3m33 0h3m4 0h3m20 0h3m14 0h3m-95 1h3m0 0h3m4 0h3m31 0h3m-2 0h3m-2 0h3m-2 0h3m16 0h3m25 0h3m-50 1h3m0 0h3m-1 0h3m29 0h3m-1 0h3m3 0h3m-1 0h3m-101 1h3m2 0h3m2 0h3m34 0h3m-1 0h3m10 0h3m1 0h3m18 0h3m10 0h3m4 0h3m-107 1h3m37 0h3m4 0h3m0 0h3m-2 0h3m-2 0h3m0 0h3m0 0h3m17 0h3m15 0h3m2 0h3m0 0h3m-2 0h3m0 0h3m-105 1h3m41 0h3m-2 0h3m5 0h3m2 0h3m4 0h3m15 0h3m3 0h3m3 0h3m2 0h3m-99 1h3m-1 0h3m6 0h3m3 0h3m12 0h3m2 0h3m-1 0h3m-2 0h3m5 0h3m-1 0h3m42 0h3m0 0h3m-103 1h3m0 0h3m-2 0h3m-1 0h3m14 0h3m0 0h3m12 0h3m3 0h3m1 0h3m-2 0h3m32 0h3m3 0h3m-111 1h3m4 0h3m19 0h3m14 0h3m7 0h3m6 0h3m-2 0h3m17 0h3m8 0h3m-2 0h3m1 0h3m-1 0h3m1 0h3m-2 0h3m2 0h3m-110 1h3m32 0h3m20 0h3m-1 0h3m4 0h3m-2 0h3m11 0h3m20 0h3m-87 1h3m20 0h3m1 0h3m-2 0h3m4 0h3m2 0h3m3 0h3m-1 0h3m3 0h3m-1 0h3m2 0h3m-2 0h3m4 0h3m12 0h3m-75 1h3m11 0h3m-1 0h3m1 0h3m1 0h3m-1 0h3m0 0h3m15 0h3m9 0h3m-2 0h3m2 0h3m-85 1h3m38 0h3m11 0h3m-2 0h3m-1 0h3m2 0h3m8 0h3m2 0h3m4 0h3m-88 1h3m55 0h3m2 0h3m19 0h3m-93 1h3m3 0h3m12 0h3m23 0h3m-2 0h3m6 0h3m4 0h3m20 0h3m3 0h3m-86 1h3m7 0h3m1 0h3m25 0h3m25 0h3m0 0h3m3 0h3m0 0h3m-82 1h3m3 0h3m21 0h3m2 0h3m12 0h3m14 0h3m1 0h3m-62 1h3m4 0h3m27 0h3m1 0h3m-2 0h3m-2 0h3m1 0h3m3 0h3m4 0h3m-107 1h3m12 0h3m1 0h3m3 0h3m13 0h3m2 0h3m-2 0h3m10 0h3m10 0h3m1 0h3m4 0h3m-1 0h3m-2 0h3m10 0h3m-2 0h3m8 0h3m-115 1h3m10 0h3m27 0h3m13 0h3m5 0h3m3 0h3m9 0h3m0 0h3m-2 0h3m10 0h3m1 0h3m-114 1h3m8 0h3m12 0h3m0 0h3m11 0h3m-2 0h3m4 0h3m32 0h3m1 0h3m16 0h3m-76 1h3m1 0h3m11 0h3m6 0h3m20 0h3m3 0h3m5 0h3m11 0h3m-116 1h3m2 0h3m8 0h3m6 0h3m10 0h3m4 0h3m0 0h3m1 0h3m34 0h3m26 0h3m-118 1h3m20 0h3m-1 0h3m12 0h3m0 0h3m36 0h3m0 0h3m26 0h3m-2 0h3m-117 1h3m18 0h3m44 0h3m2 0h3m37 0h3m3 0h3m-122 1h3m-1 0h3m0 0h3m-1 0h3m18 0h3m15 0h3m-2 0h3m15 0h3m46 0h3m-124 1h3m1 0h3m3 0h3m32 0h3m-2 0h3m4 0h3m3 0h3m1 0h3m-2 0h3m20 0h3m-1 0h3m-95 1h3m-1 0h3m-2 0h3m28 0h3m2 0h3m1 0h3m7 0h3m3 0h3m14 0h3m-2 0h3m15 0h3m6 0h3m2 0h3m5 0h3m4 0h3m-143 1h3m25 0h3m23 0h3m11 0h3m0 0h3m17 0h3m10 0h3m12 0h3m-1 0h3m21 0h3m-92 1h3m11 0h3m25 0h3m32 0h3m-1 0h3m5 0h3m-105 1h3m0 0h3m8 0h3m4 0h3m15 0h3m6 0h3m0 0h3m-2 0h3m47 0h3m-146 1h3m14 0h3m1 0h3m-2 0h3m1 0h3m19 0h3m-2 0h3m1 0h3m6 0h3m26 0h3m5 0h3m-1 0h3m0 0h3m-1 0h3m-96 1h3m8 0h3m28 0h3m6 0h3m18 0h3m0 0h3m1 0h3m0 0h3m-2 0h3m-1 0h3m29 0h3m-2 0h3m6 0h3m-143 1h3m-1 0h3m-2 0h3m1 0h3m31 0h3m12 0h3m-1 0h3m0 0h3m19 0h3m4 0h3m-1 0h3m10 0h3m5 0h3m0 0h3m21 0h3m1 0h3m-145 1h3m38 0h3m13 0h3m-1 0h3m-2 0h3m2 0h3m-2 0h3m21 0h3m4 0h3m39 0h3m-1 0h3m-1 0h3m-148 1h3m0 0h3m24 0h3m0 0h3m19 0h3m1 0h3m-2 0h3m-2 0h3m26 0h3m1 0h3m-1 0h3m-1 0h3m-2 0h3m12 0h3m4 0h3m7 0h3m3 0h3m-139 1h3m0 0h3m0 0h3m4 0h3m30 0h3m1 0h3m4 0h3m-1 0h3m18 0h3m11 0h3m1 0h3m-2 0h3m-2 0h3m-2 0h3m13 0h3m16 0h3m0 0h3m-138 1h3m53 0h3m-2 0h3m14 0h3m8 0h3m1 0h3m6 0h3m-1 0h3m-111 1h3m1 0h3m3 0h3m-2 0h3m19 0h3m26 0h3m-2 0h3m-2 0h3m2 0h3m1 0h3m21 0h3m-2 0h3m-1 0h3m-2 0h3m-1 0h3m10 0h3m18 0h3m-135 1h3m24 0h3m10 0h3m13 0h3m6 0h3m-2 0h3m13 0h3m6 0h3m10 0h3m-1 0h3m1 0h3m-116 1h3m5 0h3m0 0h3m6 0h3m7 0h3m11 0h3m6 0h3m-1 0h3m-1 0h3m-2 0h3m20 0h3m4 0h3m-2 0h3m35 0h3m-136 1h3m-2 0h3m7 0h3m-2 0h3m10 0h3m5 0h3m10 0h3m6 0h3m5 0h3m0 0h3m8 0h3m4 0h3m9 0h3m-1 0h3m-1 0h3m0 0h3m3 0h3m29 0h3m-2 0h3m-134 1h3m0 0h3m21 0h3m9 0h3m84 0h3m7 0h3m-144 1h3m0 0h3m1 0h3m-2 0h3m-2 0h3m-2 0h3m-1 0h3m0 0h3m8 0h3m3 0h3m-2 0h3m2 0h3m-2 0h3m-2 0h3m2 0h3m3 0h3m11 0h3m-2 0h3m-2 0h3m1 0h3m28 0h3m-98 1h3m7 0h3m17 0h3m-2 0h3m-1 0h3m6 0h3m-1 0h3m33 0h3m33 0h3m-138 1h3m14 0h3m2 0h3m0 0h3m-1 0h3m6 0h3m1 0h3m1 0h3m3 0h3m22 0h3m31 0h3m8 0h3m1 0h3m20 0h3m-141 1h3m6 0h3m1 0h3m-2 0h3m2 0h3m-1 0h3m37 0h3m12 0h3m1 0h3m12 0h3m29 0h3m-119 1h3m-2 0h3m3 0h3m10 0h3m4 0h3m-2 0h3m31 0h3m24 0h3m-2 0h3m-1 0h3m9 0h3m13 0h3m-130 1h3m2 0h3m-2 0h3m15 0h3m1 0h3m6 0h3m2 0h3m-2 0h3m1 0h3m-2 0h3m2 0h3m26 0h3m2 0h3m50 0h3m-141 1h3m-1 0h3m1 0h3m0 0h3m4 0h3m-1 0h3m4 0h3m6 0h3m2 0h3m13 0h3m2 0h3m39 0h3m27 0h3m-134 1h3m2 0h3m18 0h3m7 0h3m12 0h3m32 0h3m1 0h3m-1 0h3m27 0h3m-145 1h3m12 0h3m-1 0h3m-1 0h3m-2 0h3m6 0h3m-2 0h3m0 0h3m-2 0h3m5 0h3m1 0h3m1 0h3m4 0h3m23 0h3m14 0h3m9 0h3m5 0h3m26 0h3m-2 0h3m-150 1h3m-1 0h3m6 0h3m1 0h3m-2 0h3m9 0h3m-2 0h3m-2 0h3m-1 0h3m3 0h3m6 0h3m7 0h3m1 0h3m25 0h3m7 0h3m16 0h3m0 0h3m20 0h3m-2 0h3m-152 1h3m0 0h3m-2 0h3m10 0h3m1 0h3m-2 0h3m-2 0h3m3 0h3m12 0h3m-1 0h3m7 0h3m-1 0h3m35 0h3m1 0h3m-1 0h3m-1 0h3m1 0h3m0 0h3m33 0h3m-1 0h3m2 0h3m-153 1h3m5 0h3m8 0h3m-1 0h3m-2 0h3m3 0h3m12 0h3m2 0h3m0 0h3m3 0h3m4 0h3m38 0h3m28 0h3m3 0h3m0 0h3m-2 0h3m4 0h3m-136 1h3m0 0h3m27 0h3m3 0h3m6 0h3m36 0h3m29 0h3m-2 0h3m0 0h3m-1 0h3m-2 0h3m-143 1h3m3 0h3m-2 0h3m13 0h3m9 0h3m11 0h3m37 0h3m6 0h3m-1 0h3m-1 0h3m0 0h3m20 0h3m0 0h3m-2 0h3m-135 1h3m13 0h3m-2 0h3m-1 0h3m3 0h3m3 0h3m7 0h3m12 0h3m18 0h3m96 0h3m-181 1h3m7 0h3m5 0h3m2 0h3m2 0h3m-1 0h3m6 0h3m5 0h3m-1 0h3m12 0h3m25 0h3m0 0h3m9 0h3m-2 0h3m12 0h3m14 0h3m3 0h3m-154 1h3m28 0h3m14 0h3m-2 0h3m-2 0h3m16 0h3m7 0h3m12 0h3m-2 0h3m12 0h3m10 0h3m13 0h3m5 0h3m22 0h3m-152 1h3m8 0h3m4 0h3m7 0h3m7 0h3m45 0h3m13 0h3m12 0h3m2 0h3m-2 0h3m1 0h3m28 0h3m8 0h3m-197 1h3m5 0h3m20 0h3m-1 0h3m41 0h3m4 0h3m9 0h3m-2 0h3m6 0h3m13 0h3m-121 1h3m5 0h3m15 0h3m11 0h3m6 0h3m8 0h3m21 0h3m7 0h3m4 0h3m-2 0h3m2 0h3m0 0h3m0 0h3m0 0h3m0 0h3m-1 0h3m-106 1h3m3 0h3m2 0h3m8 0h3m11 0h3m3 0h3m36 0h3m2 0h3m10 0h3m0 0h3m4 0h3m51 0h3m1 0h3m0 0h3m-186 1h3m2 0h3m42 0h3m5 0h3m30 0h3m-1 0h3m10 0h3m62 0h3m3 0h3m-2 0h3m-2 0h3m-2 0h3m3 0h3m-184 1h3m0 0h3m11 0h3m15 0h3m9 0h3m-1 0h3m0 0h3m19 0h3m11 0h3m7 0h3m21 0h3m6 0h3m37 0h3m-1 0h3m1 0h3m-180 1h3m-2 0h3m2 0h3m3 0h3m5 0h3m-1 0h3m2 0h3m-1 0h3m16 0h3m-2 0h3m-2 0h3m35 0h3m2 0h3m6 0h3m-2 0h3m-2 0h3m-2 0h3m1 0h3m1 0h3m5 0h3m5 0h3m5 0h3m28 0h3m1 0h3m-2 0h3m-2 0h3m-2 0h3m-2 0h3m-2 0h3m-1 0h3m-1 0h3m-192 1h3m5 0h3m-2 0h3m9 0h3m29 0h3m6 0h3m-2 0h3m32 0h3m4 0h3m-2 0h3m2 0h3m0 0h3m-2 0h3m1 0h3m11 0h3m38 0h3m-2 0h3m-2 0h3m-2 0h3m0 0h3m-2 0h3m-1 0h3m-1 0h3m-2 0h3m-2 0h3m-179 1h3m0 0h3m29 0h3m4 0h3m0 0h3m-2 0h3m-2 0h3m-2 0h3m17 0h3m-1 0h3m16 0h3m16 0h3m5 0h3m-1 0h3m-1 0h3m4 0h3m35 0h3m3 0h3m0 0h3m2 0h3m-194 1h3m12 0h3m17 0h3m-2 0h3m-2 0h3m2 0h3m11 0h3m2 0h3m18 0h3m13 0h3m15 0h3m9 0h3m7 0h3m32 0h3m0 0h3m11 0h3m-188 1h3m11 0h3m7 0h3m7 0h3m14 0h3m7 0h3m1 0h3m13 0h3m1 0h3m7 0h3m1 0h3m9 0h3m3 0h3m4 0h3m42 0h3m-2 0h3m-2 0h3m-2 0h3m-2 0h3m2 0h3m-2 0h3m-2 0h3m-1 0h3m-2 0h3m-2 0h3m-2 0h3m-2 0h3m2 0h3m-187 1h3m2 0h3m13 0h3m4 0h3m15 0h3m0 0h3m6 0h3m-2 0h3m9 0h3m1 0h3m24 0h3m1 0h3m-1 0h3m1 0h3m-1 0h3m3 0h3m41 0h3m-2 0h3m0 0h3m2 0h3m-2 0h3m-1 0h3m-2 0h3m-2 0h3m-2 0h3m-161 1h3m16 0h3m-1 0h3m1 0h3m-1 0h3m43 0h3m5 0h3m20 0h3m34 0h3m-2 0h3m-2 0h3m-1 0h3m-2 0h3m-2 0h3m1 0h3m-1 0h3m-2 0h3m-2 0h3m-1 0h3m-191 1h3m4 0h3m11 0h3m-1 0h3m7 0h3m52 0h3m18 0h3m15 0h3m0 0h3m44 0h3m-2 0h3m-1 0h3m-1 0h3m0 0h3m-2 0h3m-2 0h3m-185 1h3m1 0h3m-2 0h3m4 0h3m36 0h3m26 0h3m6 0h3m1 0h3m-1 0h3m26 0h3m-1 0h3m40 0h3m-1 0h3m-1 0h3m0 0h3m-2 0h3m1 0h3m-189 1h3m2 0h3m1 0h3m-1 0h3m1 0h3m-2 0h3m10 0h3m-2 0h3m7 0h3m1 0h3m14 0h3m-2 0h3m20 0h3m4 0h3m6 0h3m13 0h3m3 0h3m-1 0h3m-2 0h3m4 0h3m42 0h3m-2 0h3m-1 0h3m-2 0h3m-2 0h3m-2 0h3m1 0h3m-186 1h3m-1 0h3m-1 0h3m0 0h3m15 0h3m25 0h3m16 0h3m35 0h3m10 0h3m37 0h3m7 0h3m5 0h3m-2 0h3m-174 1h3m1 0h3m39 0h3m2 0h3m14 0h3m19 0h3m12 0h3m-1 0h3m1 0h3m-2 0h3m-1 0h3m-2 0h3m-122 1h3m22 0h3m11 0h3m8 0h3m-1 0h3m-2 0h3m33 0h3m15 0h3m2 0h3m-2 0h3m-1 0h3m-2 0h3m-121 1h3m-1 0h3m6 0h3m10 0h3m16 0h3m-2 0h3m-1 0h3m0 0h3m0 0h3m9 0h3m6 0h3m4 0h3m25 0h3m6 0h3m-2 0h3m-121 1h3m4 0h3m3 0h3m0 0h3m-2 0h3m22 0h3m2 0h3m-2 0h3m26 0h3m8 0h3m8 0h3m5 0h3m6 0h3m9 0h3m-130 1h3m0 0h3m8 0h3m22 0h3m25 0h3m4 0h3m-1 0h3m2 0h3m-2 0h3m12 0h3m-2 0h3m2 0h3m10 0h3m-117 1h3m12 0h3m68 0h3m9 0h3m2 0h3m0 0h3m4 0h3m-2 0h3m-124 1h3m8 0h3m32 0h3m-2 0h3m7 0h3m3 0h3m6 0h3m-1 0h3m13 0h3m3 0h3m6 0h3m-2 0h3m3 0h3m-2 0h3m-2 0h3m0 0h3m-2 0h3m-2 0h3m-113 1h3m4 0h3m18 0h3m-1 0h3m6 0h3m0 0h3m-2 0h3m17 0h3m29 0h3m4 0h3m-2 0h3m7 0h3m-114 1h3m-1 0h3m-1 0h3m12 0h3m29 0h3m22 0h3m-2 0h3m6 0h3m7 0h3m5 0h3m-2 0h3m-2 0h3m-76 1h3m0 0h3m6 0h3m3 0h3m20 0h3m6 0h3m11 0h3m-2 0h3m-74 1h3m6 0h3m10 0h3m2 0h3m1 0h3m-2 0h3m3 0h3m31 0h3m-94 1h3m11 0h3m5 0h3m0 0h3m1 0h3m-2 0h3m-2 0h3m12 0h3m-33 1h3m-1 0h3m-1 0h3m0 0h3m15 0h3m1 0h3m32 0h3m-66 1h3m-1 0h3m0 0h3m-2 0h3m-1 0h3m11 0h3m7 0h3m18 0h3m3 0h3m-59 1h3m0 0h3m-1 0h3m11 0h3m34 0h3m17 0h3m-59 1h3m24 0h3m2 0h3m0 0h3m-2 0h3m-31 1h3m13 1h3"/>
<line x1="37.7" y1="447.0" x2="37.7" y2="524.2" stroke="#222" stroke-width="1"/>
<line x1="37.7" y1="524.2" x2="160.8" y2="524.2" stroke="#222" stroke-width="1"/>
<line x1="35.5" y1="520.5" x2="37.7" y2="520.5" stroke="#222" stroke-width="0.8"/>
<text x="33.8" y="520.5" font-size="7.5" text-anchor="middle" fill="#333" transform="rotate(-90 33.8 520.5)">0</text>
<line x1="35.5" y1="494.1" x2="37.7" y2="494.1" stroke="#222" stroke-width="0.8"/>
<text x="33.8" y="494.1" font-size="7.5" text-anchor="middle" fill="#333" transform="rotate(-90 33.8 494.1)">1000</text>
<line x1="35.5" y1="467.7" x2="37.7" y2="467.7" stroke="#222" stroke-width="0.8"/>
<text x="33.8" y="467.7" font-size="7.5" text-anchor="middle" fill="#333" transform="rotate(-90 33.8 467.7)">2000</text>
<text x="21.8" y="486.0" font-size="9.8" text-anchor="middle" transform="rotate(-90 21.8 486.0)">Cell counts</text>
<rect x="41.0" y="515.5" width="17.3" height="5.0" fill="#c8c8c8"/>
<rect x="41.0" y="451.1" width="17.3" height="64.4" fill="#1f6fcc"/>
<text x="49.6" y="533.3" font-size="7.3" text-anchor="middle" fill="#222">CC0</text>
<line x1="49.6" y1="524.2" x2="49.6" y2="526.0" stroke="#222" stroke-width="0.8"/>
<rect x="60.9" y="486.2" width="17.3" height="34.3" fill="#c8c8c8"/>
<rect x="60.9" y="483.0" width="17.3" height="3.2" fill="#1f6fcc"/>
<text x="69.5" y="533.3" font-size="7.3" text-anchor="middle" fill="#222">CC1</text>
<line x1="69.5" y1="524.2" x2="69.5" y2="526.0" stroke="#222" stroke-width="0.8"/>
<rect x="80.7" y="504.7" width="17.3" height="15.8" fill="#c8c8c8"/>
<rect x="80.7" y="504.7" width="17.3" height="0.0" fill="#1f6fcc"/>
<text x="89.4" y="533.3" font-size="7.3" text-anchor="middle" fill="#222">CC2</text>
<line x1="89.4" y1="524.2" x2="89.4" y2="526.0" stroke="#222" stroke-width="0.8"/>
<rect x="100.6" y="515.2" width="17.3" height="5.3" fill="#c8c8c8"/>
<rect x="100.6" y="515.2" width="17.3" height="0.0" fill="#1f6fcc"/>
<text x="109.2" y="533.3" font-size="7.3" text-anchor="middle" fill="#222">CC3</text>
<line x1="109.2" y1="524.2" x2="109.2" y2="526.0" stroke="#222" stroke-width="0.8"/>
<rect x="120.4" y="520.5" width="17.3" height="0.0" fill="#c8c8c8"/>
<rect x="120.4" y="516.8" width="17.3" height="3.7" fill="#1f6fcc"/>
<text x="129.1" y="533.3" font-size="7.3" text-anchor="middle" fill="#222">CC4</text>
<line x1="129.1" y1="524.2" x2="129.1" y2="526.0" stroke="#222" stroke-width="0.8"/>
<rect x="140.2" y="517.6" width="17.3" height="2.9" fill="#c8c8c8"/>
<rect x="140.2" y="517.3" width="17.3" height="0.3" fill="#a8c4e8"/>
<text x="148.9" y="533.3" font-size="7.3" text-anchor="middle" fill="#222">CC5</text>
<line x1="148.9" y1="524.2" x2="148.9" y2="526.0" stroke="#222" stroke-width="0.8"/>
<rect x="130.3" y="453.2" width="7.4" height="6.2" fill="#1f6fcc"/>
<text x="141.0" y="459.0" font-size="7.5" fill="#222">HPV+</text>
<rect x="130.3" y="462.0" width="7.4" height="6.2" fill="#c8c8c8"/>
<text x="141.0" y="467.8" font-size="7.5" fill="#222">HPV-</text>
<text x="190.4" y="336.4" font-size="16.5" font-weight="bold">e</text>
<text x="319.8" y="343.0" font-size="11.6" text-anchor="middle">TCGA-HNSCC</text>
<text x="253.0" y="357.2" font-size="10" text-anchor="middle">ALL</text>
<text x="314.7" y="357.2" font-size="10" text-anchor="middle">OP</text>
<text x="376.0" y="357.2" font-size="10" text-anchor="middle">OC</text>
<rect x="222.3" y="362.9" width="185.4" height="74.3" fill="none" stroke="#555" stroke-width="1"/>
<line x1="283.8" y1="362.9" x2="283.8" y2="437.2" stroke="#888" stroke-width="1.2"/>
<line x1="345.4" y1="362.9" x2="345.4" y2="437.2" stroke="#444" stroke-width="0.8"/>
<line x1="220.1" y1="433.8" x2="222.3" y2="433.8" stroke="#444" stroke-width="0.8"/>
<text x="219.3" y="436.9" font-size="8.6" text-anchor="end" fill="#444">0.0</text>
<line x1="220.1" y1="420.1" x2="222.3" y2="420.1" stroke="#444" stroke-width="0.8"/>
<text x="219.3" y="423.2" font-size="8.6" text-anchor="end" fill="#444">0.2</text>
<line x1="220.1" y1="406.4" x2="222.3" y2="406.4" stroke="#444" stroke-width="0.8"/>
<text x="219.3" y="409.5" font-size="8.6" text-anchor="end" fill="#444">0.4</text>
<line x1="220.1" y1="392.8" x2="222.3" y2="392.8" stroke="#444" stroke-width="0.8"/>
<text x="219.3" y="395.9" font-size="8.6" text-anchor="end" fill="#444">0.6</text>
<line x1="220.1" y1="379.1" x2="222.3" y2="379.1" stroke="#444" stroke-width="0.8"/>
<text x="219.3" y="382.2" font-size="8.6" text-anchor="end" fill="#444">0.8</text>
<line x1="220.1" y1="365.4" x2="222.3" y2="365.4" stroke="#444" stroke-width="0.8"/>
<text x="219.3" y="368.5" font-size="8.6" text-anchor="end" fill="#444">1.0</text>
<text x="201.5" y="400.0" font-size="8.6" text-anchor="middle" transform="rotate(-90 201.5 400.0)">Proportion (CC0)</text>
<line x1="238.9" y1="374.2" x2="238.9" y2="390.5" stroke="#444" stroke-width="0.7" stroke-dasharray="1.5,1"/>
<line x1="238.9" y1="416.0" x2="238.9" y2="428.3" stroke="#444" stroke-width="0.7" stroke-dasharray="1.5,1"/>
<line x1="233.4" y1="374.2" x2="244.4" y2="374.2" stroke="#333" stroke-width="0.9"/>
<line x1="233.4" y1="428.3" x2="244.4" y2="428.3" stroke="#333" stroke-width="0.9"/>
<rect x="227.4" y="390.5" width="23.1" height="25.5" fill="#1f6fcc" stroke="#333" stroke-width="0.7"/>
<line x1="227.4" y1="402.2" x2="250.5" y2="402.2" stroke="#111" stroke-width="1.6"/>
<path transform="scale(.5)" fill="none" stroke="#333" stroke-width="2" stroke-opacity="0.8" d="M473 753h2m0 12h2m-4 2h2m1 5h2m-2 5h2m-1 1h2m-1 4h2m-6 5h2m-2 1h2m-4 1h2m5 3h2m-2 1h2m-1 2h2m-9 3h2m-3 4h2m3 1h2m-5 2h2m6 0h2m-10 2h2m-1 3h2m0 0h2m-5 10h2m4 2h2m-1 1h2m-10 5h2m4 3h2m-2 9h2m-8 8h2m-1 0h2m4 1h2"/>
<line x1="267.5" y1="367.4" x2="267.5" y2="396.2" stroke="#444" stroke-width="0.7" stroke-dasharray="1.5,1"/>
<line x1="267.5" y1="417.7" x2="267.5" y2="433.8" stroke="#444" stroke-width="0.7" stroke-dasharray="1.5,1"/>
<line x1="262.0" y1="367.4" x2="273.0" y2="367.4" stroke="#333" stroke-width="0.9"/>
<line x1="262.0" y1="433.8" x2="273.0" y2="433.8" stroke="#333" stroke-width="0.9"/>
<rect x="256.0" y="396.2" width="23.0" height="21.5" fill="#c8c8c8" stroke="#333" stroke-width="0.7"/>
<line x1="256.0" y1="406.2" x2="279.0" y2="406.2" stroke="#111" stroke-width="1.6"/>
<path transform="scale(.5)" fill="none" stroke="#333" stroke-width="2" stroke-opacity="0.8" d="M532 747h2m-1 0h2m2 0h2m-8 5h2m6 0h2m-3 2h2m-5 1h2m-8 2h2m-1 7h2m6 0h2m-10 2h2m-1 2h2m2 0h2m-4 1h2m-1 0h2m0 0h2m-1 1h2m-6 1h2m-1 0h2m-5 2h2m0 0h2m4 0h2m-10 2h2m2 1h2m-6 1h2m-1 0h2m-1 0h2m-2 1h2m-5 1h2m1 1h2m0 0h2m-6 1h2m1 0h2m0 0h2m1 1h2m-7 1h2m0 0h2m-8 1h2m1 0h2m-1 0h2m1 0h2m-8 1h2m1 0h2m-1 1h2m0 1h2m-1 0h2m-10 1h2m1 0h2m-1 0h2m-6 1h2m3 0h2m1 0h2m-9 1h2m4 0h2m0 0h2m-11 1h2m3 0h2m1 0h2m-11 1h2m-1 1h2m-1 0h2m4 0h2m-1 0h2m-5 1h2m-7 1h2m1 0h2m-1 0h2m-1 0h2m1 1h2m-9 1h2m0 1h2m1 0h2m1 0h2m-12 1h2m2 0h2m-1 0h2m-6 1h2m1 0h2m4 0h2m-7 1h2m3 0h2m-9 1h2m5 0h2m-8 1h2m1 0h2m-1 0h2m-2 1h2m-8 1h2m-1 0h2m0 0h2m-1 0h2m-1 0h2m-1 0h2m-5 1h2m0 0h2m-1 0h2m-1 0h2m-1 0h2m-12 1h2m5 0h2m-7 1h2m2 0h2m1 0h2m-1 0h2m-12 1h2m5 0h2m0 0h2m-6 1h2m3 0h2m-9 1h2m1 0h2m-1 0h2m-1 0h2m-1 0h2m-1 0h2m-6 1h2m-1 0h2m0 0h2m-1 0h2m-11 1h2m1 0h2m0 0h2m0 0h2m-8 1h2m0 0h2m-5 2h2m0 0h2m-1 0h2m0 0h2m0 0h2m-1 0h2m-4 1h2m-1 0h2m-4 1h2m-6 1h2m-3 1h2m2 0h2m1 0h2m0 0h2m-9 1h2m1 0h2m0 0h2m-1 0h2m-10 1h2m-1 0h2m1 0h2m2 0h2m-10 1h2m2 0h2m-1 0h2m-1 0h2m0 0h2m-9 1h2m-1 0h2m0 1h2m-1 0h2m1 0h2m-11 1h2m1 0h2m3 0h2m-6 1h2m-1 0h2m2 0h2m-11 2h2m1 0h2m-1 0h2m-1 0h2m0 0h2m-7 1h2m-3 1h2m1 0h2m-1 0h2m-2 1h2m-1 0h2m-8 1h2m6 0h2m0 0h2m-10 2h2m0 0h2m-1 0h2m-1 0h2m-1 0h2m0 1h2m-9 1h2m0 0h2m0 0h2m0 0h2m-5 2h2m-1 0h2m0 0h2m-9 2h2m0 0h2m2 0h2m-8 1h2m0 0h2m1 0h2m-1 0h2m-1 0h2m-6 1h2m2 1h2m-8 1h2m0 0h2m4 0h2m-3 1h2m-8 1h2m5 0h2m-12 1h2m1 0h2m-4 1h2m3 1h2m-1 1h2m-9 1h2m5 0h2m-7 2h2m3 1h2m-3 1h2m-2 1h2m-8 3h2"/>
<line x1="300.6" y1="383.4" x2="300.6" y2="397.3" stroke="#444" stroke-width="0.7" stroke-dasharray="1.5,1"/>
<line x1="300.6" y1="417.5" x2="300.6" y2="428.3" stroke="#444" stroke-width="0.7" stroke-dasharray="1.5,1"/>
<line x1="295.1" y1="383.4" x2="306.1" y2="383.4" stroke="#333" stroke-width="0.9"/>
<line x1="295.1" y1="428.3" x2="306.1" y2="428.3" stroke="#333" stroke-width="0.9"/>
<rect x="289.2" y="397.3" width="22.9" height="20.2" fill="#1f6fcc" stroke="#333" stroke-width="0.7"/>
<line x1="289.2" y1="407.5" x2="312.1" y2="407.5" stroke="#111" stroke-width="1.6"/>
<path transform="scale(.5)" fill="none" stroke="#333" stroke-width="2" stroke-opacity="0.8" d="M599 779h2m-4 4h2m0 7h2m2 1h2m-9 1h2m6 10h2m-11 3h2m2 2h2m-2 7h2m-6 2h2m0 12h2m4 8h2m-7 1h2m1 8h2m-3 4h2"/>
<line x1="329.0" y1="395.6" x2="329.0" y2="410.0" stroke="#444" stroke-width="0.7" stroke-dasharray="1.5,1"/>
<line x1="329.0" y1="421.2" x2="329.0" y2="434.0" stroke="#444" stroke-width="0.7" stroke-dasharray="1.5,1"/>
<line x1="323.5" y1="395.6" x2="334.5" y2="395.6" stroke="#333" stroke-width="0.9"/>
<line x1="323.5" y1="434.0" x2="334.5" y2="434.0" stroke="#333" stroke-width="0.9"/>
<rect x="317.4" y="410.0" width="23.3" height="11.2" fill="#c8c8c8" stroke="#333" stroke-width="0.7"/>
<line x1="317.4" y1="414.0" x2="340.7" y2="414.0" stroke="#111" stroke-width="1.6"/>
<path transform="scale(.5)" fill="none" stroke="#333" stroke-width="2" stroke-opacity="0.8" d="M661 804h2m-9 5h2m-3 9h2m-1 0h2m0 2h2m2 0h2m-6 3h2m1 0h2m-1 1h2m-8 4h2m0 6h2m-4 2h2m6 2h2m-9 2h2m0 3h2m2 1h2m-9 1h2m-4 4h2m4 1h2m-5 2h2m2 1h2m-2 2h2m1 2h2m-7 5h2m1 2h2"/>
<line x1="362.6" y1="374.2" x2="362.6" y2="380.3" stroke="#444" stroke-width="0.7" stroke-dasharray="1.5,1"/>
<line x1="362.6" y1="409.3" x2="362.6" y2="425.2" stroke="#444" stroke-width="0.7" stroke-dasharray="1.5,1"/>
<line x1="357.1" y1="374.2" x2="368.1" y2="374.2" stroke="#333" stroke-width="0.9"/>
<line x1="357.1" y1="425.2" x2="368.1" y2="425.2" stroke="#333" stroke-width="0.9"/>
<rect x="351.1" y="380.3" width="22.9" height="29.0" fill="#1f6fcc" stroke="#333" stroke-width="0.7"/>
<line x1="351.1" y1="393.2" x2="374.0" y2="393.2" stroke="#111" stroke-width="1.6"/>
<path transform="scale(.5)" fill="none" stroke="#333" stroke-width="2" stroke-opacity="0.8" d="M726 778h2m-1 2h2m-4 1h2m-1 3h2m-5 1h2m4 0h2m-8 4h2m1 4h2m-7 4h2m-1 3h2m0 1h2m0 2h2m-4 1h2m-2 3h2m0 1h2m-8 1h2m3 1h2m-3 7h2m3 1h2m-4 12h2"/>
<line x1="391.1" y1="367.4" x2="391.1" y2="395.2" stroke="#444" stroke-width="0.7" stroke-dasharray="1.5,1"/>
<line x1="391.1" y1="415.0" x2="391.1" y2="434.0" stroke="#444" stroke-width="0.7" stroke-dasharray="1.5,1"/>
<line x1="385.6" y1="367.4" x2="396.6" y2="367.4" stroke="#333" stroke-width="0.9"/>
<line x1="385.6" y1="434.0" x2="396.6" y2="434.0" stroke="#333" stroke-width="0.9"/>
<rect x="379.5" y="395.2" width="23.1" height="19.8" fill="#c8c8c8" stroke="#333" stroke-width="0.7"/>
<line x1="379.5" y1="403.4" x2="402.6" y2="403.4" stroke="#111" stroke-width="1.6"/>
<path transform="scale(.5)" fill="none" stroke="#333" stroke-width="2" stroke-opacity="0.8" d="M783 742h2m-3 1h2m-1 1h2m-4 1h2m-1 0h2m-6 1h2m4 1h2m-9 5h2m2 1h2m3 3h2m-3 1h2m-9 1h2m-3 1h2m2 1h2m-4 2h2m3 0h2m-9 1h2m0 0h2m-3 1h2m2 2h2m1 0h2m-1 0h2m-10 1h2m1 0h2m-5 1h2m1 0h2m0 0h2m-8 1h2m6 1h2m-7 1h2m1 0h2m-6 1h2m0 0h2m-5 1h2m1 0h2m2 0h2m-8 1h2m0 0h2m-1 0h2m1 0h2m-2 2h2m-6 1h2m-1 0h2m-5 2h2m-3 1h2m3 0h2m-1 0h2m-9 1h2m0 0h2m-2 1h2m0 0h2m0 1h2m-7 1h2m-1 0h2m-1 0h2m3 0h2m-5 3h2m-1 0h2m-9 1h2m1 0h2m4 0h2m-8 1h2m2 0h2m-7 1h2m5 0h2m-5 1h2m2 0h2m-3 1h2m-10 1h2m6 0h2m-8 1h2m2 0h2m0 1h2m-6 1h2m-5 1h2m-3 1h2m-1 0h2m3 0h2m-1 0h2m-1 0h2m-2 1h2m-5 1h2m1 0h2m-6 1h2m1 0h2m-1 0h2m-9 1h2m-1 0h2m-1 0h2m-1 0h2m1 0h2m-9 1h2m1 0h2m2 0h2m-10 1h2m1 0h2m1 1h2m-1 0h2m-8 1h2m0 0h2m2 0h2m-1 0h2m-1 0h2m-1 0h2m-10 1h2m-1 0h2m1 0h2m0 0h2m-9 1h2m-2 1h2m-1 0h2m0 0h2m-2 1h2m1 0h2m-1 0h2m-7 1h2m4 0h2m-7 1h2m2 0h2m-1 0h2m-10 1h2m0 0h2m1 0h2m-1 0h2m0 0h2m-1 0h2m-12 1h2m-1 0h2m-1 0h2m4 0h2m-1 0h2m-10 1h2m3 0h2m-1 0h2m-7 1h2m0 0h2m0 0h2m2 0h2m-9 1h2m-1 0h2m2 0h2m-7 1h2m0 0h2m2 0h2m-10 1h2m2 1h2m-4 1h2m-1 0h2m2 0h2m-8 1h2m1 0h2m-1 0h2m0 0h2m-5 1h2m-5 1h2m3 0h2m-8 1h2m5 0h2m-3 1h2m-7 1h2m5 0h2m-7 1h2m-1 1h2m-7 1h2m7 0h2m-1 0h2m-4 1h2m-1 0h2m-10 1h2m4 0h2m-1 0h2m-2 1h2m-5 1h2m0 1h2m0 0h2m-10 1h2m-1 0h2m3 0h2m-7 1h2m4 0h2m-9 1h2m4 1h2m-1 0h2m-9 1h2m0 0h2m-4 1h2m1 0h2m1 0h2m-1 1h2m-7 1h2m-3 2h2m-2 1h2m1 0h2m2 0h2m-6 1h2m-1 0h2m-3 2h2m-5 7h2m0 2h2m-3 1h2m-3 3h2"/>
<rect x="222.3" y="446.0" width="185.4" height="73.9" fill="none" stroke="#555" stroke-width="1"/>
<line x1="283.8" y1="446.0" x2="283.8" y2="519.9" stroke="#888" stroke-width="1.2"/>
<line x1="345.4" y1="446.0" x2="345.4" y2="519.9" stroke="#444" stroke-width="0.8"/>
<line x1="220.1" y1="517.5" x2="222.3" y2="517.5" stroke="#444" stroke-width="0.8"/>
<text x="219.3" y="520.6" font-size="8.6" text-anchor="end" fill="#444">0.0</text>
<line x1="220.1" y1="503.8" x2="222.3" y2="503.8" stroke="#444" stroke-width="0.8"/>
<text x="219.3" y="506.9" font-size="8.6" text-anchor="end" fill="#444">0.2</text>
<line x1="220.1" y1="490.0" x2="222.3" y2="490.0" stroke="#444" stroke-width="0.8"/>
<text x="219.3" y="493.1" font-size="8.6" text-anchor="end" fill="#444">0.4</text>
<line x1="220.1" y1="476.3" x2="222.3" y2="476.3" stroke="#444" stroke-width="0.8"/>
<text x="219.3" y="479.4" font-size="8.6" text-anchor="end" fill="#444">0.6</text>
<line x1="220.1" y1="462.5" x2="222.3" y2="462.5" stroke="#444" stroke-width="0.8"/>
<text x="219.3" y="465.6" font-size="8.6" text-anchor="end" fill="#444">0.8</text>
<line x1="220.1" y1="448.8" x2="222.3" y2="448.8" stroke="#444" stroke-width="0.8"/>
<text x="219.3" y="451.9" font-size="8.6" text-anchor="end" fill="#444">1.0</text>
<text x="201.5" y="482.9" font-size="8.6" text-anchor="middle" transform="rotate(-90 201.5 482.9)">Proportion (CC1)</text>
<line x1="238.9" y1="484.8" x2="238.9" y2="504.6" stroke="#444" stroke-width="0.7" stroke-dasharray="1.5,1"/>
<line x1="238.9" y1="517.5" x2="238.9" y2="517.5" stroke="#444" stroke-width="0.7" stroke-dasharray="1.5,1"/>
<line x1="233.4" y1="484.8" x2="244.4" y2="484.8" stroke="#333" stroke-width="0.9"/>
<line x1="233.4" y1="517.5" x2="244.4" y2="517.5" stroke="#333" stroke-width="0.9"/>
<rect x="227.4" y="504.6" width="23.1" height="12.9" fill="#1f6fcc" stroke="#333" stroke-width="0.7"/>
<line x1="227.4" y1="513.4" x2="250.5" y2="513.4" stroke="#111" stroke-width="1.6"/>
<path transform="scale(.5)" fill="none" stroke="#333" stroke-width="2" stroke-opacity="0.8" d="M479 987h2m-2 1h2m-2 6h2m-5 1h2m-3 1h2m4 3h2m-7 2h2m0 1h2m1 2h2m-9 1h2m5 2h2m-4 1h2m-6 1h2m4 1h2m-8 2h2m-1 0h2m-5 1h2m6 1h2m-8 3h2m-4 1h2m2 2h2m0 0h2m-5 1h2m3 1h2m-10 1h2m3 0h2m-4 2h2m0 0h2"/>
<line x1="267.5" y1="455.5" x2="267.5" y2="481.1" stroke="#444" stroke-width="0.7" stroke-dasharray="1.5,1"/>
<line x1="267.5" y1="508.3" x2="267.5" y2="517.5" stroke="#444" stroke-width="0.7" stroke-dasharray="1.5,1"/>
<line x1="262.0" y1="455.5" x2="273.0" y2="455.5" stroke="#333" stroke-width="0.9"/>
<line x1="262.0" y1="517.5" x2="273.0" y2="517.5" stroke="#333" stroke-width="0.9"/>
<rect x="256.0" y="481.1" width="23.0" height="27.2" fill="#c8c8c8" stroke="#333" stroke-width="0.7"/>
<line x1="256.0" y1="494.0" x2="279.0" y2="494.0" stroke="#111" stroke-width="1.6"/>
<path transform="scale(.5)" fill="none" stroke="#333" stroke-width="2" stroke-opacity="0.8" d="M539 917h2m-4 1h2m-3 1h2m-6 1h2m5 0h2m-7 4h2m-2 2h2m2 0h2m-11 3h2m2 0h2m-4 1h2m4 0h2m-1 1h2m-9 1h2m6 0h2m-10 1h2m0 0h2m0 0h2m-1 1h2m-1 0h2m-7 2h2m-1 0h2m3 0h2m-7 1h2m-1 1h2m-4 1h2m1 0h2m1 0h2m-11 1h2m0 0h2m-1 0h2m-3 1h2m-1 0h2m-1 0h2m2 1h2m-9 1h2m4 0h2m-4 1h2m-1 0h2m-1 1h2m-3 1h2m0 0h2m-1 0h2m-2 2h2m-10 1h2m-2 1h2m5 0h2m-7 1h2m2 0h2m-3 1h2m-7 3h2m4 0h2m-9 1h2m6 0h2m-4 2h2m-8 2h2m2 0h2m2 1h2m0 0h2m-6 1h2m-3 1h2m-4 1h2m1 0h2m1 0h2m-5 1h2m0 0h2m-9 2h2m2 0h2m1 0h2m-1 0h2m-9 1h2m3 0h2m-7 1h2m2 0h2m0 0h2m-10 1h2m3 0h2m2 0h2m-11 1h2m0 0h2m1 0h2m-6 1h2m0 0h2m-1 0h2m-1 0h2m-1 0h2m-7 1h2m2 0h2m2 0h2m-1 0h2m-9 1h2m0 0h2m1 0h2m-7 1h2m5 0h2m-7 1h2m-1 0h2m-7 1h2m-1 0h2m5 0h2m-9 1h2m-1 0h2m3 0h2m-10 1h2m0 0h2m-1 0h2m-1 0h2m-4 1h2m-1 0h2m0 0h2m-5 1h2m-1 0h2m0 0h2m-1 0h2m-1 0h2m-1 0h2m-9 1h2m2 0h2m0 0h2m0 0h2m-7 1h2m-1 0h2m1 0h2m-7 2h2m-1 0h2m-1 0h2m1 0h2m-7 2h2m-1 0h2m-1 0h2m-6 1h2m6 0h2m-10 1h2m-1 0h2m-1 0h2m0 0h2m-1 0h2m1 0h2m-1 0h2m-10 1h2m0 0h2m1 0h2m1 0h2m-11 1h2m3 0h2m-8 1h2m-1 0h2m0 0h2m0 0h2m1 0h2m-1 0h2m-5 1h2m-1 0h2m-8 1h2m1 0h2m1 0h2m-6 1h2m0 0h2m-4 1h2m-1 0h2m2 0h2m-9 1h2m-1 0h2m1 0h2m-1 0h2m-1 0h2m-7 1h2m-1 0h2m-1 0h2m-1 0h2m-1 0h2m0 0h2m-5 1h2m-3 1h2m-1 0h2m-1 0h2m-5 1h2m3 0h2m-3 1h2m1 0h2m-8 1h2m-5 1h2m-1 0h2m1 0h2m-1 0h2m2 1h2m-6 1h2m-8 2h2m-1 0h2m-1 0h2m2 2h2m0 0h2m0 0h2m-11 1h2m1 0h2m2 0h2m-1 0h2m-1 0h2m-10 1h2m-3 1h2m6 0h2m-9 1h2m1 0h2m0 1h2m-6 2h2m-2 1h2m-1 1h2m2 0h2m-9 1h2m2 0h2m2 0h2m-7 2h2m2 0h2m-5 1h2m-1 1h2m0 0h2m-2 1h2m-3 2h2m-6 2h2m-3 1h2"/>
<line x1="300.6" y1="503.2" x2="300.6" y2="509.3" stroke="#444" stroke-width="0.7" stroke-dasharray="1.5,1"/>
<line x1="300.6" y1="517.5" x2="300.6" y2="517.5" stroke="#444" stroke-width="0.7" stroke-dasharray="1.5,1"/>
<line x1="295.1" y1="503.2" x2="306.1" y2="503.2" stroke="#333" stroke-width="0.9"/>
<line x1="295.1" y1="517.5" x2="306.1" y2="517.5" stroke="#333" stroke-width="0.9"/>
<rect x="289.2" y="509.3" width="22.9" height="8.2" fill="#1f6fcc" stroke="#333" stroke-width="0.7"/>
<line x1="289.2" y1="517.3" x2="312.1" y2="517.3" stroke="#111" stroke-width="1.6"/>
<path transform="scale(.5)" fill="none" stroke="#333" stroke-width="2" stroke-opacity="0.8" d="M603 1012h2m-3 2h2m-3 1h2m-2 3h2m-1 3h2m0 1h2m-10 1h2m2 1h2m-2 1h2m-1 1h2m-5 1h2m0 1h2m-5 2h2m-1 0h2"/>
<line x1="329.0" y1="469.2" x2="329.0" y2="471.3" stroke="#444" stroke-width="0.7" stroke-dasharray="1.5,1"/>
<line x1="329.0" y1="489.5" x2="329.0" y2="504.2" stroke="#444" stroke-width="0.7" stroke-dasharray="1.5,1"/>
<line x1="323.5" y1="469.2" x2="334.5" y2="469.2" stroke="#333" stroke-width="0.9"/>
<line x1="323.5" y1="504.2" x2="334.5" y2="504.2" stroke="#333" stroke-width="0.9"/>
<rect x="317.4" y="471.3" width="23.3" height="18.2" fill="#c8c8c8" stroke="#333" stroke-width="0.7"/>
<line x1="317.4" y1="478.4" x2="340.7" y2="478.4" stroke="#111" stroke-width="1.6"/>
<path transform="scale(.5)" fill="none" stroke="#333" stroke-width="2" stroke-opacity="0.8" d="M655 943h2m1 6h2m-6 1h2m5 5h2m-9 1h2m-2 1h2m3 0h2m0 1h2m-2 2h2m-9 1h2m0 1h2m2 1h2m-1 0h2m-4 1h2m-8 3h2m1 5h2m-2 1h2m-2 1h2m2 0h2m-9 1h2m3 1h2m2 4h2m-5 4h2m-8 15h2m1 1h2"/>
<line x1="362.6" y1="471.9" x2="362.6" y2="494.4" stroke="#444" stroke-width="0.7" stroke-dasharray="1.5,1"/>
<line x1="362.6" y1="517.5" x2="362.6" y2="517.5" stroke="#444" stroke-width="0.7" stroke-dasharray="1.5,1"/>
<line x1="357.1" y1="471.9" x2="368.1" y2="471.9" stroke="#333" stroke-width="0.9"/>
<line x1="357.1" y1="517.5" x2="368.1" y2="517.5" stroke="#333" stroke-width="0.9"/>
<rect x="351.1" y="494.4" width="22.9" height="23.1" fill="#1f6fcc" stroke="#333" stroke-width="0.7"/>
<line x1="351.1" y1="504.4" x2="374.0" y2="504.4" stroke="#111" stroke-width="1.6"/>
<path transform="scale(.5)" fill="none" stroke="#333" stroke-width="2" stroke-opacity="0.8" d="M722 950h2m-4 23h2m1 3h2m3 1h2m-4 2h2m-2 3h2m-8 5h2m3 0h2m-4 4h2m2 1h2m-9 1h2m-2 4h2m-2 5h2m2 3h2m-6 9h2m-2 2h2m5 6h2m-4 2h2m-5 4h2"/>
<line x1="391.1" y1="455.3" x2="391.1" y2="480.0" stroke="#444" stroke-width="0.7" stroke-dasharray="1.5,1"/>
<line x1="391.1" y1="505.6" x2="391.1" y2="517.5" stroke="#444" stroke-width="0.7" stroke-dasharray="1.5,1"/>
<line x1="385.6" y1="455.3" x2="396.6" y2="455.3" stroke="#333" stroke-width="0.9"/>
<line x1="385.6" y1="517.5" x2="396.6" y2="517.5" stroke="#333" stroke-width="0.9"/>
<rect x="379.5" y="480.0" width="23.1" height="25.6" fill="#c8c8c8" stroke="#333" stroke-width="0.7"/>
<line x1="379.5" y1="490.7" x2="402.6" y2="490.7" stroke="#111" stroke-width="1.6"/>
<path transform="scale(.5)" fill="none" stroke="#333" stroke-width="2" stroke-opacity="0.8" d="M779 924h2m-2 3h2m3 2h2m0 0h2m-6 3h2m-7 2h2m2 3h2m-2 1h2m0 0h2m-5 2h2m-1 2h2m0 0h2m-7 1h2m2 0h2m2 0h2m-9 1h2m5 1h2m-10 1h2m-2 1h2m0 0h2m-1 0h2m2 0h2m-5 1h2m-6 2h2m-2 1h2m4 0h2m0 1h2m-9 1h2m2 0h2m-5 1h2m0 0h2m1 0h2m-10 1h2m-1 0h2m1 0h2m0 0h2m-6 1h2m2 0h2m-5 1h2m-6 1h2m2 0h2m1 0h2m-1 0h2m-8 1h2m-1 0h2m1 0h2m-7 1h2m4 0h2m-1 0h2m-9 1h2m0 0h2m-3 1h2m5 0h2m-1 0h2m-8 1h2m-1 0h2m-5 1h2m-1 0h2m-4 1h2m1 0h2m-1 0h2m0 0h2m-7 1h2m2 0h2m2 0h2m-10 1h2m0 0h2m0 0h2m2 0h2m-7 1h2m-1 0h2m-2 1h2m1 0h2m-3 1h2m-10 1h2m0 0h2m3 0h2m-8 1h2m1 0h2m0 0h2m-4 1h2m-1 0h2m1 0h2m-8 1h2m1 0h2m-7 1h2m-1 0h2m7 0h2m-11 1h2m3 0h2m0 0h2m-9 1h2m2 0h2m-6 1h2m-3 1h2m0 0h2m1 0h2m1 0h2m-9 1h2m5 0h2m-1 0h2m-8 1h2m1 0h2m-1 0h2m-1 0h2m-1 0h2m-1 1h2m-11 1h2m2 0h2m-6 1h2m2 0h2m-1 0h2m-1 0h2m-2 1h2m-1 0h2m-1 0h2m-7 1h2m-1 0h2m1 0h2m-9 1h2m-1 0h2m-1 0h2m-1 0h2m-1 0h2m-5 1h2m0 0h2m-1 0h2m-1 0h2m-6 1h2m-1 0h2m0 0h2m1 0h2m-8 1h2m0 0h2m3 0h2m-7 1h2m3 0h2m-9 1h2m0 0h2m2 0h2m0 0h2m-7 1h2m3 0h2m-11 1h2m0 0h2m0 0h2m2 0h2m-10 1h2m-1 0h2m2 0h2m2 1h2m-7 1h2m-1 0h2m-8 2h2m0 0h2m-1 0h2m5 0h2m-7 1h2m-1 0h2m-6 1h2m0 0h2m1 0h2m-1 0h2m-6 1h2m3 0h2m-9 1h2m-2 1h2m-2 1h2m0 1h2m-1 0h2m-4 1h2m-5 1h2m3 0h2m1 0h2m-7 1h2m2 0h2m-8 1h2m4 1h2m-9 1h2m7 1h2m-1 1h2m-4 1h2m-7 1h2m5 1h2m-9 1h2m4 1h2m-8 1h2m2 0h2m-5 2h2m3 3h2m-1 0h2m-10 2h2m4 0h2m-6 2h2m2 3h2"/>
<text x="238.7" y="533.2" font-size="8.6" text-anchor="middle">HPV+</text>
<line x1="238.7" y1="519.9" x2="238.7" y2="522.0" stroke="#444" stroke-width="0.8"/>
<text x="267.7" y="533.2" font-size="8.6" text-anchor="middle">HPV-</text>
<line x1="267.7" y1="519.9" x2="267.7" y2="522.0" stroke="#444" stroke-width="0.8"/>
<text x="300.4" y="533.2" font-size="8.6" text-anchor="middle">HPV+</text>
<line x1="300.4" y1="519.9" x2="300.4" y2="522.0" stroke="#444" stroke-width="0.8"/>
<text x="329.0" y="533.2" font-size="8.6" text-anchor="middle">HPV-</text>
<line x1="329.0" y1="519.9" x2="329.0" y2="522.0" stroke="#444" stroke-width="0.8"/>
<text x="362.2" y="533.2" font-size="8.6" text-anchor="middle">HPV+</text>
<line x1="362.2" y1="519.9" x2="362.2" y2="522.0" stroke="#444" stroke-width="0.8"/>
<text x="390.8" y="533.2" font-size="8.6" text-anchor="middle">HPV-</text>
<line x1="390.8" y1="519.9" x2="390.8" y2="522.0" stroke="#444" stroke-width="0.8"/>
<text x="432.3" y="336.3" font-size="16" font-weight="bold">f</text>
<line x1="467.0" y1="348.0" x2="467.0" y2="516.0" stroke="#222" stroke-width="1"/>
<line x1="467.0" y1="516.0" x2="598.3" y2="516.0" stroke="#222" stroke-width="1"/>
<text x="462.5" y="370.1" font-size="8.7" text-anchor="end">Hypoxia</text>
<line x1="465.0" y1="367.0" x2="467.0" y2="367.0" stroke="#222" stroke-width="0.8"/>
<text x="462.5" y="402.8" font-size="8.7" text-anchor="end">Stress</text>
<line x1="465.0" y1="399.7" x2="467.0" y2="399.7" stroke="#222" stroke-width="0.8"/>
<text x="462.5" y="435.5" font-size="8.7" text-anchor="end">Epi.dif</text>
<line x1="465.0" y1="432.4" x2="467.0" y2="432.4" stroke="#222" stroke-width="0.8"/>
<text x="462.5" y="467.5" font-size="8.7" text-anchor="end">p-EMT</text>
<line x1="465.0" y1="464.4" x2="467.0" y2="464.4" stroke="#222" stroke-width="0.8"/>
<text x="462.5" y="499.8" font-size="8.7" text-anchor="end">Cell.Cycle</text>
<line x1="465.0" y1="496.7" x2="467.0" y2="496.7" stroke="#222" stroke-width="0.8"/>
<text x="480.0" y="528.5" font-size="7" text-anchor="middle" fill="#222">CC0</text>
<line x1="480.0" y1="516.0" x2="480.0" y2="518.0" stroke="#222" stroke-width="0.8"/>
<text x="500.9" y="528.5" font-size="7" text-anchor="middle" fill="#222">CC1</text>
<line x1="500.9" y1="516.0" x2="500.9" y2="518.0" stroke="#222" stroke-width="0.8"/>
<text x="522.2" y="528.5" font-size="7" text-anchor="middle" fill="#222">CC2</text>
<line x1="522.2" y1="516.0" x2="522.2" y2="518.0" stroke="#222" stroke-width="0.8"/>
<text x="543.1" y="528.5" font-size="7" text-anchor="middle" fill="#222">CC3</text>
<line x1="543.1" y1="516.0" x2="543.1" y2="518.0" stroke="#222" stroke-width="0.8"/>
<text x="564.8" y="528.5" font-size="7" text-anchor="middle" fill="#222">CC4</text>
<line x1="564.8" y1="516.0" x2="564.8" y2="518.0" stroke="#222" stroke-width="0.8"/>
<text x="585.7" y="528.5" font-size="7" text-anchor="middle" fill="#222">CC5</text>
<line x1="585.7" y1="516.0" x2="585.7" y2="518.0" stroke="#222" stroke-width="0.8"/>
<circle cx="480.0" cy="367.0" r="9.0" fill="#b82222"/>
<circle cx="500.9" cy="367.0" r="6.3" fill="#c6c6c6"/>
<circle cx="522.2" cy="367.0" r="7.9" fill="#c6c6c6"/>
<circle cx="543.1" cy="367.0" r="7.9" fill="#c6c6c6"/>
<circle cx="564.8" cy="367.0" r="7.5" fill="#c6c6c6"/>
<circle cx="585.7" cy="367.0" r="8.3" fill="#c6c6c6"/>
<circle cx="480.0" cy="399.7" r="7.0" fill="#c9aaaa"/>
<circle cx="500.9" cy="399.7" r="4.0" fill="#c6c6c6"/>
<circle cx="522.2" cy="399.7" r="6.0" fill="#c9aeae"/>
<circle cx="543.1" cy="399.7" r="8.3" fill="#be3a32"/>
<circle cx="564.8" cy="399.7" r="5.0" fill="#c6c6c6"/>
<circle cx="585.7" cy="399.7" r="6.5" fill="#c6c6c6"/>
<circle cx="480.0" cy="432.4" r="9.0" fill="#bf3e36"/>
<circle cx="500.9" cy="432.4" r="7.5" fill="#c6c6c6"/>
<circle cx="522.2" cy="432.4" r="9.0" fill="#c6c6c6"/>
<circle cx="543.1" cy="432.4" r="8.0" fill="#c6c6c6"/>
<circle cx="564.8" cy="432.4" r="9.0" fill="#c8a0a0"/>
<circle cx="585.7" cy="432.4" r="8.5" fill="#c6c6c6"/>
<circle cx="480.0" cy="464.4" r="3.2" fill="#c6c6c6"/>
<circle cx="500.9" cy="464.4" r="7.5" fill="#bb3530"/>
<circle cx="522.2" cy="464.4" r="4.0" fill="#c6c6c6"/>
<circle cx="543.1" cy="464.4" r="7.0" fill="#c6a19d"/>
<circle cx="564.8" cy="464.4" r="0.7" fill="#c6c6c6"/>
<circle cx="585.7" cy="464.4" r="2.0" fill="#c6c6c6"/>
<circle cx="480.0" cy="496.7" r="6.5" fill="#c8aca8"/>
<circle cx="500.9" cy="496.7" r="4.0" fill="#c6c6c6"/>
<circle cx="522.2" cy="496.7" r="3.5" fill="#c6c6c6"/>
<circle cx="543.1" cy="496.7" r="0.7" fill="#c6c6c6"/>
<circle cx="564.8" cy="496.7" r="8.5" fill="#c8a09c"/>
<circle cx="585.7" cy="496.7" r="6.5" fill="#c24538"/>
<text x="607.0" y="397.7" font-size="8.7">Percent Expressed</text>
<circle cx="610.8" cy="403.2" r="1.0" fill="#111"/>
<text x="617.5" y="406.3" font-size="8.9">25</text>
<circle cx="610.8" cy="412.2" r="2.0" fill="#111"/>
<text x="617.5" y="415.3" font-size="8.9">50</text>
<circle cx="610.8" cy="421.3" r="3.4" fill="#111"/>
<text x="617.5" y="424.4" font-size="8.9">75</text>
<text x="607.0" y="436.0" font-size="8.7">Average Expression</text>
<defs><linearGradient id="fg" x1="0" y1="0" x2="0" y2="1"><stop offset="0" stop-color="#b22222"/><stop offset="1" stop-color="#d3d3d3"/></linearGradient></defs>
<rect x="607.0" y="441.9" width="5.9" height="28.4" fill="url(#fg)"/>
<text x="615.3" y="443.7" font-size="8.7" fill="#222">2.0</text>
<line x1="607.0" y1="440.6" x2="608.5" y2="440.6" stroke="#fff" stroke-width="0.6"/>
<line x1="611.4" y1="440.6" x2="612.9" y2="440.6" stroke="#fff" stroke-width="0.6"/>
<text x="615.3" y="451.1" font-size="8.7" fill="#222">1.5</text>
<line x1="607.0" y1="448.0" x2="608.5" y2="448.0" stroke="#fff" stroke-width="0.6"/>
<line x1="611.4" y1="448.0" x2="612.9" y2="448.0" stroke="#fff" stroke-width="0.6"/>
<text x="615.3" y="458.0" font-size="8.7" fill="#222">1.0</text>
<line x1="607.0" y1="454.9" x2="608.5" y2="454.9" stroke="#fff" stroke-width="0.6"/>
<line x1="611.4" y1="454.9" x2="612.9" y2="454.9" stroke="#fff" stroke-width="0.6"/>
<text x="615.3" y="464.9" font-size="8.7" fill="#222">0.5</text>
<line x1="607.0" y1="461.8" x2="608.5" y2="461.8" stroke="#fff" stroke-width="0.6"/>
<line x1="611.4" y1="461.8" x2="612.9" y2="461.8" stroke="#fff" stroke-width="0.6"/>
<text x="615.3" y="471.9" font-size="8.7" fill="#222">0.0</text>
<line x1="607.0" y1="468.8" x2="608.5" y2="468.8" stroke="#fff" stroke-width="0.6"/>
<line x1="611.4" y1="468.8" x2="612.9" y2="468.8" stroke="#fff" stroke-width="0.6"/>
<text x="-0.3" y="561.6" font-size="17.5" font-weight="bold">g</text>
<text x="107.8" y="574.2" font-size="10.3" text-anchor="middle">Hazard ratio (OS)</text>
<rect x="0.0" y="584.8" width="215.1" height="23.3" fill="#d0d0d0"/>
<rect x="0.0" y="631.8" width="215.1" height="23.3" fill="#d0d0d0"/>
<rect x="0.0" y="678.8" width="215.1" height="23.3" fill="#d0d0d0"/>
<line x1="97.3" y1="579.0" x2="97.3" y2="702.1" stroke="#e2e2e2" stroke-width="0.6"/>
<line x1="97.3" y1="584.8" x2="97.3" y2="608.1" stroke="#c4c4c4" stroke-width="0.6"/>
<line x1="97.3" y1="631.8" x2="97.3" y2="655.1" stroke="#c4c4c4" stroke-width="0.6"/>
<line x1="97.3" y1="678.8" x2="97.3" y2="702.1" stroke="#c4c4c4" stroke-width="0.6"/>
<line x1="122.1" y1="579.0" x2="122.1" y2="702.1" stroke="#e2e2e2" stroke-width="0.6"/>
<line x1="122.1" y1="584.8" x2="122.1" y2="608.1" stroke="#c4c4c4" stroke-width="0.6"/>
<line x1="122.1" y1="631.8" x2="122.1" y2="655.1" stroke="#c4c4c4" stroke-width="0.6"/>
<line x1="122.1" y1="678.8" x2="122.1" y2="702.1" stroke="#c4c4c4" stroke-width="0.6"/>
<line x1="157.2" y1="579.0" x2="157.2" y2="702.1" stroke="#e2e2e2" stroke-width="0.6"/>
<line x1="157.2" y1="584.8" x2="157.2" y2="608.1" stroke="#c4c4c4" stroke-width="0.6"/>
<line x1="157.2" y1="631.8" x2="157.2" y2="655.1" stroke="#c4c4c4" stroke-width="0.6"/>
<line x1="157.2" y1="678.8" x2="157.2" y2="702.1" stroke="#c4c4c4" stroke-width="0.6"/>
<line x1="170.5" y1="579.0" x2="170.5" y2="702.1" stroke="#e2e2e2" stroke-width="0.6"/>
<line x1="170.5" y1="584.8" x2="170.5" y2="608.1" stroke="#c4c4c4" stroke-width="0.6"/>
<line x1="170.5" y1="631.8" x2="170.5" y2="655.1" stroke="#c4c4c4" stroke-width="0.6"/>
<line x1="170.5" y1="678.8" x2="170.5" y2="702.1" stroke="#c4c4c4" stroke-width="0.6"/>
<line x1="182.0" y1="579.0" x2="182.0" y2="702.1" stroke="#e2e2e2" stroke-width="0.6"/>
<line x1="182.0" y1="584.8" x2="182.0" y2="608.1" stroke="#c4c4c4" stroke-width="0.6"/>
<line x1="182.0" y1="631.8" x2="182.0" y2="655.1" stroke="#c4c4c4" stroke-width="0.6"/>
<line x1="182.0" y1="678.8" x2="182.0" y2="702.1" stroke="#c4c4c4" stroke-width="0.6"/>
<line x1="192.2" y1="579.0" x2="192.2" y2="702.1" stroke="#e2e2e2" stroke-width="0.6"/>
<line x1="192.2" y1="584.8" x2="192.2" y2="608.1" stroke="#c4c4c4" stroke-width="0.6"/>
<line x1="192.2" y1="631.8" x2="192.2" y2="655.1" stroke="#c4c4c4" stroke-width="0.6"/>
<line x1="192.2" y1="678.8" x2="192.2" y2="702.1" stroke="#c4c4c4" stroke-width="0.6"/>
<line x1="141.4" y1="579" x2="141.4" y2="707" stroke="#555" stroke-width="0.7" stroke-dasharray="1,1.2"/>
<text x="4.5" y="598.4" font-size="9.4">CC0</text>
<text x="44.0" y="594.2" font-size="7.3" text-anchor="middle">high</text>
<text x="44.0" y="603.8" font-size="7.3" text-anchor="middle">(N=150)</text>
<text x="77.7" y="594.2" font-size="7.3" text-anchor="middle">0.81</text>
<text x="78.2" y="603.8" font-size="7.3" text-anchor="middle">(0.60 - 1.1)</text>
<line x1="97.3" y1="596.4" x2="149.6" y2="596.4" stroke="#111" stroke-width="0.8"/>
<line x1="97.3" y1="594.2" x2="97.3" y2="598.6" stroke="#111" stroke-width="0.7"/>
<line x1="149.6" y1="594.2" x2="149.6" y2="598.6" stroke="#111" stroke-width="0.7"/>
<rect x="120.6" y="593.8" width="5.2" height="5.2" fill="#000"/>
<text x="195.3" y="597.1" font-size="5.4" fill="#222">0.187</text>
<text x="4.5" y="621.9" font-size="9.4">CC1</text>
<text x="44.0" y="617.7" font-size="7.3" text-anchor="middle">high</text>
<text x="44.0" y="627.3" font-size="7.3" text-anchor="middle">(N=150)</text>
<text x="77.7" y="617.7" font-size="7.3" text-anchor="middle">1.38</text>
<text x="78.2" y="627.3" font-size="7.3" text-anchor="middle">(1.05 - 1.8)</text>
<line x1="145.6" y1="619.9" x2="192.2" y2="619.9" stroke="#111" stroke-width="0.8"/>
<line x1="145.6" y1="617.7" x2="145.6" y2="622.1" stroke="#111" stroke-width="0.7"/>
<line x1="192.2" y1="617.7" x2="192.2" y2="622.1" stroke="#111" stroke-width="0.7"/>
<rect x="166.6" y="617.3" width="5.2" height="5.2" fill="#000"/>
<text x="195.3" y="620.6" font-size="5.4" fill="#222">0.022 *</text>
<text x="4.5" y="645.4" font-size="9.4">CC3</text>
<text x="44.0" y="641.2" font-size="7.3" text-anchor="middle">high</text>
<text x="44.0" y="650.8" font-size="7.3" text-anchor="middle">(N=150)</text>
<text x="77.7" y="641.2" font-size="7.3" text-anchor="middle">1.03</text>
<text x="78.2" y="650.8" font-size="7.3" text-anchor="middle">(0.77 - 1.4)</text>
<line x1="118.8" y1="643.4" x2="170.5" y2="643.4" stroke="#111" stroke-width="0.8"/>
<line x1="118.8" y1="641.2" x2="118.8" y2="645.6" stroke="#111" stroke-width="0.7"/>
<line x1="170.5" y1="641.2" x2="170.5" y2="645.6" stroke="#111" stroke-width="0.7"/>
<rect x="141.4" y="640.8" width="5.2" height="5.2" fill="#000"/>
<text x="195.3" y="644.1" font-size="5.4" fill="#222">0.852</text>
<text x="4.5" y="668.9" font-size="9.4">CC4</text>
<text x="44.0" y="664.7" font-size="7.3" text-anchor="middle">high</text>
<text x="44.0" y="674.3" font-size="7.3" text-anchor="middle">(N=150)</text>
<text x="77.7" y="664.7" font-size="7.3" text-anchor="middle">0.79</text>
<text x="78.2" y="674.3" font-size="7.3" text-anchor="middle">(0.59 - 1.1)</text>
<line x1="95.8" y1="666.9" x2="149.6" y2="666.9" stroke="#111" stroke-width="0.8"/>
<line x1="95.8" y1="664.7" x2="95.8" y2="669.1" stroke="#111" stroke-width="0.7"/>
<line x1="149.6" y1="664.7" x2="149.6" y2="669.1" stroke="#111" stroke-width="0.7"/>
<rect x="118.4" y="664.3" width="5.2" height="5.2" fill="#000"/>
<text x="195.3" y="667.6" font-size="5.4" fill="#222">0.132</text>
<text x="4.5" y="692.4" font-size="9.4">CC5</text>
<text x="44.0" y="688.2" font-size="7.3" text-anchor="middle">high</text>
<text x="44.0" y="697.8" font-size="7.3" text-anchor="middle">(N=150)</text>
<text x="77.7" y="688.2" font-size="7.3" text-anchor="middle">0.90</text>
<text x="78.2" y="697.8" font-size="7.3" text-anchor="middle">(0.68 - 1.2)</text>
<line x1="108.1" y1="690.4" x2="157.2" y2="690.4" stroke="#111" stroke-width="0.8"/>
<line x1="108.1" y1="688.2" x2="108.1" y2="692.6" stroke="#111" stroke-width="0.7"/>
<line x1="157.2" y1="688.2" x2="157.2" y2="692.6" stroke="#111" stroke-width="0.7"/>
<rect x="129.7" y="687.8" width="5.2" height="5.2" fill="#000"/>
<text x="195.3" y="691.1" font-size="5.4" fill="#222">0.491</text>
<text x="97.3" y="718.0" font-size="7.3" text-anchor="middle" fill="#222">0.6</text>
<text x="122.1" y="718.0" font-size="7.3" text-anchor="middle" fill="#222">0.8</text>
<text x="141.4" y="718.0" font-size="7.3" text-anchor="middle" fill="#222">1</text>
<text x="157.2" y="718.0" font-size="7.3" text-anchor="middle" fill="#222">1.2</text>
<text x="170.5" y="718.0" font-size="7.3" text-anchor="middle" fill="#222">1.4</text>
<text x="182.0" y="718.0" font-size="7.3" text-anchor="middle" fill="#222">1.6</text>
<text x="192.2" y="718.0" font-size="7.3" text-anchor="middle" fill="#222">1.8</text>
<text x="327.4" y="574.2" font-size="10.3" text-anchor="middle">Hazard ratio (RFS)</text>
<rect x="220.0" y="584.8" width="214.2" height="23.3" fill="#d0d0d0"/>
<rect x="220.0" y="631.8" width="214.2" height="23.3" fill="#d0d0d0"/>
<rect x="220.0" y="678.8" width="214.2" height="23.3" fill="#d0d0d0"/>
<line x1="325.3" y1="579.0" x2="325.3" y2="702.1" stroke="#e2e2e2" stroke-width="0.6"/>
<line x1="325.3" y1="584.8" x2="325.3" y2="608.1" stroke="#c4c4c4" stroke-width="0.6"/>
<line x1="325.3" y1="631.8" x2="325.3" y2="655.1" stroke="#c4c4c4" stroke-width="0.6"/>
<line x1="325.3" y1="678.8" x2="325.3" y2="702.1" stroke="#c4c4c4" stroke-width="0.6"/>
<line x1="388.1" y1="579.0" x2="388.1" y2="702.1" stroke="#e2e2e2" stroke-width="0.6"/>
<line x1="388.1" y1="584.8" x2="388.1" y2="608.1" stroke="#c4c4c4" stroke-width="0.6"/>
<line x1="388.1" y1="631.8" x2="388.1" y2="655.1" stroke="#c4c4c4" stroke-width="0.6"/>
<line x1="388.1" y1="678.8" x2="388.1" y2="702.1" stroke="#c4c4c4" stroke-width="0.6"/>
<line x1="404.5" y1="579.0" x2="404.5" y2="702.1" stroke="#e2e2e2" stroke-width="0.6"/>
<line x1="404.5" y1="584.8" x2="404.5" y2="608.1" stroke="#c4c4c4" stroke-width="0.6"/>
<line x1="404.5" y1="631.8" x2="404.5" y2="655.1" stroke="#c4c4c4" stroke-width="0.6"/>
<line x1="404.5" y1="678.8" x2="404.5" y2="702.1" stroke="#c4c4c4" stroke-width="0.6"/>
<line x1="417.2" y1="579.0" x2="417.2" y2="702.1" stroke="#e2e2e2" stroke-width="0.6"/>
<line x1="417.2" y1="584.8" x2="417.2" y2="608.1" stroke="#c4c4c4" stroke-width="0.6"/>
<line x1="417.2" y1="631.8" x2="417.2" y2="655.1" stroke="#c4c4c4" stroke-width="0.6"/>
<line x1="417.2" y1="678.8" x2="417.2" y2="702.1" stroke="#c4c4c4" stroke-width="0.6"/>
<line x1="364.9" y1="579" x2="364.9" y2="707" stroke="#555" stroke-width="0.7" stroke-dasharray="1,1.2"/>
<text x="224.5" y="598.4" font-size="9.4">CC0</text>
<text x="264.0" y="594.2" font-size="7.3" text-anchor="middle">high</text>
<text x="264.0" y="603.8" font-size="7.3" text-anchor="middle">(N=150)</text>
<text x="297.7" y="594.2" font-size="7.3" text-anchor="middle">0.66</text>
<text x="298.2" y="603.8" font-size="7.3" text-anchor="middle">(0.42 - 1.0)</text>
<line x1="315.4" y1="596.4" x2="364.9" y2="596.4" stroke="#111" stroke-width="0.8"/>
<line x1="315.4" y1="594.2" x2="315.4" y2="598.6" stroke="#111" stroke-width="0.7"/>
<line x1="364.9" y1="594.2" x2="364.9" y2="598.6" stroke="#111" stroke-width="0.7"/>
<rect x="338.6" y="593.8" width="5.2" height="5.2" fill="#000"/>
<text x="418.9" y="597.1" font-size="5.4" fill="#222">0.059</text>
<text x="224.5" y="621.9" font-size="9.4">CC1</text>
<text x="264.0" y="617.7" font-size="7.3" text-anchor="middle">high</text>
<text x="264.0" y="627.3" font-size="7.3" text-anchor="middle">(N=150)</text>
<text x="297.7" y="617.7" font-size="7.3" text-anchor="middle">1.69</text>
<text x="298.2" y="627.3" font-size="7.3" text-anchor="middle">(1.16 - 2.5)</text>
<line x1="373.4" y1="619.9" x2="417.2" y2="619.9" stroke="#111" stroke-width="0.8"/>
<line x1="373.4" y1="617.7" x2="373.4" y2="622.1" stroke="#111" stroke-width="0.7"/>
<line x1="417.2" y1="617.7" x2="417.2" y2="622.1" stroke="#111" stroke-width="0.7"/>
<rect x="392.3" y="617.3" width="5.2" height="5.2" fill="#000"/>
<text x="418.9" y="620.6" font-size="5.4" fill="#222">0.006 **</text>
<text x="224.5" y="645.4" font-size="9.4">CC3</text>
<text x="264.0" y="641.2" font-size="7.3" text-anchor="middle">high</text>
<text x="264.0" y="650.8" font-size="7.3" text-anchor="middle">(N=150)</text>
<text x="297.7" y="641.2" font-size="7.3" text-anchor="middle">0.82</text>
<text x="298.2" y="650.8" font-size="7.3" text-anchor="middle">(0.54 - 1.3)</text>
<line x1="329.7" y1="643.4" x2="379.9" y2="643.4" stroke="#111" stroke-width="0.8"/>
<line x1="329.7" y1="641.2" x2="329.7" y2="645.6" stroke="#111" stroke-width="0.7"/>
<line x1="379.9" y1="641.2" x2="379.9" y2="645.6" stroke="#111" stroke-width="0.7"/>
<rect x="351.0" y="640.8" width="5.2" height="5.2" fill="#000"/>
<text x="418.9" y="644.1" font-size="5.4" fill="#222">0.369</text>
<text x="224.5" y="668.9" font-size="9.4">CC4</text>
<text x="264.0" y="664.7" font-size="7.3" text-anchor="middle">high</text>
<text x="264.0" y="674.3" font-size="7.3" text-anchor="middle">(N=150)</text>
<text x="297.7" y="664.7" font-size="7.3" text-anchor="middle">0.94</text>
<text x="298.2" y="674.3" font-size="7.3" text-anchor="middle">(0.63 - 1.4)</text>
<line x1="338.5" y1="666.9" x2="384.1" y2="666.9" stroke="#111" stroke-width="0.8"/>
<line x1="338.5" y1="664.7" x2="338.5" y2="669.1" stroke="#111" stroke-width="0.7"/>
<line x1="384.1" y1="664.7" x2="384.1" y2="669.1" stroke="#111" stroke-width="0.7"/>
<rect x="358.8" y="664.3" width="5.2" height="5.2" fill="#000"/>
<text x="418.9" y="667.6" font-size="5.4" fill="#222">0.743</text>
<text x="224.5" y="692.4" font-size="9.4">CC5</text>
<text x="264.0" y="688.2" font-size="7.3" text-anchor="middle">high</text>
<text x="264.0" y="697.8" font-size="7.3" text-anchor="middle">(N=150)</text>
<text x="297.7" y="688.2" font-size="7.3" text-anchor="middle">0.77</text>
<text x="298.2" y="697.8" font-size="7.3" text-anchor="middle">(0.51 - 1.2)</text>
<line x1="326.5" y1="690.4" x2="375.3" y2="690.4" stroke="#111" stroke-width="0.8"/>
<line x1="326.5" y1="688.2" x2="326.5" y2="692.6" stroke="#111" stroke-width="0.7"/>
<line x1="375.3" y1="688.2" x2="375.3" y2="692.6" stroke="#111" stroke-width="0.7"/>
<rect x="347.4" y="687.8" width="5.2" height="5.2" fill="#000"/>
<text x="418.9" y="691.1" font-size="5.4" fill="#222">0.227</text>
<text x="325.3" y="718.0" font-size="7.3" text-anchor="middle" fill="#222">0.5</text>
<text x="364.9" y="718.0" font-size="7.3" text-anchor="middle" fill="#222">1</text>
<text x="388.1" y="718.0" font-size="7.3" text-anchor="middle" fill="#222">1.5</text>
<text x="404.5" y="718.0" font-size="7.3" text-anchor="middle" fill="#222">2</text>
<text x="417.2" y="718.0" font-size="7.3" text-anchor="middle" fill="#222">2.5</text>
<text x="115.7" y="737.9" font-size="10" text-anchor="middle">TCGA-HNSCC</text>
<text x="278.6" y="738.0" font-size="10" text-anchor="middle">GSE41613</text>
<text x="383.0" y="738.0" font-size="10" text-anchor="middle">GSE42743</text>
<rect x="31.7" y="746.0" width="74.4" height="72.7" fill="none" stroke="#333" stroke-width="1"/>
<line x1="30.1" y1="816.9" x2="31.7" y2="816.9" stroke="#333" stroke-width="0.8"/>
<text x="27.7" y="819.5" font-size="7.3" text-anchor="end" fill="#222">0.0</text>
<line x1="30.1" y1="803.2" x2="31.7" y2="803.2" stroke="#333" stroke-width="0.8"/>
<text x="27.7" y="805.8" font-size="7.3" text-anchor="end" fill="#222">0.2</text>
<line x1="30.1" y1="789.4" x2="31.7" y2="789.4" stroke="#333" stroke-width="0.8"/>
<text x="27.7" y="792.0" font-size="7.3" text-anchor="end" fill="#222">0.4</text>
<line x1="30.1" y1="775.7" x2="31.7" y2="775.7" stroke="#333" stroke-width="0.8"/>
<text x="27.7" y="778.3" font-size="7.3" text-anchor="end" fill="#222">0.6</text>
<line x1="30.1" y1="761.9" x2="31.7" y2="761.9" stroke="#333" stroke-width="0.8"/>
<text x="27.7" y="764.5" font-size="7.3" text-anchor="end" fill="#222">0.8</text>
<line x1="30.1" y1="748.2" x2="31.7" y2="748.2" stroke="#333" stroke-width="0.8"/>
<text x="27.7" y="750.8" font-size="7.3" text-anchor="end" fill="#222">1.0</text>
<line x1="33.0" y1="818.7" x2="33.0" y2="820.3" stroke="#333" stroke-width="0.8"/>
<text x="33.0" y="830.0" font-size="7.6" text-anchor="middle" fill="#222">0</text>
<line x1="44.6" y1="818.7" x2="44.6" y2="820.3" stroke="#333" stroke-width="0.8"/>
<text x="44.6" y="830.0" font-size="7.6" text-anchor="middle" fill="#222">10</text>
<line x1="56.2" y1="818.7" x2="56.2" y2="820.3" stroke="#333" stroke-width="0.8"/>
<text x="56.2" y="830.0" font-size="7.6" text-anchor="middle" fill="#222">20</text>
<line x1="67.8" y1="818.7" x2="67.8" y2="820.3" stroke="#333" stroke-width="0.8"/>
<text x="67.8" y="830.0" font-size="7.6" text-anchor="middle" fill="#222">30</text>
<line x1="79.3" y1="818.7" x2="79.3" y2="820.3" stroke="#333" stroke-width="0.8"/>
<text x="79.3" y="830.0" font-size="7.6" text-anchor="middle" fill="#222">40</text>
<line x1="90.9" y1="818.7" x2="90.9" y2="820.3" stroke="#333" stroke-width="0.8"/>
<text x="90.9" y="830.0" font-size="7.6" text-anchor="middle" fill="#222">50</text>
<line x1="102.5" y1="818.7" x2="102.5" y2="820.3" stroke="#333" stroke-width="0.8"/>
<text x="102.5" y="830.0" font-size="7.6" text-anchor="middle" fill="#222">60</text>
<text x="68.9" y="840.5" font-size="8.7" text-anchor="middle">OS (months)</text>
<text x="15.2" y="782.4" font-size="8.6" text-anchor="middle" transform="rotate(-90 15.2 782.4)">Probability</text>
<text x="35.2" y="809.0" font-size="5.6" fill="#333">HR=1.38</text>
<text x="35.2" y="815.4" font-size="5.6" fill="#333">P=0.02</text>
<path d="M33.0 748.2 L36.5 749.9 L41.5 753.1 L47.1 757.7 L52.8 763.9 L58.5 766.8 L64.2 768.5 L70.0 770.8 L75.6 773.6 L81.3 775.9 L86.9 777.6 L92.7 779.3 L98.3 781.6 L102.3 785.0 L102.8 787.4" fill="none" stroke="#5aaaf0" stroke-width="1.9" stroke-linejoin="round"/>
<path d="M44.4 753.9v3.2M92.2 777.6v3.2M53.4 762.6v3.2M82.4 774.6v3.2M54.3 763.1v3.2M88.8 776.6v3.2M78.4 773.1v3.2M38.3 749.5v3.2M100.0 781.5v3.2M92.1 777.5v3.2M61.9 766.2v3.2M70.9 769.7v3.2M83.7 775.0v3.2M85.4 775.6v3.2M92.0 777.5v3.2M100.7 782.0v3.2M98.2 779.9v3.2M51.3 760.6v3.2M35.5 747.8v3.2M53.4 762.6v3.2M48.8 757.9v3.2M86.6 775.9v3.2M87.1 776.1v3.2M101.3 782.6v3.2M93.0 777.9v3.2M87.5 776.2v3.2M102.2 783.4v3.2M85.1 775.5v3.2M60.4 765.8v3.2M88.8 776.6v3.2M90.6 777.1v3.2M55.6 763.7v3.2M51.1 760.4v3.2M46.9 755.9v3.2M39.1 750.0v3.2M84.3 775.2v3.2M102.7 785.0v3.2M89.4 776.8v3.2M74.1 771.2v3.2M96.6 779.3v3.2M61.8 766.2v3.2M59.8 765.6v3.2M34.7 747.4v3.2M45.9 755.1v3.2M80.7 774.0v3.2M62.9 766.5v3.2M100.7 782.0v3.2M34.9 747.5v3.2M93.9 778.2v3.2M90.0 776.9v3.2M77.0 772.6v3.2M76.7 772.5v3.2M78.1 773.0v3.2M38.9 749.8v3.2M61.1 766.0v3.2M100.2 781.6v3.2M68.9 768.8v3.2M41.9 751.8v3.2M64.9 767.2v3.2M39.8 750.4v3.2M80.6 774.0v3.2M57.5 764.7v3.2M101.5 782.8v3.2M98.2 779.9v3.2M72.3 770.4v3.2M43.8 753.4v3.2M68.4 768.6v3.2M87.7 776.2v3.2M42.3 752.2v3.2M52.1 761.6v3.2" stroke="#5aaaf0" stroke-width="0.8"/>
<path d="M33.0 748.2 L36.5 749.9 L41.5 752.5 L45.9 758.8 L49.4 764.5 L52.8 770.2 L56.2 774.8 L59.6 779.3 L62.0 781.6 L67.6 782.2 L73.3 783.9 L77.8 785.0 L84.7 785.6 L91.5 786.1 L98.3 786.7 L102.3 787.8 L102.8 797.7" fill="none" stroke="#eb9a14" stroke-width="1.9" stroke-linejoin="round"/>
<path d="M60.4 778.5v3.2M89.6 784.4v3.2M46.6 758.3v3.2M53.4 769.4v3.2M91.8 784.5v3.2M53.1 769.1v3.2M83.8 783.9v3.2M39.1 749.7v3.2M67.5 780.6v3.2M42.5 752.4v3.2M71.6 781.8v3.2M46.1 757.6v3.2M41.8 751.5v3.2M97.0 785.0v3.2M83.9 783.9v3.2M69.7 781.2v3.2M38.0 749.1v3.2M67.3 780.6v3.2M34.2 747.2v3.2M90.4 784.4v3.2M68.4 780.8v3.2M43.3 753.5v3.2M64.6 780.3v3.2M92.1 784.6v3.2M97.6 785.0v3.2M68.8 781.0v3.2M78.2 783.5v3.2M59.9 778.0v3.2M84.6 784.0v3.2M64.4 780.3v3.2M96.2 784.9v3.2M77.3 783.3v3.2M43.2 753.4v3.2M60.8 778.8v3.2M93.5 784.7v3.2M44.3 754.9v3.2M75.0 782.7v3.2M79.3 783.5v3.2M46.5 758.3v3.2M61.5 779.5v3.2M46.5 758.2v3.2M37.1 748.6v3.2M66.0 780.4v3.2M34.9 747.5v3.2M45.3 756.4v3.2M69.5 781.2v3.2M70.1 781.4v3.2M55.5 772.3v3.2M53.6 769.7v3.2M61.9 779.9v3.2M97.7 785.0v3.2M101.9 786.1v3.2M41.1 750.7v3.2M82.3 783.8v3.2M97.4 785.0v3.2M92.8 784.6v3.2M84.9 784.0v3.2M87.0 784.2v3.2M56.9 774.1v3.2M55.0 771.6v3.2M41.2 750.8v3.2M61.7 779.7v3.2M102.1 786.1v3.2M94.7 784.8v3.2M36.3 748.2v3.2M50.7 765.1v3.2M40.4 750.4v3.2M71.1 781.7v3.2M47.1 759.2v3.2M49.9 763.7v3.2" stroke="#eb9a14" stroke-width="0.8"/>
<text x="73.1" y="770.5" font-size="7.2" fill="#222">CC1-low</text>
<text x="62.4" y="796.4" font-size="7.2" fill="#222">CC1-high</text>
<rect x="135.9" y="745.9" width="73.6" height="73.1" fill="none" stroke="#333" stroke-width="1"/>
<line x1="134.3" y1="817.2" x2="135.9" y2="817.2" stroke="#333" stroke-width="0.8"/>
<text x="131.9" y="819.8" font-size="7.3" text-anchor="end" fill="#222">0.0</text>
<line x1="134.3" y1="803.4" x2="135.9" y2="803.4" stroke="#333" stroke-width="0.8"/>
<text x="131.9" y="806.0" font-size="7.3" text-anchor="end" fill="#222">0.2</text>
<line x1="134.3" y1="789.5" x2="135.9" y2="789.5" stroke="#333" stroke-width="0.8"/>
<text x="131.9" y="792.1" font-size="7.3" text-anchor="end" fill="#222">0.4</text>
<line x1="134.3" y1="775.7" x2="135.9" y2="775.7" stroke="#333" stroke-width="0.8"/>
<text x="131.9" y="778.3" font-size="7.3" text-anchor="end" fill="#222">0.6</text>
<line x1="134.3" y1="761.8" x2="135.9" y2="761.8" stroke="#333" stroke-width="0.8"/>
<text x="131.9" y="764.4" font-size="7.3" text-anchor="end" fill="#222">0.8</text>
<line x1="134.3" y1="748.0" x2="135.9" y2="748.0" stroke="#333" stroke-width="0.8"/>
<text x="131.9" y="750.6" font-size="7.3" text-anchor="end" fill="#222">1.0</text>
<line x1="136.8" y1="819.0" x2="136.8" y2="820.6" stroke="#333" stroke-width="0.8"/>
<text x="136.8" y="830.3" font-size="7.6" text-anchor="middle" fill="#222">0</text>
<line x1="148.3" y1="819.0" x2="148.3" y2="820.6" stroke="#333" stroke-width="0.8"/>
<text x="148.3" y="830.3" font-size="7.6" text-anchor="middle" fill="#222">10</text>
<line x1="159.9" y1="819.0" x2="159.9" y2="820.6" stroke="#333" stroke-width="0.8"/>
<text x="159.9" y="830.3" font-size="7.6" text-anchor="middle" fill="#222">20</text>
<line x1="171.4" y1="819.0" x2="171.4" y2="820.6" stroke="#333" stroke-width="0.8"/>
<text x="171.4" y="830.3" font-size="7.6" text-anchor="middle" fill="#222">30</text>
<line x1="182.9" y1="819.0" x2="182.9" y2="820.6" stroke="#333" stroke-width="0.8"/>
<text x="182.9" y="830.3" font-size="7.6" text-anchor="middle" fill="#222">40</text>
<line x1="194.5" y1="819.0" x2="194.5" y2="820.6" stroke="#333" stroke-width="0.8"/>
<text x="194.5" y="830.3" font-size="7.6" text-anchor="middle" fill="#222">50</text>
<line x1="206.0" y1="819.0" x2="206.0" y2="820.6" stroke="#333" stroke-width="0.8"/>
<text x="206.0" y="830.3" font-size="7.6" text-anchor="middle" fill="#222">60</text>
<text x="172.7" y="840.5" font-size="8.7" text-anchor="middle">RFS (months)</text>
<text x="119.4" y="782.5" font-size="8.6" text-anchor="middle" transform="rotate(-90 119.4 782.5)">Probability</text>
<text x="139.4" y="809.0" font-size="5.6" fill="#333">HR=1.69</text>
<text x="139.4" y="815.4" font-size="5.6" fill="#333">P=0.006</text>
<path d="M136.8 748.0 L138.6 748.6 L145.5 754.3 L151.1 758.8 L156.8 761.7 L162.5 763.9 L168.2 766.2 L173.9 767.3 L179.6 768.5 L185.4 769.1 L190.9 770.8 L196.7 772.5 L202.3 773.8 L206.3 774.8 L206.6 780.4" fill="none" stroke="#5aaaf0" stroke-width="1.9" stroke-linejoin="round"/>
<path d="M205.5 773.0v3.2M154.8 759.1v3.2M160.0 761.4v3.2M199.0 771.5v3.2M185.9 767.7v3.2M145.6 752.8v3.2M177.1 766.4v3.2M200.8 771.9v3.2M173.2 765.6v3.2M155.5 759.5v3.2M179.1 766.8v3.2M197.2 771.0v3.2M142.7 750.4v3.2M138.7 747.1v3.2M189.6 768.8v3.2M175.5 766.0v3.2M171.6 765.3v3.2M147.9 754.6v3.2M194.5 770.3v3.2M172.3 765.4v3.2M187.3 768.1v3.2M160.0 761.3v3.2M155.2 759.3v3.2M185.1 767.5v3.2M142.2 750.0v3.2M196.3 770.8v3.2M155.8 759.6v3.2M160.3 761.4v3.2M205.6 773.0v3.2M193.9 770.1v3.2M196.4 770.8v3.2M172.0 765.3v3.2M167.8 764.5v3.2M189.8 768.9v3.2M155.6 759.5v3.2M159.0 761.0v3.2M205.8 773.0v3.2M203.7 772.6v3.2M200.8 771.9v3.2M184.3 767.4v3.2M194.6 770.3v3.2M195.3 770.5v3.2M163.4 762.7v3.2M186.5 767.9v3.2M153.9 758.7v3.2M180.1 766.9v3.2M172.2 765.4v3.2M148.1 754.8v3.2M187.5 768.2v3.2M193.6 770.0v3.2M149.8 756.2v3.2M158.7 760.9v3.2M181.6 767.1v3.2M154.1 758.8v3.2M198.0 771.2v3.2M171.2 765.2v3.2M189.6 768.8v3.2M181.3 767.1v3.2M170.6 765.1v3.2M160.3 761.5v3.2" stroke="#5aaaf0" stroke-width="0.8"/>
<path d="M136.8 748.0 L138.6 748.6 L145.5 754.8 L147.8 763.4 L152.3 767.9 L156.8 772.5 L160.8 778.2 L165.9 778.7 L171.6 779.3 L178.4 779.9 L180.7 782.2 L206.8 782.2" fill="none" stroke="#eb9a14" stroke-width="1.9" stroke-linejoin="round"/>
<path d="M163.2 776.8v3.2M200.1 780.6v3.2M191.9 780.6v3.2M145.4 753.1v3.2M180.4 780.3v3.2M143.9 751.8v3.2M169.7 777.5v3.2M179.3 779.2v3.2M175.0 778.0v3.2M151.8 765.9v3.2M163.7 776.9v3.2M165.6 777.1v3.2M157.0 771.3v3.2M197.8 780.6v3.2M190.4 780.6v3.2M175.4 778.0v3.2M138.2 746.9v3.2M206.6 780.6v3.2M148.7 762.8v3.2M163.6 776.9v3.2M183.7 780.6v3.2M184.6 780.6v3.2M152.5 766.6v3.2M146.2 756.1v3.2M163.5 776.9v3.2M203.9 780.6v3.2M142.2 750.2v3.2M169.8 777.5v3.2M187.9 780.6v3.2M170.1 777.5v3.2M158.0 772.7v3.2M181.6 780.6v3.2M176.1 778.1v3.2M189.8 780.6v3.2M182.5 780.6v3.2M184.0 780.6v3.2M189.2 780.6v3.2M195.6 780.6v3.2M155.5 769.6v3.2M161.9 776.7v3.2M169.7 777.5v3.2M169.2 777.4v3.2M183.6 780.6v3.2M146.8 758.2v3.2M193.7 780.6v3.2M205.1 780.6v3.2M144.3 752.2v3.2M168.5 777.4v3.2M180.9 780.6v3.2M171.0 777.6v3.2M196.5 780.6v3.2M145.2 752.9v3.2M182.4 780.6v3.2M160.8 776.6v3.2M166.4 777.2v3.2M178.7 778.6v3.2M188.0 780.6v3.2M184.4 780.6v3.2M162.9 776.8v3.2M159.6 774.9v3.2" stroke="#eb9a14" stroke-width="0.8"/>
<text x="179.7" y="765.0" font-size="7.2" fill="#222">CC1-low</text>
<text x="172.2" y="794.0" font-size="7.2" fill="#222">CC1-high</text>
<rect x="241.7" y="745.9" width="73.9" height="74.3" fill="none" stroke="#333" stroke-width="1"/>
<line x1="240.1" y1="817.6" x2="241.7" y2="817.6" stroke="#333" stroke-width="0.8"/>
<text x="237.7" y="820.2" font-size="7.3" text-anchor="end" fill="#222">0.0</text>
<line x1="240.1" y1="803.8" x2="241.7" y2="803.8" stroke="#333" stroke-width="0.8"/>
<text x="237.7" y="806.4" font-size="7.3" text-anchor="end" fill="#222">0.2</text>
<line x1="240.1" y1="789.9" x2="241.7" y2="789.9" stroke="#333" stroke-width="0.8"/>
<text x="237.7" y="792.5" font-size="7.3" text-anchor="end" fill="#222">0.4</text>
<line x1="240.1" y1="776.1" x2="241.7" y2="776.1" stroke="#333" stroke-width="0.8"/>
<text x="237.7" y="778.7" font-size="7.3" text-anchor="end" fill="#222">0.6</text>
<line x1="240.1" y1="762.2" x2="241.7" y2="762.2" stroke="#333" stroke-width="0.8"/>
<text x="237.7" y="764.8" font-size="7.3" text-anchor="end" fill="#222">0.8</text>
<line x1="240.1" y1="748.4" x2="241.7" y2="748.4" stroke="#333" stroke-width="0.8"/>
<text x="237.7" y="751.0" font-size="7.3" text-anchor="end" fill="#222">1.0</text>
<line x1="242.0" y1="820.2" x2="242.0" y2="821.8" stroke="#333" stroke-width="0.8"/>
<text x="242.0" y="831.5" font-size="7.6" text-anchor="middle" fill="#222">0</text>
<line x1="253.4" y1="820.2" x2="253.4" y2="821.8" stroke="#333" stroke-width="0.8"/>
<text x="253.4" y="831.5" font-size="7.6" text-anchor="middle" fill="#222">10</text>
<line x1="264.9" y1="820.2" x2="264.9" y2="821.8" stroke="#333" stroke-width="0.8"/>
<text x="264.9" y="831.5" font-size="7.6" text-anchor="middle" fill="#222">20</text>
<line x1="276.4" y1="820.2" x2="276.4" y2="821.8" stroke="#333" stroke-width="0.8"/>
<text x="276.4" y="831.5" font-size="7.6" text-anchor="middle" fill="#222">30</text>
<line x1="287.8" y1="820.2" x2="287.8" y2="821.8" stroke="#333" stroke-width="0.8"/>
<text x="287.8" y="831.5" font-size="7.6" text-anchor="middle" fill="#222">40</text>
<line x1="299.2" y1="820.2" x2="299.2" y2="821.8" stroke="#333" stroke-width="0.8"/>
<text x="299.2" y="831.5" font-size="7.6" text-anchor="middle" fill="#222">50</text>
<line x1="310.7" y1="820.2" x2="310.7" y2="821.8" stroke="#333" stroke-width="0.8"/>
<text x="310.7" y="831.5" font-size="7.6" text-anchor="middle" fill="#222">60</text>
<text x="278.6" y="840.5" font-size="8.7" text-anchor="middle">OS (months)</text>
<text x="225.2" y="783.0" font-size="8.6" text-anchor="middle" transform="rotate(-90 225.2 783.0)">Probability</text>
<text x="245.2" y="809.0" font-size="5.6" fill="#333">HR=2.30</text>
<text x="245.2" y="815.4" font-size="5.6" fill="#333">P=0.003</text>
<path d="M242.0 748.4 L249.1 748.4 L249.1 749.8 L254.3 749.8 L254.3 751.5 L259.6 751.5 L259.6 754.2 L263.1 754.2 L263.1 756.8 L266.6 756.8 L266.6 757.7 L270.1 757.7 L270.1 759.5 L275.3 759.5 L275.3 761.2 L278.8 761.2 L278.8 762.9 L284.1 762.9 L284.1 764.7 L291.1 764.7 L291.1 766.4 L296.4 766.4 L296.4 769.2 L301.7 769.2 L301.7 770.8 L308.6 770.8 L308.6 772.2 L313.0 772.2 L313.0 773.3 L313.4 773.3 L313.4 778.8" fill="none" stroke="#5aaaf0" stroke-width="1.2" stroke-linejoin="round"/>
<path d="M245.4 746.8v3.2M282.5 761.3v3.2M258.8 749.9v3.2M277.5 759.6v3.2M309.3 770.6v3.2M267.3 756.1v3.2M244.6 746.8v3.2M291.7 764.8v3.2" stroke="#5aaaf0" stroke-width="0.8"/>
<path d="M242.0 748.4 L249.1 748.4 L249.1 751.5 L250.8 751.5 L250.8 755.0 L252.5 755.0 L252.5 760.2 L256.1 760.2 L256.1 765.5 L259.6 765.5 L259.6 770.8 L263.1 770.8 L263.1 774.3 L266.6 774.3 L266.6 777.8 L271.8 777.8 L271.8 782.3 L277.2 782.3 L277.2 784.8 L284.1 784.8 L284.1 786.6 L287.6 786.6 L287.6 788.3 L291.1 788.3 L291.1 791.0 L296.4 791.0 L296.4 791.5 L313.0 791.5 L313.0 791.5" fill="none" stroke="#eb9a14" stroke-width="1.2" stroke-linejoin="round"/>
<path d="M293.8 789.4v3.2M299.3 789.9v3.2M309.9 789.9v3.2M304.5 789.9v3.2M253.4 758.6v3.2M248.3 746.8v3.2M262.5 769.2v3.2M263.4 772.7v3.2" stroke="#eb9a14" stroke-width="0.8"/>
<text x="283.2" y="761.5" font-size="7.2" fill="#222">CC1-low</text>
<text x="279.2" y="783.4" font-size="7.2" fill="#222">CC1-high</text>
<rect x="346.4" y="745.9" width="74.2" height="74.3" fill="none" stroke="#333" stroke-width="1"/>
<line x1="344.8" y1="817.6" x2="346.4" y2="817.6" stroke="#333" stroke-width="0.8"/>
<text x="342.4" y="820.2" font-size="7.3" text-anchor="end" fill="#222">0.0</text>
<line x1="344.8" y1="803.8" x2="346.4" y2="803.8" stroke="#333" stroke-width="0.8"/>
<text x="342.4" y="806.4" font-size="7.3" text-anchor="end" fill="#222">0.2</text>
<line x1="344.8" y1="789.9" x2="346.4" y2="789.9" stroke="#333" stroke-width="0.8"/>
<text x="342.4" y="792.5" font-size="7.3" text-anchor="end" fill="#222">0.4</text>
<line x1="344.8" y1="776.1" x2="346.4" y2="776.1" stroke="#333" stroke-width="0.8"/>
<text x="342.4" y="778.7" font-size="7.3" text-anchor="end" fill="#222">0.6</text>
<line x1="344.8" y1="762.2" x2="346.4" y2="762.2" stroke="#333" stroke-width="0.8"/>
<text x="342.4" y="764.8" font-size="7.3" text-anchor="end" fill="#222">0.8</text>
<line x1="344.8" y1="748.4" x2="346.4" y2="748.4" stroke="#333" stroke-width="0.8"/>
<text x="342.4" y="751.0" font-size="7.3" text-anchor="end" fill="#222">1.0</text>
<line x1="347.3" y1="820.2" x2="347.3" y2="821.8" stroke="#333" stroke-width="0.8"/>
<text x="347.3" y="831.5" font-size="7.6" text-anchor="middle" fill="#222">0</text>
<line x1="358.9" y1="820.2" x2="358.9" y2="821.8" stroke="#333" stroke-width="0.8"/>
<text x="358.9" y="831.5" font-size="7.6" text-anchor="middle" fill="#222">10</text>
<line x1="370.6" y1="820.2" x2="370.6" y2="821.8" stroke="#333" stroke-width="0.8"/>
<text x="370.6" y="831.5" font-size="7.6" text-anchor="middle" fill="#222">20</text>
<line x1="382.2" y1="820.2" x2="382.2" y2="821.8" stroke="#333" stroke-width="0.8"/>
<text x="382.2" y="831.5" font-size="7.6" text-anchor="middle" fill="#222">30</text>
<line x1="393.9" y1="820.2" x2="393.9" y2="821.8" stroke="#333" stroke-width="0.8"/>
<text x="393.9" y="831.5" font-size="7.6" text-anchor="middle" fill="#222">40</text>
<line x1="405.6" y1="820.2" x2="405.6" y2="821.8" stroke="#333" stroke-width="0.8"/>
<text x="405.6" y="831.5" font-size="7.6" text-anchor="middle" fill="#222">50</text>
<line x1="417.2" y1="820.2" x2="417.2" y2="821.8" stroke="#333" stroke-width="0.8"/>
<text x="417.2" y="831.5" font-size="7.6" text-anchor="middle" fill="#222">60</text>
<text x="383.5" y="840.5" font-size="8.7" text-anchor="middle">OS (months)</text>
<text x="329.9" y="783.0" font-size="8.6" text-anchor="middle" transform="rotate(-90 329.9 783.0)">Probability</text>
<text x="349.9" y="809.0" font-size="5.6" fill="#333">HR=2.16</text>
<text x="349.9" y="815.4" font-size="5.6" fill="#333">P=0.016</text>
<path d="M347.3 748.4 L348.7 748.4 L348.7 748.4 L351.7 748.4 L351.7 755.0 L354.3 755.0 L354.3 757.7 L357.8 757.7 L357.8 762.2 L360.3 762.2 L360.3 765.5 L366.5 765.5 L366.5 767.3 L373.6 767.3 L373.6 769.9 L380.6 769.9 L380.6 771.7 L382.4 771.7 L382.4 776.1 L389.4 776.1 L389.4 776.9 L390.2 776.9 L390.2 781.3 L408.6 781.3 L408.6 781.3 L409.5 781.3 L409.5 788.3 L417.0 788.3 L417.0 789.2 L417.7 789.2 L417.7 800.6" fill="none" stroke="#5aaaf0" stroke-width="1.2" stroke-linejoin="round"/>
<path d="M405.3 779.7v3.2M391.0 779.7v3.2M410.8 786.7v3.2M408.2 779.7v3.2M414.5 786.7v3.2M394.0 779.7v3.2M382.7 774.5v3.2M361.4 763.9v3.2" stroke="#5aaaf0" stroke-width="0.8"/>
<path d="M347.3 748.4 L350.8 748.4 L350.8 755.0 L353.4 755.0 L353.4 756.7 L355.2 756.7 L355.2 760.2 L356.2 760.2 L356.2 767.3 L357.8 767.3 L357.8 774.3 L360.3 774.3 L360.3 777.8 L362.2 777.8 L362.2 781.3 L364.0 781.3 L364.0 786.6 L366.5 786.6 L366.5 789.9 L370.1 789.9 L370.1 793.4 L373.6 793.4 L373.6 795.2 L378.8 795.2 L378.8 796.8 L382.4 796.8 L382.4 797.9 L382.4 797.9 L382.4 801.3 L419.5 801.3 L419.5 801.3" fill="none" stroke="#eb9a14" stroke-width="1.2" stroke-linejoin="round"/>
<path d="M390.5 799.7v3.2M394.4 799.7v3.2M395.8 799.7v3.2M399.4 799.7v3.2M366.6 788.3v3.2M389.3 799.7v3.2M412.8 799.7v3.2M349.8 746.8v3.2" stroke="#eb9a14" stroke-width="0.8"/>
<text x="391.5" y="776.5" font-size="7.2" fill="#222">CC1-low</text>
<text x="383.7" y="798.1" font-size="7.2" fill="#222">CC1-high</text>
<text x="446.4" y="542.6" font-size="13" font-weight="bold">h</text>
<line x1="483.4" y1="606.7" x2="609.0" y2="606.7" stroke="#e0e0e0" stroke-width="0.7"/>
<line x1="483.4" y1="612.4" x2="609.0" y2="612.4" stroke="#f0f0f0" stroke-width="0.5"/>
<line x1="481.9" y1="606.7" x2="483.4" y2="606.7" stroke="#333" stroke-width="0.6"/>
<text x="478.4" y="609.5" font-size="7.8" text-anchor="middle" fill="#222">0</text>
<line x1="483.4" y1="595.3" x2="609.0" y2="595.3" stroke="#e0e0e0" stroke-width="0.7"/>
<line x1="483.4" y1="601.0" x2="609.0" y2="601.0" stroke="#f0f0f0" stroke-width="0.5"/>
<line x1="481.9" y1="595.3" x2="483.4" y2="595.3" stroke="#333" stroke-width="0.6"/>
<text x="478.4" y="598.1" font-size="7.8" text-anchor="middle" fill="#222">1</text>
<line x1="483.4" y1="583.9" x2="609.0" y2="583.9" stroke="#e0e0e0" stroke-width="0.7"/>
<line x1="483.4" y1="589.6" x2="609.0" y2="589.6" stroke="#f0f0f0" stroke-width="0.5"/>
<line x1="481.9" y1="583.9" x2="483.4" y2="583.9" stroke="#333" stroke-width="0.6"/>
<text x="478.4" y="586.7" font-size="7.8" text-anchor="middle" fill="#222">2</text>
<line x1="483.4" y1="572.5" x2="609.0" y2="572.5" stroke="#e0e0e0" stroke-width="0.7"/>
<line x1="483.4" y1="578.2" x2="609.0" y2="578.2" stroke="#f0f0f0" stroke-width="0.5"/>
<line x1="481.9" y1="572.5" x2="483.4" y2="572.5" stroke="#333" stroke-width="0.6"/>
<text x="478.4" y="575.3" font-size="7.8" text-anchor="middle" fill="#222">3</text>
<line x1="483.4" y1="561.1" x2="609.0" y2="561.1" stroke="#e0e0e0" stroke-width="0.7"/>
<line x1="483.4" y1="566.8" x2="609.0" y2="566.8" stroke="#f0f0f0" stroke-width="0.5"/>
<line x1="481.9" y1="561.1" x2="483.4" y2="561.1" stroke="#333" stroke-width="0.6"/>
<text x="478.4" y="563.9" font-size="7.8" text-anchor="middle" fill="#222">4</text>
<line x1="483.4" y1="549.7" x2="609.0" y2="549.7" stroke="#e0e0e0" stroke-width="0.7"/>
<line x1="481.9" y1="549.7" x2="483.4" y2="549.7" stroke="#333" stroke-width="0.6"/>
<text x="478.4" y="552.5" font-size="7.8" text-anchor="middle" fill="#222">5</text>
<line x1="495.7" y1="549.2" x2="495.7" y2="609.3" stroke="#e0e0e0" stroke-width="0.7"/>
<line x1="495.7" y1="609.3" x2="495.7" y2="610.8" stroke="#333" stroke-width="0.6"/>
<line x1="515.7" y1="549.2" x2="515.7" y2="609.3" stroke="#e0e0e0" stroke-width="0.7"/>
<line x1="515.7" y1="609.3" x2="515.7" y2="610.8" stroke="#333" stroke-width="0.6"/>
<line x1="536.4" y1="549.2" x2="536.4" y2="609.3" stroke="#e0e0e0" stroke-width="0.7"/>
<line x1="536.4" y1="609.3" x2="536.4" y2="610.8" stroke="#333" stroke-width="0.6"/>
<line x1="556.4" y1="549.2" x2="556.4" y2="609.3" stroke="#e0e0e0" stroke-width="0.7"/>
<line x1="556.4" y1="609.3" x2="556.4" y2="610.8" stroke="#333" stroke-width="0.6"/>
<line x1="577.2" y1="549.2" x2="577.2" y2="609.3" stroke="#e0e0e0" stroke-width="0.7"/>
<line x1="577.2" y1="609.3" x2="577.2" y2="610.8" stroke="#333" stroke-width="0.6"/>
<line x1="597.1" y1="549.2" x2="597.1" y2="609.3" stroke="#e0e0e0" stroke-width="0.7"/>
<line x1="597.1" y1="609.3" x2="597.1" y2="610.8" stroke="#333" stroke-width="0.6"/>
<rect x="483.4" y="549.2" width="125.6" height="60.1" fill="none" stroke="#333" stroke-width="0.8"/>
<text x="464.0" y="579.3" font-size="6.7" text-anchor="middle" transform="rotate(-90 464.0 579.3)">Expression level</text>
<text x="471.2" y="579.3" font-size="6.7" text-anchor="middle" transform="rotate(-90 471.2 579.3)">(LGALS7B)</text>
<rect x="508.3" y="581.2" width="15.3" height="25.5" fill="#80ee70" stroke="#333" stroke-width="0.6"/>
<line x1="508.3" y1="593.1" x2="523.6" y2="593.1" stroke="#222" stroke-width="0.9"/>
<rect x="569.3" y="599.2" width="15.7" height="7.5" fill="#eed4b4" stroke="#333" stroke-width="0.6"/>
<line x1="569.3" y1="601.6" x2="585.0" y2="601.6" stroke="#222" stroke-width="0.9"/>
<line x1="488.2" y1="606.7" x2="503.2" y2="606.7" stroke="#333" stroke-width="0.8"/>
<line x1="528.9" y1="606.7" x2="543.9" y2="606.7" stroke="#333" stroke-width="0.8"/>
<line x1="548.9" y1="606.7" x2="563.9" y2="606.7" stroke="#333" stroke-width="0.8"/>
<line x1="589.6" y1="606.7" x2="604.6" y2="606.7" stroke="#333" stroke-width="0.8"/>
<path transform="scale(.5)" fill="none" stroke="#3a3a3a" stroke-width="2" stroke-opacity="0.7" d="M1027 1107h2m2 0h2m-2 2h2m-5 1h2m1 1h2m0 0h2m-3 1h2m-5 1h2m0 0h2m-2 1h2m-4 1h2m-2 2h2m-1 4h2m-1 0h2m-2 2h2m-7 1h2m-1 0h2m0 0h2m-1 0h2m-1 0h2m-1 0h2m0 0h2m-6 1h2m-4 1h2m0 0h2m-2 1h2m1 3h2m-6 1h2m-3 2h2m1 1h2m-8 1h2m7 1h2m-5 2h2m-1 0h2m1 0h2m-1 0h2m-10 1h2m-1 0h2m1 0h2m-6 1h2m-1 0h2m1 0h2m1 0h2m-1 0h2m-12 1h2m1 1h2m0 0h2m-1 0h2m1 0h2m-8 1h2m1 0h2m1 0h2m-1 0h2m-10 1h2m-1 0h2m1 0h2m0 0h2m-10 1h2m-1 0h2m-1 0h2m-1 0h2m-1 0h2m0 0h2m0 0h2m-1 0h2m-2 1h2m-12 1h2m0 0h2m-3 1h2m0 0h2m-1 0h2m-1 0h2m-1 0h2m-8 1h2m1 0h2m1 0h2m0 0h2m-1 0h2m-1 0h2m-9 1h2m-1 0h2m0 0h2m0 0h2m-1 0h2m-9 1h2m2 0h2m-1 0h2m0 0h2m-1 0h2m-6 1h2m-1 0h2m-43 1h2m35 0h2m-1 0h2m-1 0h2m-1 0h2m0 0h2m-10 1h2m-1 0h2m5 0h2m-10 1h2m4 0h2m-1 0h2m-1 0h2m-44 1h2m32 0h2m3 0h2m-1 0h2m-1 0h2m-1 0h2m-1 0h2m-1 0h2m-12 1h2m0 0h2m0 0h2m-1 0h2m1 0h2m-10 1h2m-1 0h2m-1 0h2m-1 0h2m1 0h2m0 0h2m-1 0h2m-9 1h2m0 0h2m0 0h2m-1 0h2m-1 0h2m-1 0h2m-10 1h2m1 0h2m1 0h2m-1 0h2m-46 1h2m34 0h2m3 0h2m-1 0h2m-1 0h2m-1 0h2m-1 0h2m-1 0h2m-12 1h2m0 0h2m0 0h2m-1 0h2m0 0h2m-1 0h2m-1 0h2m-1 0h2m-1 0h2m-46 1h2m35 0h2m2 0h2m-1 0h2m-44 1h2m31 0h2m-1 0h2m2 0h2m-1 0h2m1 0h2m-1 0h2m-1 0h2m-13 1h2m-1 0h2m0 0h2m-1 0h2m0 0h2m-1 0h2m0 0h2m-45 1h2m34 0h2m-1 0h2m0 0h2m-1 0h2m-1 0h2m-1 0h2m0 0h2m-1 0h2m-47 1h2m-1 0h2m31 0h2m-1 0h2m0 0h2m-1 0h2m-1 0h2m-1 0h2m-1 0h2m-1 0h2m0 0h2m-1 0h2m-12 1h2m-1 0h2m-1 0h2m-1 0h2m-1 0h2m-1 0h2m-1 0h2m1 0h2m-12 1h2m-1 0h2m-1 0h2m3 0h2m-1 0h2m-1 0h2m-1 0h2m-48 1h2m34 0h2m-1 0h2m0 0h2m-1 0h2m0 0h2m-1 0h2m-1 0h2m-1 0h2m-1 0h2m-12 1h2m-1 0h2m0 0h2m-1 0h2m-1 0h2m0 0h2m1 0h2m-12 1h2m-1 0h2m-1 0h2m0 0h2m-1 0h2m-1 0h2m-1 0h2m-1 0h2m118 0h2m-129 1h2m0 0h2m1 0h2m-1 0h2m-7 1h2m1 0h2m2 0h2m-1 0h2m-12 1h2m-1 0h2m-1 0h2m-1 0h2m1 0h2m-1 0h2m-1 0h2m-1 0h2m-1 0h2m-12 1h2m7 0h2m0 0h2m-45 1h2m30 0h2m-1 0h2m1 0h2m-1 0h2m-1 0h2m0 0h2m-1 0h2m-1 0h2m-10 1h2m-1 0h2m0 0h2m0 0h2m-1 0h2m-1 0h2m-49 1h2m-1 0h2m-1 0h2m-1 0h2m-1 0h2m-1 0h2m-1 0h2m31 0h2m1 0h2m0 0h2m0 0h2m-1 0h2m-1 0h2m-1 0h2m116 0h2m-165 1h2m-1 0h2m31 0h2m-1 0h2m-1 0h2m-1 0h2m-1 0h2m0 0h2m1 0h2m-47 1h2m36 0h2m-1 0h2m-1 0h2m-1 0h2m0 0h2m-1 0h2m-1 0h2m-1 0h2m-48 1h2m2 0h2m32 0h2m0 0h2m0 0h2m-1 0h2m-1 0h2m1 0h2m-48 1h2m33 0h2m0 0h2m-1 0h2m1 0h2m-1 0h2m-1 0h2m-1 0h2m-1 0h2m-1 0h2m-12 1h2m-1 0h2m-1 0h2m0 0h2m-1 0h2m-1 0h2m2 0h2m114 0h2m-163 1h2m32 0h2m-1 0h2m-1 0h2m2 0h2m-1 0h2m-1 0h2m-1 0h2m-1 0h2m-47 1h2m-1 0h2m-1 0h2m0 0h2m30 0h2m-1 0h2m-1 0h2m-1 0h2m-1 0h2m-1 0h2m-1 0h2m-1 0h2m0 0h2m-1 0h2m-13 1h2m3 0h2m-1 0h2m-1 0h2m0 0h2m-1 0h2m-50 1h2m4 0h2m31 0h2m-1 0h2m0 0h2m0 0h2m-1 0h2m0 0h2m-1 0h2m-46 1h2m1 0h2m29 0h2m0 0h2m0 0h2m3 0h2m-1 0h2m-1 0h2m-48 1h2m2 0h2m29 0h2m0 0h2m-1 0h2m-1 0h2m2 0h2m-1 0h2m114 0h2m1 0h2m-165 1h2m-1 0h2m33 0h2m-1 0h2m-1 0h2m-1 0h2m-1 0h2m-1 0h2m-1 0h2m0 0h2m118 0h2m-170 1h2m-1 0h2m1 0h2m34 0h2m-1 0h2m-1 0h2m-1 0h2m0 0h2m0 0h2m-1 0h2m-1 0h2m-1 0h2m-50 1h2m1 0h2m-1 0h2m1 0h2m30 0h2m-1 0h2m-1 0h2m-1 0h2m0 0h2m-1 0h2m-1 0h2m114 0h2m-1 0h2m3 0h2m-1 0h2m-173 1h2m2 0h2m34 0h2m0 0h2m5 0h2m75 0h2m41 0h2m-171 1h2m3 0h2m1 0h2m-1 0h2m28 0h2m-1 0h2m1 0h2m-1 0h2m-1 0h2m0 0h2m-1 0h2m77 0h2m35 0h2m1 0h2m-1 0h2m-168 1h2m0 0h2m33 0h2m1 0h2m1 0h2m1 0h2m-1 0h2m117 0h2m1 0h2m-172 1h2m-1 0h2m0 0h2m2 0h2m30 0h2m-1 0h2m-1 0h2m2 0h2m2 0h2m115 0h2m3 0h2m-173 1h2m2 0h2m-1 0h2m-1 0h2m-1 0h2m30 0h2m0 0h2m-1 0h2m-1 0h2m-1 0h2m2 0h2m36 0h2m-1 0h2m74 0h2m3 0h2m-170 1h2m2 0h2m-1 0h2m0 0h2m-1 0h2m30 0h2m1 0h2m-1 0h2m-1 0h2m0 0h2m-1 0h2m35 0h2m-1 0h2m-1 0h2m-1 0h2m73 0h2m0 0h2m1 0h2m-169 1h2m-1 0h2m1 0h2m-1 0h2m31 0h2m-1 0h2m-1 0h2m0 0h2m-1 0h2m1 0h2m35 0h2m76 0h2m-1 0h2m-1 0h2m1 0h2m-170 1h2m-1 0h2m-1 0h2m-1 0h2m-1 0h2m0 0h2m-1 0h2m-1 0h2m31 0h2m-1 0h2m0 0h2m1 0h2m36 0h2m0 0h2m-89 1h2m4 0h2m-1 0h2m30 0h2m1 0h2m1 0h2m-1 0h2m0 0h2m-1 0h2m114 0h2m0 0h2m-1 0h2m0 0h2m-171 1h2m-1 0h2m2 0h2m34 0h2m-1 0h2m0 0h2m-1 0h2m-1 0h2m0 0h2m34 0h2m77 0h2m4 0h2m-171 1h2m-1 0h2m-1 0h2m-1 0h2m-1 0h2m-1 0h2m-1 0h2m-1 0h2m32 0h2m-1 0h2m-1 0h2m1 0h2m0 0h2m-1 0h2m36 0h2m-1 0h2m72 0h2m-1 0h2m-1 0h2m1 0h2m0 0h2m-171 1h2m-1 0h2m-1 0h2m0 0h2m1 0h2m30 0h2m-1 0h2m0 0h2m1 0h2m-1 0h2m0 0h2m32 0h2m-1 0h2m-1 0h2m0 0h2m0 0h2m72 0h2m1 0h2m-1 0h2m-168 1h2m-1 0h2m-1 0h2m-1 0h2m-1 0h2m-1 0h2m-1 0h2m-1 0h2m32 0h2m0 0h2m0 0h2m-1 0h2m0 0h2m-1 0h2m31 0h2m4 0h2m72 0h2m3 0h2m0 0h2m33 0h2m-206 1h2m0 0h2m1 0h2m-1 0h2m32 0h2m6 0h2m36 0h2m75 0h2m1 0h2m0 0h2m-1 0h2m35 0h2m-209 1h2m-1 0h2m-1 0h2m-1 0h2m0 0h2m-1 0h2m1 0h2m29 0h2m2 0h2m0 0h2m0 0h2m116 0h2m-1 0h2m2 0h2m33 0h2m0 0h2m0 0h2m-212 1h2m-1 0h2m-1 0h2m-1 0h2m-1 0h2m-1 0h2m-1 0h2m-1 0h2m36 0h2m-1 0h2m1 0h2m32 0h2m-1 0h2m-1 0h2m39 0h2m36 0h2m2 0h2m35 0h2m-207 1h2m2 0h2m1 0h2m-1 0h2m31 0h2m-1 0h2m0 0h2m0 0h2m36 0h2m0 0h2m120 0h2m-210 1h2m-1 0h2m-1 0h2m-1 0h2m-1 0h2m0 0h2m0 0h2m29 0h2m-1 0h2m-1 0h2m-1 0h2m-1 0h2m0 0h2m-1 0h2m1 0h2m34 0h2m-1 0h2m-1 0h2m-1 0h2m76 0h2m38 0h2m-1 0h2m-209 1h2m-1 0h2m-1 0h2m-1 0h2m-1 0h2m-1 0h2m-1 0h2m-1 0h2m-1 0h2m29 0h2m0 0h2m-1 0h2m0 0h2m38 0h2m-1 0h2m0 0h2m76 0h2m-1 0h2m0 0h2m1 0h2m34 0h2m-208 1h2m0 0h2m-1 0h2m-1 0h2m-1 0h2m-1 0h2m-1 0h2m30 0h2m-1 0h2m-1 0h2m-1 0h2m-1 0h2m-1 0h2m-1 0h2m-1 0h2m-1 0h2m-1 0h2m-1 0h2m31 0h2m0 0h2m0 0h2m79 0h2m0 0h2m-1 0h2"/>
<text x="495.7" y="619.5" font-size="8" text-anchor="middle" fill="#222">CC0</text>
<text x="515.7" y="619.5" font-size="8" text-anchor="middle" fill="#222">CC1</text>
<text x="536.4" y="619.5" font-size="8" text-anchor="middle" fill="#222">CC2</text>
<text x="556.4" y="619.5" font-size="8" text-anchor="middle" fill="#222">CC3</text>
<text x="577.2" y="619.5" font-size="8" text-anchor="middle" fill="#222">CC4</text>
<text x="597.1" y="619.5" font-size="8" text-anchor="middle" fill="#222">CC5</text>
<text x="449.3" y="634.0" font-size="15" font-weight="bold">i</text>
<defs>
<filter id="blr" color-interpolation-filters="sRGB" x="-5%" y="-5%" width="110%" height="110%"><feGaussianBlur stdDeviation="1.1"/></filter>
<filter id="mot" color-interpolation-filters="sRGB" x="0" y="0" width="100%" height="100%"><feTurbulence type="fractalNoise" baseFrequency="0.18" numOctaves="2" seed="4"/><feColorMatrix type="matrix" values="0 0 0 0 0.45  0 0 0 0 0.2  0 0 0 0 0.05  0 0 0 2.2 -0.9"/><feComposite in2="SourceGraphic" operator="in"/></filter>
<filter id="mot2" color-interpolation-filters="sRGB" x="0" y="0" width="100%" height="100%"><feTurbulence type="fractalNoise" baseFrequency="0.22" numOctaves="2" seed="8"/><feColorMatrix type="matrix" values="0 0 0 0 1  0 0 0 0 0.95  0 0 0 0 0.9  0 0 0 2.4 -1.15"/><feComposite in2="SourceGraphic" operator="in"/></filter>
<filter id="nuc" color-interpolation-filters="sRGB" x="0" y="0" width="100%" height="100%"><feTurbulence type="fractalNoise" baseFrequency="0.6" numOctaves="1" seed="12"/><feColorMatrix type="matrix" values="0 0 0 0 0.25  0 0 0 0 0.12  0 0 0 0 0.08  0 0 0 -12 4.4"/><feComposite in2="SourceGraphic" operator="in"/></filter>
<filter id="lace" color-interpolation-filters="sRGB" x="0" y="0" width="100%" height="100%"><feTurbulence type="fractalNoise" baseFrequency="0.22" numOctaves="2" seed="31"/><feColorMatrix type="matrix" values="0 0 0 0 0.98  0 0 0 0 0.95  0 0 0 0 0.92  0 0 0 8 -4.9"/><feComposite in2="SourceGraphic" operator="in"/></filter>
<filter id="bnuc" color-interpolation-filters="sRGB" x="0" y="0" width="100%" height="100%"><feTurbulence type="fractalNoise" baseFrequency="0.5" numOctaves="2" seed="21"/><feColorMatrix type="matrix" values="0 0 0 0 0.5  0 0 0 0 0.68  0 0 0 0 0.86  0 0 0 -7 3.7"/><feComposite in2="SourceGraphic" operator="in"/></filter>
</defs>
<text x="462.8" y="655.6" font-size="7.4" fill="#111">C07</text>
<svg x="478.8" y="632.5" width="54" height="40.9" viewBox="0 0 54 40.9" overflow="hidden"><rect width="54" height="40.9" fill="#b0581c"/><rect transform="translate(-1 -38)" width="55" height="78.9" fill="#fff" filter="url(#mot)" opacity="0.55"/><g filter="url(#blr)"><polygon points="5.4,0.0 8.1,0.0 9.2,12.3 13.0,24.5 20.5,34.8 18.4,40.9 7.6,40.9 2.2,34.8 0.0,31.9 0.0,8.2 3.8,6.1" fill="#f4e8da"/><ellipse cx="21.6" cy="24.5" rx="5.4" ry="6.1" fill="#e6dfd8"/><ellipse cx="50.2" cy="3.3" rx="3.2" ry="4.1" fill="#eedccb"/><polygon points="0.0,0.0 5.4,0.0 4.3,5.7 0.0,6.5" fill="#8a3f14"/><polygon points="0.0,34.8 2.7,36.0 6.5,40.9 0.0,40.9" fill="#8a3f14"/><ellipse cx="37.8" cy="22.5" rx="2.7" ry="3.3" fill="#e9cdb4"/><ellipse cx="33.5" cy="8.2" rx="2.2" ry="2.5" fill="#e9cdb4"/></g><rect transform="translate(-40 -59)" width="94" height="99.9" fill="#fff" filter="url(#mot2)" opacity="0.25"/><rect transform="translate(-21 -32)" width="75" height="72.9" fill="#fff" filter="url(#lace)" opacity="0.5"/><rect transform="translate(-47 -34)" width="101" height="74.9" fill="#fff" filter="url(#nuc)" opacity="0.45"/></svg>
<text x="535.8" y="655.6" font-size="7.4" fill="#111">C04</text>
<svg x="551" y="632.5" width="54" height="40.9" viewBox="0 0 54 40.9" overflow="hidden"><rect width="54" height="40.9" fill="#bc7436"/><rect transform="translate(-29 -42)" width="83" height="82.9" fill="#fff" filter="url(#mot)" opacity="0.55"/><g filter="url(#blr)"><polygon points="0.0,22.9 16.2,21.3 24.3,19.6 33.5,22.9 36.7,26.2 21.6,27.0 10.8,27.8 0.0,27.4" fill="#d9d2cc"/><polygon points="0.0,34.8 21.6,33.5 37.8,35.2 54.0,34.4 54.0,40.9 0.0,40.9" fill="#d9d4d0"/><polygon points="17.3,13.1 31.3,12.3 32.4,14.7 17.3,15.5" fill="#dcc6b0"/><polygon points="38.9,19.2 54.0,17.6 54.0,21.3 41.0,22.9" fill="#dcc6b0"/></g><rect transform="translate(0 -32)" width="54" height="72.9" fill="#fff" filter="url(#mot2)" opacity="0.25"/><rect transform="translate(-56 -58)" width="110" height="98.9" fill="#fff" filter="url(#lace)" opacity="0.5"/><rect transform="translate(-33 -35)" width="87" height="75.9" fill="#fff" filter="url(#nuc)" opacity="0.45"/></svg>
<text x="462.8" y="699.6" font-size="7.4" fill="#111">C06</text>
<svg x="478.8" y="676.3" width="54" height="41.4" viewBox="0 0 54 41.4" overflow="hidden"><rect width="54" height="41.4" fill="#b8692c"/><rect transform="translate(-53 -42)" width="107" height="83.4" fill="#fff" filter="url(#mot)" opacity="0.55"/><g filter="url(#blr)"><polygon points="0.0,0.0 9.7,0.0 10.8,12.4 9.7,22.8 15.1,31.1 22.7,35.2 24.8,41.4 0.0,41.4" fill="#dfe3e8"/><polygon points="19.4,0.0 30.2,0.0 28.6,5.0 21.6,5.0" fill="#dfe3e8"/><polygon points="30.2,25.7 37.8,21.5 42.1,29.0 40.0,41.4 30.2,41.4" fill="#e8d2bc"/><ellipse cx="16.2" cy="18.6" rx="2.2" ry="2.9" fill="#efe2d4"/><ellipse cx="48.6" cy="20.7" rx="2.7" ry="3.3" fill="#efe2d4"/></g><rect transform="translate(-58 -19)" width="112" height="60.4" fill="#fff" filter="url(#mot2)" opacity="0.25"/><rect transform="translate(-7 -31)" width="61" height="72.4" fill="#fff" filter="url(#lace)" opacity="0.5"/><rect transform="translate(-29 -2)" width="83" height="43.4" fill="#fff" filter="url(#nuc)" opacity="0.45"/></svg>
<text x="535.8" y="699.6" font-size="7.4" fill="#111">C30</text>
<svg x="551" y="676.3" width="54" height="41.4" viewBox="0 0 54 41.4" overflow="hidden"><rect width="54" height="41.4" fill="#c8742e"/><rect transform="translate(-40 -4)" width="94" height="45.4" fill="#fff" filter="url(#mot)" opacity="0.55"/><g filter="url(#blr)"><polygon points="9.2,0.0 15.7,0.0 14.0,10.4 13.8,24.8 13.2,35.2 12.2,24.8 11.9,12.4" fill="#fbf4ee"/><ellipse cx="35.6" cy="12.4" rx="6.5" ry="7.5" fill="#e8c4a4"/><ellipse cx="30.2" cy="33.1" rx="6.5" ry="6.2" fill="#e8c4a4"/><polygon points="50.2,0.0 54.0,0.0 54.0,41.4 51.3,41.4 51.8,20.7" fill="#dcdcdc"/></g><rect transform="translate(-17 -49)" width="71" height="90.4" fill="#fff" filter="url(#mot2)" opacity="0.25"/><rect transform="translate(-27 -6)" width="81" height="47.4" fill="#fff" filter="url(#lace)" opacity="0.5"/><rect transform="translate(-55 -38)" width="109" height="79.4" fill="#fff" filter="url(#nuc)" opacity="0.45"/></svg>
<text x="462.8" y="743.3" font-size="7.4" fill="#111">C31</text>
<svg x="478.8" y="720.2" width="54" height="40.9" viewBox="0 0 54 40.9" overflow="hidden"><rect width="54" height="40.9" fill="#96451a"/><rect transform="translate(-43 -17)" width="97" height="57.9" fill="#fff" filter="url(#mot)" opacity="0.55"/><g filter="url(#blr)"><polygon points="7.6,0.8 22.7,0.0 25.9,6.1 25.4,18.4 21.6,24.5 13.0,26.2 8.6,24.5 11.9,23.3 19.4,22.1 22.7,16.4 22.7,7.0 19.4,2.9 8.6,2.9" fill="#f4e8da"/><polygon points="0.0,2.0 2.7,2.0 3.2,18.4 1.6,24.5 0.0,24.5" fill="#f4e8da"/><polygon points="24.3,24.5 27.0,24.5 26.5,40.9 24.8,40.9" fill="#f4e8da"/><polygon points="48.6,24.5 54.0,22.5 54.0,38.9 50.2,36.8" fill="#f0e0d0"/></g><rect transform="translate(-60 -41)" width="114" height="81.9" fill="#fff" filter="url(#lace)" opacity="0.5"/><rect transform="translate(-28 -17)" width="82" height="57.9" fill="#fff" filter="url(#nuc)" opacity="0.45"/></svg>
<text x="535.8" y="743.3" font-size="7.4" fill="#111">C51</text>
<svg x="551" y="720.2" width="54" height="40.9" viewBox="0 0 54 40.9" overflow="hidden"><rect width="54" height="40.9" fill="#c4844c"/><rect transform="translate(-45 -41)" width="99" height="81.9" fill="#fff" filter="url(#mot)" opacity="0.55"/><g filter="url(#blr)"><polygon points="19.4,0.0 27.0,0.0 28.1,12.3 32.4,22.5 37.8,40.9 15.1,40.9 16.2,20.4" fill="#f4e8da"/><ellipse cx="21.6" cy="33.5" rx="2.7" ry="6.5" fill="#c98a55"/><ellipse cx="29.7" cy="34.8" rx="2.7" ry="6.1" fill="#c98a55"/><polygon points="2.7,2.0 8.1,2.0 6.5,14.3 2.7,12.3" fill="#f4e8da"/><polygon points="0.0,16.4 16.2,16.4 16.2,32.7 0.0,32.7" fill="#d8c8bc"/></g><rect transform="translate(-29 -28)" width="83" height="68.9" fill="#fff" filter="url(#mot2)" opacity="0.25"/><rect transform="translate(-15 -35)" width="69" height="75.9" fill="#fff" filter="url(#lace)" opacity="0.5"/><rect transform="translate(-25 -23)" width="79" height="63.9" fill="#fff" filter="url(#nuc)" opacity="0.45"/></svg>
<text x="462.8" y="787.2" font-size="7.4" fill="#111">C15</text>
<svg x="478.8" y="764.3" width="54" height="40.6" viewBox="0 0 54 40.6" overflow="hidden"><rect width="54" height="40.6" fill="#f2e4d6"/><rect transform="translate(-39 -17)" width="93" height="57.6" fill="#fff" filter="url(#mot)" opacity="0.55"/><g filter="url(#blr)"><ellipse cx="10.3" cy="9.7" rx="9.7" ry="10.2" fill="#843c12"/><polygon points="18.4,0.0 29.7,0.0 30.2,40.6 1.1,40.6 6.5,28.4 15.1,21.1 17.3,10.2" fill="#843c12"/><polygon points="32.4,0.0 54.0,0.0 54.0,22.3 48.6,23.5 40.5,21.1 32.4,22.3" fill="#843c12"/><ellipse cx="41.0" cy="39.4" rx="14.0" ry="15.4" fill="#843c12"/><polygon points="0.0,20.3 5.4,21.1 7.6,28.4 1.1,39.8 0.0,40.6" fill="#843c12"/></g><rect transform="translate(-31 -28)" width="85" height="68.6" fill="#fff" filter="url(#lace)" opacity="0.5"/><rect transform="translate(-6 -26)" width="60" height="66.6" fill="#fff" filter="url(#nuc)" opacity="0.45"/></svg>
<text x="535.8" y="787.2" font-size="7.4" fill="#111">C26</text>
<svg x="551" y="764.3" width="54" height="40.6" viewBox="0 0 54 40.6" overflow="hidden"><rect width="54" height="40.6" fill="#a25218"/><rect transform="translate(-39 -52)" width="93" height="92.6" fill="#fff" filter="url(#mot)" opacity="0.55"/><g filter="url(#blr)"><polygon points="22.7,0.0 35.1,0.0 38.9,12.2 29.7,16.2 21.6,20.3 18.9,30.5 10.8,29.2 6.5,22.3 11.9,14.2 18.9,12.2" fill="#f0dcc8"/><ellipse cx="22.7" cy="8.9" rx="3.2" ry="4.1" fill="#a5551d"/><polygon points="33.5,18.3 43.2,20.3 40.5,25.2 33.5,22.7" fill="#f0dcc8"/><polygon points="47.5,28.4 54.0,26.4 54.0,38.6 48.6,36.5" fill="#f0dcc8"/><polygon points="45.4,0.0 50.8,0.0 48.6,10.2" fill="#f0dcc8"/></g><rect transform="translate(-29 -5)" width="83" height="45.6" fill="#fff" filter="url(#lace)" opacity="0.5"/><rect transform="translate(-29 -30)" width="83" height="70.6" fill="#fff" filter="url(#nuc)" opacity="0.45"/></svg>
<text x="462.8" y="834.0" font-size="7.4" fill="#111">C09</text>
<svg x="478.8" y="811.2" width="54" height="40.3" viewBox="0 0 54 40.3" overflow="hidden"><rect width="54" height="40.3" fill="#d6e3f0"/><g filter="url(#blr)"><polygon points="0.0,22.2 16.2,8.1 32.4,4.0 37.8,10.1 21.6,16.1 5.4,32.2 0.0,34.3" fill="#e8eef5"/></g><rect transform="translate(-53 -24)" width="107" height="64.3" fill="#fff" filter="url(#bnuc)" opacity="0.4"/></svg>
<text x="535.8" y="834.0" font-size="7.4" fill="#111">C38</text>
<svg x="551" y="811.2" width="54" height="40.3" viewBox="0 0 54 40.3" overflow="hidden"><rect width="54" height="40.3" fill="#d3e1f0"/><g filter="url(#blr)"></g><rect transform="translate(-39 -55)" width="93" height="95.3" fill="#fff" filter="url(#bnuc)" opacity="0.4"/></svg>
<line x1="610.2" y1="632.5" x2="610.2" y2="803.8" stroke="#f4a070" stroke-width="1.8"/>
<line x1="610.2" y1="810.8" x2="610.2" y2="851.0" stroke="#7aaae0" stroke-width="1.8"/>
<text x="617.5" y="718.0" font-size="10" text-anchor="middle" transform="rotate(90 617.5 718.0)">CC1 high</text>
<text x="617.5" y="830.5" font-size="10" text-anchor="middle" transform="rotate(90 617.5 830.5)">CC1 low</text>
</svg></body></html>
